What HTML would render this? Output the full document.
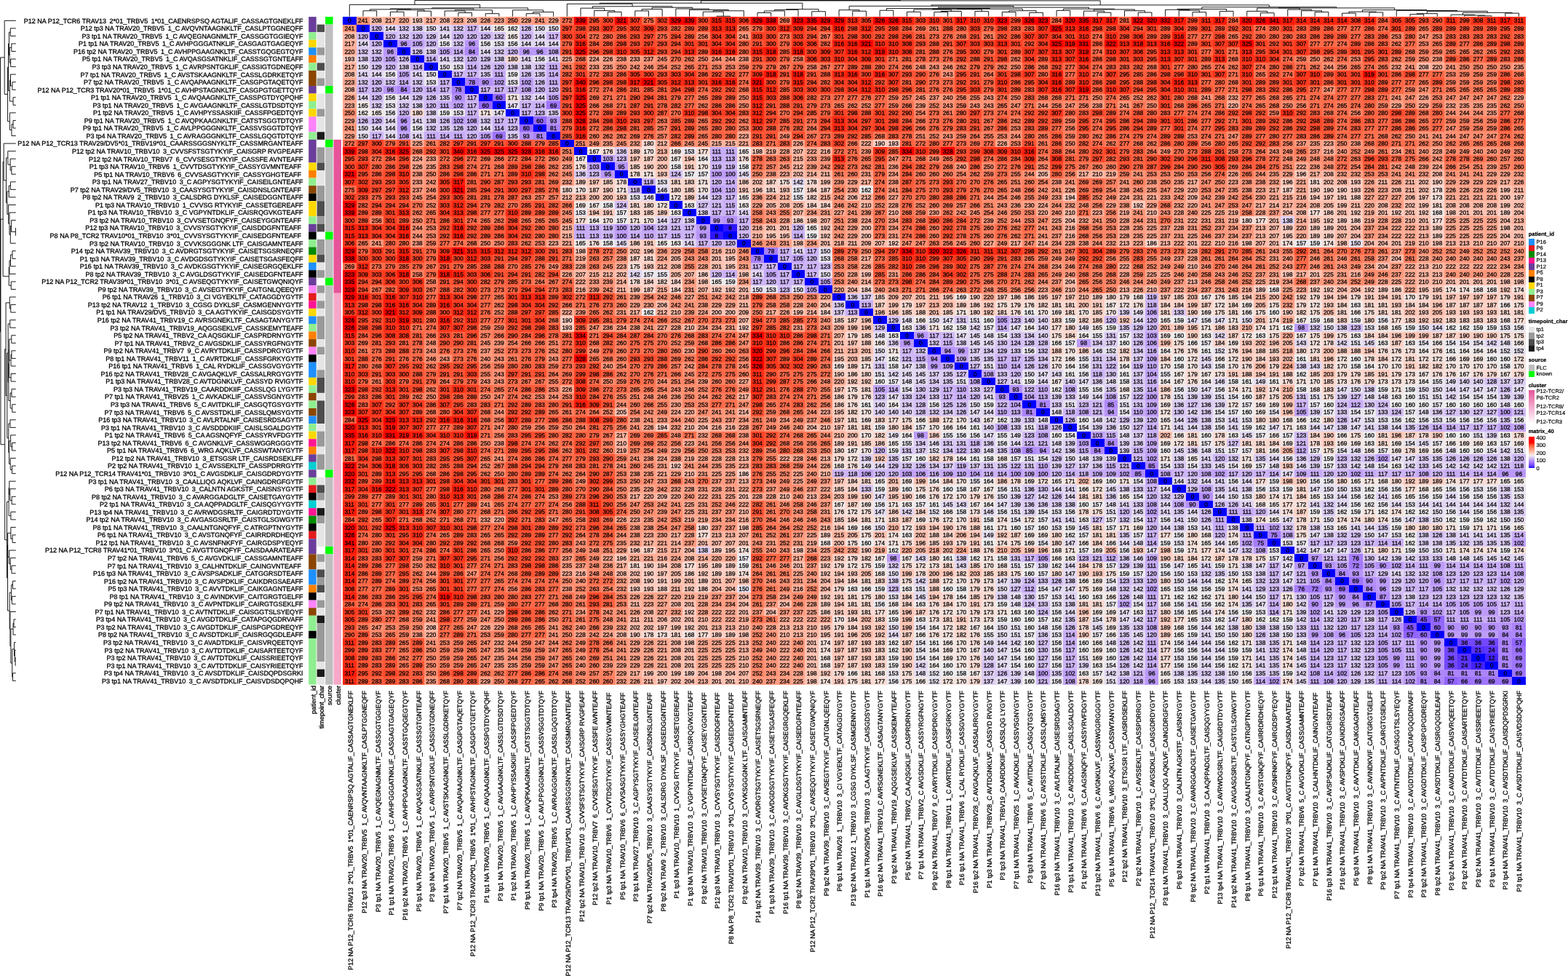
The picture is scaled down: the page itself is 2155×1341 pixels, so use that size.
<!DOCTYPE html><html lang="en"><head><meta charset="utf-8"><title>TCR distance heatmap</title><style>

html,body{margin:0;padding:0;background:#fff}
body{width:2155px;height:1341px;overflow:hidden;position:relative;font-family:"Liberation Sans",sans-serif;color:#000;text-rendering:geometricPrecision}
#rl{position:absolute;left:0;top:23.700000000000003px;-webkit-text-stroke:0.3px #000;width:416.5px;text-align:right;white-space:pre;font-size:9.03px;line-height:10.5469px}
#rl div{height:10.5469px}
#hm{position:absolute;left:471.0px;top:23.1px;width:1626.8125px;-webkit-text-stroke:0.3px #000;font-size:8.3px;line-height:10.5469px}
#hm div{display:flex;height:10.5469px}
#hm i{display:block;width:18.6875px;flex:none;text-align:center;font-style:normal;overflow:hidden;padding-top:0.4px;box-sizing:border-box;height:10.5469px}
#cl{position:absolute;left:2.3px;top:0;font-size:9.03px;white-space:pre;-webkit-text-stroke:0.3px #000}
#cl div{position:absolute;top:948.6px;height:18.6875px;line-height:18.6875px;width:600px;text-align:right;transform-origin:0 0;transform:rotate(-90deg) translate(-600px,0)}
#an div{position:absolute;top:942.2px;margin-left:1.4px;height:10.5px;line-height:10.5px;width:200px;text-align:right;transform-origin:0 0;transform:rotate(-90deg) translate(-200px,0);font-size:9.03px;-webkit-text-stroke:0.3px #000}
svg{position:absolute;overflow:visible}
#lg{position:absolute;left:0;top:0;font-size:7.5px;-webkit-text-stroke:0.2px #000}
#lg b,#lg span,#lg u{position:absolute;white-space:pre;line-height:10px}
#lg u{width:8.2px;height:8.5px;text-decoration:none}
.v0{background:#0000ff}.v6{background:#2e15ff}.v12{background:#4322fe}.v21{background:#5831fe}.v24{background:#5e36fe}.v36{background:#7348fd}.v45{background:#8154fd}.v57{background:#9065fc}.v60{background:#9469fb}.v66{background:#9b71fb}.v69{background:#9e75fb}.v72{background:#a279fa}.v75{background:#a57dfa}.v76{background:#a67efa}.v78{background:#a880fa}.v81{background:#ab84fa}.v84{background:#ae88f9}.v85{background:#af8af9}.v87{background:#b18cf9}.v90{background:#b490f9}.v93{background:#b794f8}.v94{background:#b896f8}.v95{background:#b997f8}.v96{background:#ba98f8}.v97{background:#bb99f8}.v98{background:#bc9bf8}.v99{background:#bd9cf8}.v100{background:#be9df7}.v102{background:#bfa0f7}.v103{background:#c0a1f7}.v104{background:#c1a3f7}.v105{background:#c2a4f7}.v106{background:#c3a5f7}.v108{background:#c5a8f6}.v109{background:#c6a9f6}.v110{background:#c7abf6}.v111{background:#c7acf6}.v112{background:#c8adf6}.v113{background:#c9aff6}.v114{background:#cab0f6}.v115{background:#cbb1f6}.v116{background:#ccb3f5}.v117{background:#cdb4f5}.v118{background:#cdb5f5}.v119{background:#ceb6f5}.v120{background:#cfb8f5}.v121{background:#d0b9f5}.v122{background:#d1baf5}.v123{background:#d2bcf4}.v124{background:#d2bdf4}.v125{background:#d3bef4}.v126{background:#d4c0f4}.v127{background:#d5c1f4}.v128{background:#d6c2f4}.v129{background:#d6c4f4}.v130{background:#d7c5f3}.v131{background:#d8c6f3}.v132{background:#d9c8f3}.v133{background:#dac9f3}.v134{background:#dacaf3}.v135{background:#dbccf3}.v136{background:#dccdf2}.v137{background:#ddcef2}.v138{background:#ded0f2}.v139{background:#ded1f2}.v140{background:#dfd2f2}.v141{background:#e0d4f2}.v142{background:#e1d5f1}.v143{background:#e1d6f1}.v144{background:#e2d8f1}.v145{background:#e3d9f1}.v146{background:#e4daf1}.v147{background:#e4dcf1}.v148{background:#e5ddf0}.v149{background:#e6def0}.v150{background:#e7e0f0}.v151{background:#e7e1f0}.v152{background:#e8e3f0}.v153{background:#e9e4ef}.v154{background:#e9e5ef}.v155{background:#eae7ef}.v156{background:#ebe8ef}.v157{background:#ece9ef}.v158{background:#ecebee}.v159{background:#edecee}.v160{background:#eeedee}.v161{background:#eeeded}.v162{background:#efecec}.v163{background:#f0ebea}.v164{background:#f0eae9}.v165{background:#f1e9e7}.v166{background:#f2e8e6}.v167{background:#f2e7e4}.v168{background:#f3e6e3}.v169{background:#f3e5e1}.v170{background:#f4e4e0}.v171{background:#f4e3de}.v172{background:#f5e2dd}.v173{background:#f6e1db}.v174{background:#f6e0da}.v175{background:#f7dfd8}.v176{background:#f7ddd7}.v177{background:#f8dcd5}.v178{background:#f8dbd4}.v179{background:#f9dad2}.v180{background:#f9d9d1}.v181{background:#f9d8cf}.v182{background:#fad7ce}.v183{background:#fad6cc}.v184{background:#fbd5cb}.v185{background:#fbd4c9}.v186{background:#fcd3c8}.v187{background:#fcd2c6}.v188{background:#fdd1c5}.v189{background:#fdcfc4}.v190{background:#fdcec2}.v191{background:#fecdc1}.v192{background:#feccbf}.v193{background:#fecbbe}.v194{background:#ffcabc}.v195{background:#ffc9bb}.v196{background:#ffc8b9}.v197{background:#ffc7b8}.v198{background:#ffc6b6}.v199{background:#ffc5b5}.v200{background:#ffc4b4}.v201{background:#ffc2b2}.v202{background:#ffc1b1}.v203{background:#ffc0af}.v204{background:#ffbfae}.v205{background:#ffbeac}.v206{background:#ffbdab}.v207{background:#ffbca9}.v208{background:#ffbba8}.v209{background:#ffbaa7}.v210{background:#ffb9a5}.v211{background:#ffb7a4}.v212{background:#ffb6a2}.v213{background:#ffb5a1}.v214{background:#ffb49f}.v215{background:#ffb39e}.v216{background:#ffb29d}.v217{background:#ffb19b}.v218{background:#ffb09a}.v219{background:#ffaf98}.v220{background:#ffae97}.v221{background:#ffac95}.v222{background:#ffab94}.v223{background:#ffaa93}.v224{background:#ffa991}.v225{background:#ffa890}.v226{background:#ffa78e}.v227{background:#ffa68d}.v228{background:#ffa58c}.v229{background:#ffa38a}.v230{background:#ffa289}.v231{background:#ffa187}.v232{background:#ffa086}.v233{background:#ff9f84}.v234{background:#ff9e83}.v235{background:#ff9d82}.v236{background:#ff9b80}.v237{background:#ff9a7f}.v238{background:#ff997e}.v239{background:#ff987c}.v240{background:#ff977b}.v241{background:#ff9679}.v242{background:#ff9478}.v243{background:#ff9377}.v244{background:#ff9275}.v245{background:#ff9174}.v246{background:#ff9072}.v247{background:#ff8f71}.v248{background:#ff8d70}.v249{background:#ff8c6e}.v250{background:#ff8b6d}.v251{background:#ff8a6b}.v252{background:#ff896a}.v253{background:#ff8769}.v254{background:#ff8667}.v255{background:#ff8566}.v256{background:#ff8465}.v257{background:#ff8363}.v258{background:#ff8162}.v259{background:#ff8061}.v260{background:#ff7f5f}.v261{background:#ff7e5e}.v262{background:#ff7c5c}.v263{background:#ff7b5b}.v264{background:#ff7a5a}.v265{background:#ff7958}.v266{background:#ff7757}.v267{background:#ff7656}.v268{background:#ff7554}.v269{background:#ff7353}.v270{background:#ff7251}.v271{background:#ff7150}.v272{background:#ff6f4f}.v273{background:#ff6e4d}.v274{background:#ff6d4c}.v275{background:#ff6b4b}.v276{background:#ff6a49}.v277{background:#ff6948}.v278{background:#ff6747}.v279{background:#ff6645}.v280{background:#ff6544}.v281{background:#ff6342}.v282{background:#ff6241}.v283{background:#ff6040}.v284{background:#ff5f3e}.v285{background:#ff5d3d}.v286{background:#ff5c3c}.v287{background:#ff5a3a}.v288{background:#ff5939}.v289{background:#ff5737}.v290{background:#ff5636}.v291{background:#ff5435}.v292{background:#ff5333}.v293{background:#ff5132}.v294{background:#ff5030}.v295{background:#ff4e2f}.v296{background:#ff4c2d}.v297{background:#ff4a2c}.v298{background:#ff492b}.v299{background:#ff4729}.v300{background:#ff4528}.v301{background:#ff4326}.v302{background:#ff4125}.v303{background:#ff3f23}.v304{background:#ff3d22}.v305{background:#ff3b20}.v306{background:#ff391e}.v307{background:#ff371d}.v308{background:#ff351b}.v309{background:#ff3319}.v310{background:#ff3018}.v311{background:#ff2e16}.v312{background:#ff2b14}.v313{background:#ff2812}.v314{background:#ff2510}.v315{background:#ff220e}.v316{background:#ff1e0c}.v317{background:#ff1a09}.v318{background:#ff1607}.v319{background:#ff1004}.v320{background:#ff0802}.v321{background:#ff0000}.v322{background:#ff0000}.v323{background:#ff0000}.v325{background:#ff0000}.v326{background:#ff0000}.v328{background:#ff0000}.v329{background:#ff0000}.v331{background:#ff0000}.v332{background:#ff0000}.v334{background:#ff0000}.v335{background:#ff0000}.v338{background:#ff0000}.v339{background:#ff0000}.v340{background:#ff0000}.v341{background:#ff0000}
</style></head><body>
<div id="rl"><div>P12 NA P12_TCR6 TRAV13 2*01_TRBV5 1*01_CAENRSPSQ AGTALIF_CASSAGTGNEKLFF</div><div>P12 tp3 NA TRAV20_TRBV5 1_C AVQVNTAAGNKLTF_CASLPTGGNEQFF</div><div>P3 tp1 NA TRAV20_TRBV5 1_C AVQEGNAGNMLTF_CASSGGTGGIEQYF</div><div>P1 tp1 NA TRAV20_TRBV5 1_C AVHPGGGATNKLIF_CASGAGTGAGEQYF</div><div>P16 tp2 NA TRAV20_TRBV5 1_C AVHPPGAAGNKLTF_CASSTGQGEGTQYF</div><div>P5 tp1 NA TRAV20_TRBV5 1_C AVQASGSATNKLIF_CASSSGTGNTEAFF</div><div>P3 tp3 NA TRAV20_TRBV5 1_C AVRPSNTGKLIF_CASSIGTGDNEQFF</div><div>P7 tp1 NA TRAV20_TRBV5 1_C AVSTSKAAGNKLTF_CASSLGDRKETQYF</div><div>P7 tp2 NA TRAV20_TRBV5 1_C AVQAPAAGNKLTF_CASGPGTAQETQYF</div><div>P12 NA P12_TCR3 TRAV20*01_TRBV5 1*01_C AVHPSTAGNKLTF_CASGPGTGETTQYF</div><div>P1 tp1 NA TRAV20_TRBV5 1_C AVQAAGNKLTF_CASSPGTDYQPQHF</div><div>P3 tp1 NA TRAV20_TRBV5 1_C AVGAAGNKLTF_CASSLGTDSDTQYF</div><div>P1 tp2 NA TRAV20_TRBV5 1_C AVHPYSSASKIIF_CASSFPGEDTQYF</div><div>P9 tp1 NA TRAV20_TRBV5 1_C AVQPKAAGNKLTF_CATSTSGGTDTQYF</div><div>P9 tp1 NA TRAV20_TRBV5 1_C AVLPPGGGNKLTF_CASSVSGGTDTQYF</div><div>P3 tp4 NA TRAV20_TRBV5 1_C AVRAGGGNKLTF_CASSLGQGTDTQYF</div><div>P12 NA P12_TCR13 TRAV29/DV5*01_TRBV19*01_CAARSSGGSNYKLTF_CASSMRGANTEAFF</div><div>P12 tp2 NA TRAV10_TRBV10 3_CVVSFSTSGTYKYIF_CAISGRP RVGPEAFF</div><div>P12 tp2 NA TRAV10_TRBV7 6_CVVSESGTYKYIF_CASSFE AVNTEAFF</div><div>P1 tp3 NA TRAV10_TRBV6 1_CVVTDSGTYKYIF_CASSYGVMNTEAFF </div><div>P5 tp1 NA TRAV10_TRBV6 6_CVVSASGTYKYIF_CASSYGHGTEAFF </div><div>P3 tp1 NA TRAV27_TRBV10 3_C AGPYSGTYKYIF_CAISEILGNTEAFF</div><div>P7 tp2 NA TRAV29/DV5_TRBV10 3_CAASYSGTYKYIF_CAISDNSLGNTEAFF </div><div>P8 tp2 NA TRAV9 2_TRBV10 3_CALSDRG DYKLSF_CAISEDGGNTEAFF</div><div>P1 tp3 NA TRAV10_TRBV10 1_CVVSG RTYKYIF_CASSETGEREAFF</div><div>P1 tp3 NA TRAV10_TRBV10 3_C VGPYNTDKLIF_CAISRQGVKGTEAFF</div><div>P3 tp2 NA TRAV10_TRBV10 3_CVVSETGNQFYF_CAISEYGGNTEAFF </div><div>P12 tp3 NA TRAV10_TRBV10 3_CVVSYSGTYKYIF_CAISDDGFNTEAFF </div><div>P8 NA P8_TCR2 TRAV10*01_TRBV10 3*01_CVVSYSGTYKYIF_CAISEDGFNTEAFF </div><div>P3 tp2 NA TRAV10_TRBV10 3_CVVKSGGGNK LTF_CAISGAMNTEAFF</div><div>P14 tp2 NA TRAV39_TRBV10 3_C AVDRGTSGTYKYIF_CAISETSGSRNEQFF</div><div>P1 tp3 NA TRAV39_TRBV10 3_C AVDGDSGTYKYIF_CAISETSGASFEQFF</div><div>P16 tp1 NA TRAV39_TRBV10 3_C AVDKGSGTYKYIF_CAISEGRGQEKLFF</div><div>P8 tp2 NA TRAV39_TRBV10 3_C AVGLDSGTYKYIF_CAISEDGFNTEAFF</div><div>P12 NA P12_TCR2 TRAV39*01_TRBV10 3*01_C AVSEQGTYKYIF_CAISETGWQNIQYF</div><div>P9 tp2 NA TRAV39_TRBV10 3_C AVSEGTYKYIF_CAITGNLQEEQYF</div><div>P6 tp1 NA TRAV26 1_TRBV10 3_CI VGYEKLTF_CATAGGDYGYTF</div><div>P13 tp2 NA TRAV12 1_TRBV10 3_CGSG DYKLSF_CASMGENNYGYTF</div><div>P1 tp1 NA TRAV29/DV5_TRBV10 3_CA AGTYKYIF_CAISGDSYGYTF</div><div>P16 tp2 NA TRAV41_TRBV19_C AVRSGNEKLTF_CASAGTANYGYTF</div><div>P3 tp2 NA TRAV41_TRBV19_AQGGSEKLVF_CASSKEMYTEAFF</div><div>P5 tp2 NA TRAV41_TRBV2_CA AQSGKLIF_CASPRDRNYGYTF</div><div>P7 tp1 NA TRAV41_TRBV2_C AVGSDKLIF_CASSYRGFNGYTF</div><div>P9 tp2 NA TRAV41_TRBV7 9_C AVRYTDKLIF_CASSPDRGYGYTF</div><div>P8 tp1 NA TRAV41_TRBV11 1_C AVRTDKLIF_CASSFGRKYGYTF</div><div>P16 tp1 NA TRAV41_TRBV6 1_CAL RYDKLIF_CASSGVGYGYTF</div><div>P16 tp2 NA TRAV41_TRBV28_C AVGAQKLVF_CASSALRRGYGYTF</div><div>P1 tp3 NA TRAV41_TRBV28_C AVTDGNKLVF_CASSYD RVIGYTF</div><div>P3 tp3 NA TRAV41_TRBV19_CAARDDKIIF_CASSLQG LYGYTF</div><div>P7 tp1 NA TRAV41_TRBV25 1_C AVKADKLIF_CASSVSGNYGYTF</div><div>P3 tp3 NA TRAV41_TRBV6 5_C AVITDKLIF_CASGQTGSYGYTF</div><div>P7 tp3 NA TRAV41_TRBV6 5_C AVSSTDKLIF_CASSLQMSYGYTF</div><div>P16 tp3 NA TRAV41_TRBV10 3_C AVLRTALNF_CAISESRDSAGYTF</div><div>P3 tp1 NA TRAV41_TRBV10 3_C AVSDDDKIIF_CAISLSGALDGYTF</div><div>P1 tp2 NA TRAV41_TRBV6 5_CA AGSNQFYF_CASSYRVFDGYTF</div><div>P13 tp2 NA TRAV41_TRBV6 6_C AVGNKLVF_CASSWGGRGGGYTF</div><div>P5 tp1 NA TRAV41_TRBV6 6_WRG AQKLVF_CASSWTANYGYTF</div><div>P12 tp2 NA TRAV41_TRBV10 3_ETSGSR LTF_CAISRDSEKLFF</div><div>P2 tp2 NA TRAV41_TRBV10 1_C AVSSEKLTF_CASSPDRRGYTF</div><div>P12 NA P12_TCR14 TRAV41*01_TRBV10 3*01_C AVGSDKLIF_CAISGDRDYGYTF</div><div>P3 tp1 NA TRAV41_TRBV10 3_CAALLIQG AQKLVF_CAINGDRGFGYTF</div><div>P6 tp3 NA TRAV41_TRBV10 3_CALNTN AGKSTF_CAISNSYGYTF</div><div>P8 tp2 NA TRAV41_TRBV10 3_C AVARGGADGLTF_CAISETGAYGYTF</div><div>P2 tp1 NA TRAV41_TRBV10 3_CA AQPPADGLTF_CAISQGYYGYTF</div><div>P13 tp4 NA TRAV41_TRBV10 3_C AVRWDGSRLTF_CAIGRDTDYGYTF</div><div>P14 tp2 NA TRAV41_TRBV10 3_C AVGASGSRLTF_CAISTGLSGWGYTF</div><div>P8 tp1 NA TRAV41_TRBV10 3_CAALNTGNQFYF_C ATRGPTNYGYTF</div><div>P6 tp1 NA TRAV41_TRBV10 3_C AVSTGNQFYF_CAIRRDRDHEQYF</div><div>P12 tp1 NA TRAV41_TRBV10 3_C AVSNFNKFYF_CAIRGDSPYEQYF</div><div>P12 NA P12_TCR8 TRAV41*01_TRBV10 3*01_C AVGTTGNQFYF_CAISDAARATEAFF</div><div>P7 tp2 NA TRAV41_TRBV6 5_C AVGVDKLIF_CASSGAMNTEAFF</div><div>P7 tp1 NA TRAV41_TRBV10 3_CALHNTDKLIF_CAINGVNTEAFF </div><div>P16 tp3 NA TRAV41_TRBV10 3_C AVSPSADKLIF_CATGGRSDTEAFF</div><div>P16 tp2 NA TRAV41_TRBV10 3_C AVSPDKLIF_CAIKDRGSAEAFF</div><div>P5 tp3 NA TRAV41_TRBV10 3_C AVVTDKLIF_CAIKGAGNTEAFF</div><div>P8 tp1 NA TRAV41_TRBV10 3_C AVINDKVIF_CAITGRGTGELFF</div><div>P9 tp2 NA TRAV41_TRBV10 3_C AVPNTDKLIF_CAIRGTGSEKLFF</div><div>P7 tp1 NA TRAV41_TRBV10 3_C AVTNTDKLIF_CAISGGTSLSYEQYF</div><div>P3 tp4 NA TRAV41_TRBV10 3_C AVGDTDKLIF_CATAPGQGDRVAFF</div><div>P3 tp2 NA TRAV41_TRBV10 3_C AVGDTDKLIF_CAISPGPGDREQYF</div><div>P8 tp2 NA TRAV41_TRBV10 3_C AVSDTDKLIF_CAISRGQGDLEAFF</div><div>P3 tp2 NA TRAV41_TRBV10 3_C AVADTDKLIF_CAISVRQEETQYF</div><div>P3 tp2 NA TRAV41_TRBV10 3_C AVTDTDKLIF_CAISARTEETQYF</div><div>P3 tp2 NA TRAV41_TRBV10 3_C AVTDTDKLIF_CAISSRIEETQYF</div><div>P3 tp1 NA TRAV41_TRBV10 3_C AVTDTDKLIF_CAISYRIEETQYF</div><div>P3 tp4 NA TRAV41_TRBV10 3_C AVSDTDKLIF_CAISDQPDSGRKI</div><div>P3 tp1 NA TRAV41_TRBV10 3_C AVSDTDKLIF_CAISVDSDQPQHF</div></div>
<svg width="2155" height="1341" style="left:0;top:0"><rect x="424.2" y="23.10" width="10.5" height="21.09" fill="#6a3d9a"/><rect x="424.2" y="44.19" width="10.5" height="10.55" fill="#90ee90"/><rect x="424.2" y="54.74" width="10.5" height="10.55" fill="#ffd700"/><rect x="424.2" y="65.29" width="10.5" height="10.55" fill="#1e90ff"/><rect x="424.2" y="75.83" width="10.5" height="10.55" fill="#ff7f00"/><rect x="424.2" y="86.38" width="10.5" height="10.55" fill="#90ee90"/><rect x="424.2" y="96.93" width="10.5" height="21.09" fill="#8b4500"/><rect x="424.2" y="118.02" width="10.5" height="10.55" fill="#6a3d9a"/><rect x="424.2" y="128.57" width="10.5" height="10.55" fill="#ffd700"/><rect x="424.2" y="139.12" width="10.5" height="10.55" fill="#90ee90"/><rect x="424.2" y="149.66" width="10.5" height="10.55" fill="#ffd700"/><rect x="424.2" y="160.21" width="10.5" height="21.09" fill="#ff83fa"/><rect x="424.2" y="181.30" width="10.5" height="10.55" fill="#90ee90"/><rect x="424.2" y="191.85" width="10.5" height="31.64" fill="#6a3d9a"/><rect x="424.2" y="223.49" width="10.5" height="10.55" fill="#ffd700"/><rect x="424.2" y="234.04" width="10.5" height="10.55" fill="#ff7f00"/><rect x="424.2" y="244.58" width="10.5" height="10.55" fill="#90ee90"/><rect x="424.2" y="255.13" width="10.5" height="10.55" fill="#8b4500"/><rect x="424.2" y="265.68" width="10.5" height="10.55" fill="#000000"/><rect x="424.2" y="276.23" width="10.5" height="21.09" fill="#ffd700"/><rect x="424.2" y="297.32" width="10.5" height="10.55" fill="#90ee90"/><rect x="424.2" y="307.87" width="10.5" height="10.55" fill="#6a3d9a"/><rect x="424.2" y="318.41" width="10.5" height="10.55" fill="#000000"/><rect x="424.2" y="328.96" width="10.5" height="10.55" fill="#90ee90"/><rect x="424.2" y="339.51" width="10.5" height="10.55" fill="#008b00"/><rect x="424.2" y="350.05" width="10.5" height="10.55" fill="#ffd700"/><rect x="424.2" y="360.60" width="10.5" height="10.55" fill="#1e90ff"/><rect x="424.2" y="371.15" width="10.5" height="10.55" fill="#000000"/><rect x="424.2" y="381.69" width="10.5" height="10.55" fill="#6a3d9a"/><rect x="424.2" y="392.24" width="10.5" height="10.55" fill="#ff83fa"/><rect x="424.2" y="402.79" width="10.5" height="10.55" fill="#e41a1c"/><rect x="424.2" y="413.33" width="10.5" height="10.55" fill="#ff1493"/><rect x="424.2" y="423.88" width="10.5" height="10.55" fill="#ffd700"/><rect x="424.2" y="434.43" width="10.5" height="10.55" fill="#1e90ff"/><rect x="424.2" y="444.98" width="10.5" height="10.55" fill="#90ee90"/><rect x="424.2" y="455.52" width="10.5" height="10.55" fill="#ff7f00"/><rect x="424.2" y="466.07" width="10.5" height="10.55" fill="#8b4500"/><rect x="424.2" y="476.62" width="10.5" height="10.55" fill="#ff83fa"/><rect x="424.2" y="487.16" width="10.5" height="10.55" fill="#000000"/><rect x="424.2" y="497.71" width="10.5" height="21.09" fill="#1e90ff"/><rect x="424.2" y="518.80" width="10.5" height="10.55" fill="#ffd700"/><rect x="424.2" y="529.35" width="10.5" height="10.55" fill="#90ee90"/><rect x="424.2" y="539.90" width="10.5" height="10.55" fill="#8b4500"/><rect x="424.2" y="550.44" width="10.5" height="10.55" fill="#90ee90"/><rect x="424.2" y="560.99" width="10.5" height="10.55" fill="#8b4500"/><rect x="424.2" y="571.54" width="10.5" height="10.55" fill="#1e90ff"/><rect x="424.2" y="582.08" width="10.5" height="10.55" fill="#90ee90"/><rect x="424.2" y="592.63" width="10.5" height="10.55" fill="#ffd700"/><rect x="424.2" y="603.18" width="10.5" height="10.55" fill="#ff1493"/><rect x="424.2" y="613.73" width="10.5" height="10.55" fill="#ff7f00"/><rect x="424.2" y="624.27" width="10.5" height="10.55" fill="#6a3d9a"/><rect x="424.2" y="634.82" width="10.5" height="10.55" fill="#00ced1"/><rect x="424.2" y="645.37" width="10.5" height="10.55" fill="#6a3d9a"/><rect x="424.2" y="655.91" width="10.5" height="10.55" fill="#90ee90"/><rect x="424.2" y="666.46" width="10.5" height="10.55" fill="#e41a1c"/><rect x="424.2" y="677.01" width="10.5" height="10.55" fill="#000000"/><rect x="424.2" y="687.55" width="10.5" height="10.55" fill="#00ced1"/><rect x="424.2" y="698.10" width="10.5" height="10.55" fill="#ff1493"/><rect x="424.2" y="708.65" width="10.5" height="10.55" fill="#008b00"/><rect x="424.2" y="719.19" width="10.5" height="10.55" fill="#000000"/><rect x="424.2" y="729.74" width="10.5" height="10.55" fill="#e41a1c"/><rect x="424.2" y="740.29" width="10.5" height="21.09" fill="#6a3d9a"/><rect x="424.2" y="761.38" width="10.5" height="21.09" fill="#8b4500"/><rect x="424.2" y="782.48" width="10.5" height="21.09" fill="#1e90ff"/><rect x="424.2" y="803.57" width="10.5" height="10.55" fill="#ff7f00"/><rect x="424.2" y="814.12" width="10.5" height="10.55" fill="#000000"/><rect x="424.2" y="824.66" width="10.5" height="10.55" fill="#ff83fa"/><rect x="424.2" y="835.21" width="10.5" height="10.55" fill="#8b4500"/><rect x="424.2" y="845.76" width="10.5" height="21.09" fill="#90ee90"/><rect x="424.2" y="866.85" width="10.5" height="10.55" fill="#000000"/><rect x="424.2" y="877.40" width="10.5" height="63.28" fill="#90ee90"/><rect x="435.6" y="33.65" width="10.5" height="10.55" fill="#4d4d4d"/><rect x="435.6" y="44.19" width="10.5" height="21.09" fill="#e5e5e5"/><rect x="435.6" y="65.29" width="10.5" height="10.55" fill="#999999"/><rect x="435.6" y="75.83" width="10.5" height="10.55" fill="#e5e5e5"/><rect x="435.6" y="86.38" width="10.5" height="10.55" fill="#4d4d4d"/><rect x="435.6" y="96.93" width="10.5" height="10.55" fill="#e5e5e5"/><rect x="435.6" y="107.47" width="10.5" height="10.55" fill="#999999"/><rect x="435.6" y="128.57" width="10.5" height="21.09" fill="#e5e5e5"/><rect x="435.6" y="149.66" width="10.5" height="10.55" fill="#999999"/><rect x="435.6" y="160.21" width="10.5" height="21.09" fill="#e5e5e5"/><rect x="435.6" y="181.30" width="10.5" height="10.55" fill="#1a1a1a"/><rect x="435.6" y="202.40" width="10.5" height="21.09" fill="#999999"/><rect x="435.6" y="223.49" width="10.5" height="10.55" fill="#4d4d4d"/><rect x="435.6" y="234.04" width="10.5" height="21.09" fill="#e5e5e5"/><rect x="435.6" y="255.13" width="10.5" height="21.09" fill="#999999"/><rect x="435.6" y="276.23" width="10.5" height="21.09" fill="#4d4d4d"/><rect x="435.6" y="297.32" width="10.5" height="10.55" fill="#999999"/><rect x="435.6" y="307.87" width="10.5" height="10.55" fill="#4d4d4d"/><rect x="435.6" y="328.96" width="10.5" height="21.09" fill="#999999"/><rect x="435.6" y="350.05" width="10.5" height="10.55" fill="#4d4d4d"/><rect x="435.6" y="360.60" width="10.5" height="10.55" fill="#e5e5e5"/><rect x="435.6" y="371.15" width="10.5" height="10.55" fill="#999999"/><rect x="435.6" y="392.24" width="10.5" height="10.55" fill="#999999"/><rect x="435.6" y="402.79" width="10.5" height="10.55" fill="#e5e5e5"/><rect x="435.6" y="413.33" width="10.5" height="10.55" fill="#999999"/><rect x="435.6" y="423.88" width="10.5" height="10.55" fill="#e5e5e5"/><rect x="435.6" y="434.43" width="10.5" height="31.64" fill="#999999"/><rect x="435.6" y="466.07" width="10.5" height="10.55" fill="#e5e5e5"/><rect x="435.6" y="476.62" width="10.5" height="10.55" fill="#999999"/><rect x="435.6" y="487.16" width="10.5" height="21.09" fill="#e5e5e5"/><rect x="435.6" y="508.26" width="10.5" height="10.55" fill="#999999"/><rect x="435.6" y="518.80" width="10.5" height="21.09" fill="#4d4d4d"/><rect x="435.6" y="539.90" width="10.5" height="10.55" fill="#e5e5e5"/><rect x="435.6" y="550.44" width="10.5" height="31.64" fill="#4d4d4d"/><rect x="435.6" y="582.08" width="10.5" height="10.55" fill="#e5e5e5"/><rect x="435.6" y="592.63" width="10.5" height="21.09" fill="#999999"/><rect x="435.6" y="613.73" width="10.5" height="10.55" fill="#e5e5e5"/><rect x="435.6" y="624.27" width="10.5" height="21.09" fill="#999999"/><rect x="435.6" y="655.91" width="10.5" height="10.55" fill="#e5e5e5"/><rect x="435.6" y="666.46" width="10.5" height="10.55" fill="#4d4d4d"/><rect x="435.6" y="677.01" width="10.5" height="10.55" fill="#999999"/><rect x="435.6" y="687.55" width="10.5" height="10.55" fill="#e5e5e5"/><rect x="435.6" y="698.10" width="10.5" height="10.55" fill="#1a1a1a"/><rect x="435.6" y="708.65" width="10.5" height="10.55" fill="#999999"/><rect x="435.6" y="719.19" width="10.5" height="31.64" fill="#e5e5e5"/><rect x="435.6" y="761.38" width="10.5" height="10.55" fill="#999999"/><rect x="435.6" y="771.93" width="10.5" height="10.55" fill="#e5e5e5"/><rect x="435.6" y="782.48" width="10.5" height="10.55" fill="#4d4d4d"/><rect x="435.6" y="793.02" width="10.5" height="10.55" fill="#999999"/><rect x="435.6" y="803.57" width="10.5" height="10.55" fill="#4d4d4d"/><rect x="435.6" y="814.12" width="10.5" height="10.55" fill="#e5e5e5"/><rect x="435.6" y="824.66" width="10.5" height="10.55" fill="#999999"/><rect x="435.6" y="835.21" width="10.5" height="10.55" fill="#e5e5e5"/><rect x="435.6" y="845.76" width="10.5" height="10.55" fill="#1a1a1a"/><rect x="435.6" y="856.30" width="10.5" height="52.73" fill="#999999"/><rect x="435.6" y="909.04" width="10.5" height="10.55" fill="#e5e5e5"/><rect x="435.6" y="919.58" width="10.5" height="10.55" fill="#1a1a1a"/><rect x="435.6" y="930.13" width="10.5" height="10.55" fill="#e5e5e5"/><rect x="447.1" y="23.10" width="10.5" height="10.55" fill="#00ff00"/><rect x="447.1" y="33.65" width="10.5" height="84.38" fill="#bebebe"/><rect x="447.1" y="118.02" width="10.5" height="10.55" fill="#00ff00"/><rect x="447.1" y="128.57" width="10.5" height="63.28" fill="#bebebe"/><rect x="447.1" y="191.85" width="10.5" height="10.55" fill="#00ff00"/><rect x="447.1" y="202.40" width="10.5" height="116.02" fill="#bebebe"/><rect x="447.1" y="318.41" width="10.5" height="10.55" fill="#00ff00"/><rect x="447.1" y="328.96" width="10.5" height="52.73" fill="#bebebe"/><rect x="447.1" y="381.69" width="10.5" height="10.55" fill="#00ff00"/><rect x="447.1" y="392.24" width="10.5" height="253.12" fill="#bebebe"/><rect x="447.1" y="645.37" width="10.5" height="10.55" fill="#00ff00"/><rect x="447.1" y="655.91" width="10.5" height="94.92" fill="#bebebe"/><rect x="447.1" y="750.83" width="10.5" height="10.55" fill="#00ff00"/><rect x="447.1" y="761.38" width="10.5" height="179.30" fill="#bebebe"/><rect x="458.5" y="191.85" width="10.5" height="210.94" fill="#e7549a"/><rect x="458.5" y="402.79" width="10.5" height="537.89" fill="#f7a8c9"/></svg>
<svg width="2155" height="1341" style="left:0;top:0" fill="none" stroke="#000" stroke-width="0.9"><path d="M0.50 78.97V455.91M6.18 78.97H0.50M6.18 28.37V129.56M21.80 28.37H6.18M10.56 129.56H6.18M10.56 92.31V166.80M11.49 92.31H10.56M11.49 60.01V124.61M12.43 60.01H11.49M12.43 44.19V75.83M14.30 44.19H12.43M14.30 38.92V49.47M21.80 38.92H14.30M21.80 49.47H14.30M13.18 75.83H12.43M13.18 65.29V86.38M15.80 65.29H13.18M15.80 60.01V70.56M21.80 60.01H15.80M21.80 70.56H15.80M14.68 86.38H13.18M14.68 81.11V91.65M21.80 81.11H14.68M21.80 91.65H14.68M13.37 124.61H11.49M13.37 110.11V139.12M14.49 110.11H13.37M14.49 102.20V118.02M21.80 102.20H14.49M16.93 118.02H14.49M16.93 112.75V123.30M21.80 112.75H16.93M21.80 123.30H16.93M18.05 139.12H13.37M18.05 133.84V144.39M21.80 133.84H18.05M21.80 144.39H18.05M13.37 166.80H10.56M13.37 154.94V178.67M21.80 154.94H13.37M15.99 178.67H13.37M15.99 170.76V186.58M18.05 170.76H15.99M18.05 165.48V176.03M21.80 165.48H18.05M21.80 176.03H18.05M21.80 186.58H15.99M0.94 455.91H0.50M0.94 301.09V610.73M4.12 301.09H0.94M4.12 222.46V379.72M5.18 222.46H4.12M5.18 197.12V247.80M21.80 197.12H5.18M8.50 247.80H5.18M8.50 216.90V278.70M10.81 216.90H8.50M10.81 207.67V226.13M21.80 207.67H10.81M14.12 226.13H10.81M14.12 218.22V234.04M21.80 218.22H14.12M15.87 234.04H14.12M15.87 228.76V239.31M21.80 228.76H15.87M21.80 239.31H15.87M9.87 278.70H8.50M9.87 263.04V294.35M12.24 263.04H9.87M12.24 255.13V270.95M14.43 255.13H12.24M14.43 249.86V260.40M21.80 249.86H14.43M21.80 260.40H14.43M21.80 270.95H12.24M11.62 294.35H9.87M11.62 281.50V307.21M21.80 281.50H11.62M12.99 307.21H11.62M12.99 292.05V322.37M21.80 292.05H12.99M14.30 322.37H12.99M14.30 310.50V334.23M15.62 310.50H14.30M15.62 302.59V318.41M21.80 302.59H15.62M21.43 318.41H15.62M21.43 313.14V323.69M21.80 313.14H21.43M21.80 323.69H21.43M21.80 334.23H14.30M12.24 379.72H4.12M12.24 367.19V392.24M12.99 367.19H12.24M12.99 357.96V376.42M14.49 357.96H12.99M14.49 350.05V365.87M16.93 350.05H14.49M16.93 344.78V355.33M21.80 344.78H16.93M21.80 355.33H16.93M21.80 365.87H14.49M21.80 376.42H12.99M15.24 392.24H12.24M15.24 386.97V397.51M21.80 386.97H15.24M21.80 397.51H15.24M6.68 610.73H0.94M6.68 479.71V741.75M8.06 479.71H6.68M8.06 415.97V543.44M13.24 415.97H8.06M13.24 408.06V423.88M21.80 408.06H13.24M14.74 423.88H13.24M14.74 418.61V429.15M21.80 418.61H14.74M21.80 429.15H14.74M9.81 543.44H8.06M9.81 485.02V601.86M11.12 485.02H9.81M11.12 444.98V525.07M13.74 444.98H11.12M13.74 439.70V450.25M21.80 439.70H13.74M21.80 450.25H13.74M11.87 525.07H11.12M11.87 499.69V550.44M12.37 499.69H11.87M12.37 480.57V518.80M12.62 480.57H12.37M12.62 466.07V495.07M15.80 466.07H12.62M15.80 460.80V471.34M21.80 460.80H15.80M21.80 471.34H15.80M14.99 495.07H12.62M14.99 487.16V502.98M15.93 487.16H14.99M15.93 481.89V492.44M21.80 481.89H15.93M21.80 492.44H15.93M21.80 502.98H14.99M15.05 518.80H12.37M15.05 513.53V524.08M21.80 513.53H15.05M21.80 524.08H15.05M14.18 550.44H11.87M14.18 539.90V560.99M15.99 539.90H14.18M15.99 534.62V545.17M21.80 534.62H15.99M21.80 545.17H15.99M16.74 560.99H14.18M16.74 555.72V566.26M21.80 555.72H16.74M21.80 566.26H16.74M11.81 601.86H9.81M11.81 582.08V621.64M13.93 582.08H11.81M13.93 576.81V587.36M21.80 576.81H13.93M21.80 587.36H13.93M12.56 621.64H11.81M12.56 605.81V637.46M14.62 605.81H12.56M14.62 597.90V613.73M21.80 597.90H14.62M16.55 613.73H14.62M16.55 608.45V619.00M21.80 608.45H16.55M21.80 619.00H16.55M14.24 637.46H12.56M14.24 629.55V645.37M21.80 629.55H14.24M16.49 645.37H14.24M16.49 640.09V650.64M21.80 640.09H16.49M21.80 650.64H16.49M9.43 741.75H6.68M9.43 689.53V793.97M12.06 689.53H9.43M12.06 670.41V708.65M12.81 670.41H12.06M12.81 661.19V679.64M21.80 661.19H12.81M13.74 679.64H12.81M13.74 671.73V687.55M21.80 671.73H13.74M16.18 687.55H13.74M16.18 682.28V692.83M21.80 682.28H16.18M21.80 692.83H16.18M14.87 708.65H12.06M14.87 703.37V713.92M21.80 703.37H14.87M21.80 713.92H14.87M10.56 793.97H9.43M10.56 748.86V839.08M10.68 748.86H10.56M10.68 732.38V765.34M14.87 732.38H10.68M14.87 724.47V740.29M21.80 724.47H14.87M17.12 740.29H14.87M17.12 735.01V745.56M21.80 735.01H17.12M21.80 745.56H17.12M12.62 765.34H10.68M12.62 756.11V774.56M21.80 756.11H12.62M14.24 774.56H12.62M14.24 766.65V782.48M21.80 766.65H14.24M15.99 782.48H14.24M15.99 777.20V787.75M21.80 777.20H15.99M21.80 787.75H15.99M13.18 839.08H10.56M13.18 814.12V864.05M15.62 814.12H13.18M15.62 803.57V824.66M17.49 803.57H15.62M17.49 798.30V808.84M21.80 798.30H17.49M21.80 808.84H17.49M16.37 824.66H15.62M16.37 819.39V829.94M21.80 819.39H16.37M21.80 829.94H16.37M13.93 864.05H13.18M13.93 840.48V887.61M21.80 840.48H13.93M14.87 887.61H13.93M14.87 864.21V911.02M18.05 864.21H14.87M18.05 856.30V872.12M18.99 856.30H18.05M18.99 851.03V861.58M21.80 851.03H18.99M21.80 861.58H18.99M21.80 872.12H18.05M16.74 911.02H14.87M16.74 891.90V930.13M19.55 891.90H16.74M19.55 882.67V901.13M21.80 882.67H19.55M20.30 901.13H19.55M20.30 893.22V909.04M21.80 893.22H20.30M21.05 909.04H20.30M21.05 903.76V914.31M21.80 903.76H21.05M21.80 914.31H21.05M17.49 930.13H16.74M17.49 924.86V935.40M21.80 924.86H17.49M21.80 935.40H17.49"/><path d="M569.99 0.50H1237.87M569.99 6.40V0.50M480.34 6.40H659.63M480.34 22.60V6.40M659.63 10.93V6.40M593.64 10.93H725.62M593.64 11.91V10.93M536.41 11.91H650.87M536.41 12.88V11.91M508.38 12.88H564.44M508.38 14.82V12.88M499.03 14.82H517.72M499.03 22.60V14.82M517.72 22.60V14.82M564.44 13.66V12.88M545.75 13.66H583.12M545.75 16.38V13.66M536.41 16.38H555.09M536.41 22.60V16.38M555.09 22.60V16.38M583.12 15.21V13.66M573.78 15.21H592.47M573.78 22.60V15.21M592.47 22.60V15.21M650.87 13.85V11.91M625.17 13.85H676.56M625.17 15.02V13.85M611.16 15.02H639.19M611.16 22.60V15.02M639.19 17.54V15.02M629.84 17.54H648.53M629.84 22.60V17.54M648.53 22.60V17.54M676.56 18.71V13.85M667.22 18.71H685.91M667.22 22.60V18.71M685.91 22.60V18.71M725.62 13.85V10.93M704.59 13.85H746.64M704.59 22.60V13.85M746.64 16.57V13.85M732.62 16.57H760.66M732.62 18.71V16.57M723.28 18.71H741.97M723.28 22.60V18.71M741.97 22.60V18.71M760.66 22.60V16.57M1237.87 0.95V0.50M963.55 0.95H1512.19M963.55 4.26V0.95M824.24 4.26H1102.87M824.24 5.36V4.26M779.34 5.36H869.13M779.34 22.60V5.36M869.13 8.80V5.36M814.38 8.80H923.88M814.38 11.19V8.80M798.03 11.19H830.73M798.03 22.60V11.19M830.73 14.63V11.19M816.72 14.63H844.75M816.72 22.60V14.63M844.75 16.44V14.63M835.41 16.44H854.09M835.41 22.60V16.44M854.09 22.60V16.44M923.88 10.22V8.80M896.14 10.22H951.62M896.14 12.68V10.22M882.12 12.68H910.16M882.12 14.95V12.68M872.78 14.95H891.47M872.78 22.60V14.95M891.47 22.60V14.95M910.16 22.60V12.68M951.62 12.04V10.22M928.84 12.04H974.39M928.84 22.60V12.04M974.39 13.46V12.04M947.53 13.46H1001.26M947.53 22.60V13.46M1001.26 14.82V13.46M980.23 14.82H1022.28M980.23 16.18V14.82M966.22 16.18H994.25M966.22 22.60V16.18M994.25 22.21V16.18M984.91 22.21H1003.59M984.91 22.60V22.21M1003.59 22.60V22.21M1022.28 22.60V14.82M1102.87 12.68V4.26M1080.68 12.68H1125.06M1080.68 13.46V12.68M1064.33 13.46H1097.03M1064.33 15.02V13.46M1050.31 15.02H1078.34M1050.31 17.54V15.02M1040.97 17.54H1059.66M1040.97 22.60V17.54M1059.66 22.60V17.54M1078.34 22.60V15.02M1097.03 22.60V13.46M1125.06 15.80V12.68M1115.72 15.80H1134.41M1115.72 22.60V15.80M1134.41 22.60V15.80M1512.19 6.92V0.95M1280.04 6.92H1744.34M1280.04 8.34V6.92M1167.11 8.34H1392.97M1167.11 13.72V8.34M1153.09 13.72H1181.12M1153.09 22.60V13.72M1181.12 15.28V13.72M1171.78 15.28H1190.47M1171.78 22.60V15.28M1190.47 22.60V15.28M1392.97 10.16V8.34M1289.45 10.16H1496.48M1289.45 11.52V10.16M1218.50 11.52H1360.41M1218.50 14.24V11.52M1209.16 14.24H1227.84M1209.16 22.60V14.24M1227.84 22.60V14.24M1360.41 12.30V11.52M1315.44 12.30H1405.38M1315.44 12.81V12.30M1281.57 12.81H1349.31M1281.57 13.07V12.81M1255.88 13.07H1307.27M1255.88 16.38V13.07M1246.53 16.38H1265.22M1246.53 22.60V16.38M1265.22 22.60V16.38M1307.27 15.54V13.07M1293.25 15.54H1321.28M1293.25 16.51V15.54M1283.91 16.51H1302.59M1283.91 22.60V16.51M1302.59 22.60V16.51M1321.28 22.60V15.54M1349.31 15.60V12.81M1339.97 15.60H1358.66M1339.97 22.60V15.60M1358.66 22.60V15.60M1405.38 14.69V12.30M1386.69 14.69H1424.06M1386.69 16.57V14.69M1377.34 16.57H1396.03M1377.34 22.60V16.57M1396.03 22.60V16.57M1424.06 17.35V14.69M1414.72 17.35H1433.41M1414.72 22.60V17.35M1433.41 22.60V17.35M1496.48 12.23V10.16M1461.44 12.23H1531.52M1461.44 14.43V12.23M1452.09 14.43H1470.78M1452.09 22.60V14.43M1470.78 22.60V14.43M1531.52 13.01V12.23M1503.48 13.01H1559.55M1503.48 15.15V13.01M1489.47 15.15H1517.50M1489.47 22.60V15.15M1517.50 17.16V15.15M1508.16 17.16H1526.84M1508.16 22.60V17.16M1526.84 22.60V17.16M1559.55 14.76V13.01M1545.53 14.76H1573.56M1545.53 22.60V14.76M1573.56 17.09V14.76M1564.22 17.09H1582.91M1564.22 22.60V17.09M1582.91 22.60V17.09M1744.34 9.77V6.92M1651.82 9.77H1836.87M1651.82 12.49V9.77M1617.95 12.49H1685.69M1617.95 13.27V12.49M1601.59 13.27H1634.30M1601.59 22.60V13.27M1634.30 14.24V13.27M1620.28 14.24H1648.31M1620.28 22.60V14.24M1648.31 16.77V14.24M1638.97 16.77H1657.66M1638.97 22.60V16.77M1657.66 22.60V16.77M1685.69 15.41V12.49M1676.34 15.41H1695.03M1676.34 22.60V15.41M1695.03 22.60V15.41M1836.87 10.93V9.77M1756.93 10.93H1916.80M1756.93 11.06V10.93M1727.73 11.06H1786.13M1727.73 15.41V11.06M1713.72 15.41H1741.75M1713.72 22.60V15.41M1741.75 17.74V15.41M1732.41 17.74H1751.09M1732.41 22.60V17.74M1751.09 22.60V17.74M1786.13 13.07V11.06M1769.78 13.07H1802.48M1769.78 22.60V13.07M1802.48 14.76V13.07M1788.47 14.76H1816.50M1788.47 22.60V14.76M1816.50 16.57V14.76M1807.16 16.57H1825.84M1807.16 22.60V16.57M1825.84 22.60V16.57M1916.80 13.66V10.93M1872.56 13.66H1961.04M1872.56 16.18V13.66M1853.88 16.18H1891.25M1853.88 18.13V16.18M1844.53 18.13H1863.22M1844.53 22.60V18.13M1863.22 22.60V18.13M1891.25 16.96V16.18M1881.91 16.96H1900.59M1881.91 22.60V16.96M1900.59 22.60V16.96M1961.04 14.43V13.66M1919.28 14.43H2002.79M1919.28 22.60V14.43M2002.79 15.41V14.43M1961.33 15.41H2044.25M1961.33 18.71V15.41M1947.31 18.71H1975.34M1947.31 19.68V18.71M1937.97 19.68H1956.66M1937.97 22.60V19.68M1956.66 22.60V19.68M1975.34 22.60V18.71M2044.25 17.35V15.41M2010.38 17.35H2078.12M2010.38 20.27V17.35M1994.03 20.27H2026.73M1994.03 22.60V20.27M2026.73 21.04V20.27M2012.72 21.04H2040.75M2012.72 22.60V21.04M2040.75 21.82V21.04M2031.41 21.82H2050.09M2031.41 22.60V21.82M2050.09 22.60V21.82M2078.12 18.13V17.35M2068.78 18.13H2087.47M2068.78 22.60V18.13M2087.47 22.60V18.13"/></svg>
<div id="hm"><div><i class=v0>0</i><i class=v241>241</i><i class=v208>208</i><i class=v217>217</i><i class=v220>220</i><i class=v193>193</i><i class=v217>217</i><i class=v208>208</i><i class=v223>223</i><i class=v208>208</i><i class=v226>226</i><i class=v223>223</i><i class=v250>250</i><i class=v229>229</i><i class=v241>241</i><i class=v229>229</i><i class=v272>272</i><i class=v339>339</i><i class=v295>295</i><i class=v300>300</i><i class=v321>321</i><i class=v307>307</i><i class=v275>275</i><i class=v302>302</i><i class=v329>329</i><i class=v339>339</i><i class=v300>300</i><i class=v315>315</i><i class=v315>315</i><i class=v306>306</i><i class=v329>329</i><i class=v338>338</i><i class=v269>269</i><i class=v323>323</i><i class=v335>335</i><i class=v329>329</i><i class=v329>329</i><i class=v313>313</i><i class=v305>305</i><i class=v326>326</i><i class=v326>326</i><i class=v315>315</i><i class=v303>303</i><i class=v310>310</i><i class=v301>301</i><i class=v317>317</i><i class=v310>310</i><i class=v310>310</i><i class=v323>323</i><i class=v299>299</i><i class=v326>326</i><i class=v323>323</i><i class=v284>284</i><i class=v320>320</i><i class=v335>335</i><i class=v317>317</i><i class=v317>317</i><i class=v281>281</i><i class=v322>322</i><i class=v320>320</i><i class=v332>332</i><i class=v317>317</i><i class=v299>299</i><i class=v311>311</i><i class=v317>317</i><i class=v284>284</i><i class=v320>320</i><i class=v326>326</i><i class=v341>341</i><i class=v317>317</i><i class=v314>314</i><i class=v314>314</i><i class=v314>314</i><i class=v314>314</i><i class=v308>308</i><i class=v314>314</i><i class=v284>284</i><i class=v305>305</i><i class=v305>305</i><i class=v293>293</i><i class=v290>290</i><i class=v311>311</i><i class=v299>299</i><i class=v308>308</i><i class=v311>311</i><i class=v317>317</i><i class=v311>311</i></div><div><i class=v241>241</i><i class=v0>0</i><i class=v120>120</i><i class=v144>144</i><i class=v132>132</i><i class=v138>138</i><i class=v150>150</i><i class=v141>141</i><i class=v132>132</i><i class=v117>117</i><i class=v144>144</i><i class=v165>165</i><i class=v162>162</i><i class=v126>126</i><i class=v150>150</i><i class=v150>150</i><i class=v297>297</i><i class=v298>298</i><i class=v293>293</i><i class=v307>307</i><i class=v295>295</i><i class=v302>302</i><i class=v309>309</i><i class=v293>293</i><i class=v282>282</i><i class=v289>289</i><i class=v289>289</i><i class=v313>313</i><i class=v313>313</i><i class=v265>265</i><i class=v279>279</i><i class=v300>300</i><i class=v312>312</i><i class=v309>309</i><i class=v294>294</i><i class=v294>294</i><i class=v316>316</i><i class=v298>298</i><i class=v312>312</i><i class=v295>295</i><i class=v298>298</i><i class=v284>284</i><i class=v269>269</i><i class=v261>261</i><i class=v288>288</i><i class=v280>280</i><i class=v303>303</i><i class=v279>279</i><i class=v298>298</i><i class=v283>283</i><i class=v283>283</i><i class=v307>307</i><i class=v325>325</i><i class=v313>313</i><i class=v316>316</i><i class=v298>298</i><i class=v298>298</i><i class=v304>304</i><i class=v294>294</i><i class=v301>301</i><i class=v289>289</i><i class=v304>304</i><i class=v289>289</i><i class=v301>301</i><i class=v289>289</i><i class=v292>292</i><i class=v301>301</i><i class=v274>274</i><i class=v280>280</i><i class=v301>301</i><i class=v283>283</i><i class=v289>289</i><i class=v286>286</i><i class=v277>277</i><i class=v277>277</i><i class=v286>286</i><i class=v274>274</i><i class=v301>301</i><i class=v289>289</i><i class=v265>265</i><i class=v289>289</i><i class=v289>289</i><i class=v289>289</i><i class=v289>289</i><i class=v289>289</i><i class=v295>295</i><i class=v289>289</i></div><div><i class=v208>208</i><i class=v120>120</i><i class=v0>0</i><i class=v120>120</i><i class=v132>132</i><i class=v120>120</i><i class=v129>129</i><i class=v144>144</i><i class=v120>120</i><i class=v120>120</i><i class=v120>120</i><i class=v132>132</i><i class=v165>165</i><i class=v120>120</i><i class=v144>144</i><i class=v117>117</i><i class=v300>300</i><i class=v304>304</i><i class=v272>272</i><i class=v280>280</i><i class=v286>286</i><i class=v293>293</i><i class=v297>297</i><i class=v275>275</i><i class=v294>294</i><i class=v289>289</i><i class=v256>256</i><i class=v304>304</i><i class=v304>304</i><i class=v241>241</i><i class=v303>303</i><i class=v300>300</i><i class=v273>273</i><i class=v303>303</i><i class=v294>294</i><i class=v267>267</i><i class=v301>301</i><i class=v298>298</i><i class=v300>300</i><i class=v292>292</i><i class=v298>298</i><i class=v296>296</i><i class=v281>281</i><i class=v273>273</i><i class=v276>276</i><i class=v268>268</i><i class=v291>291</i><i class=v261>261</i><i class=v292>292</i><i class=v286>286</i><i class=v307>307</i><i class=v307>307</i><i class=v304>304</i><i class=v301>301</i><i class=v310>310</i><i class=v274>274</i><i class=v310>310</i><i class=v298>298</i><i class=v306>306</i><i class=v289>289</i><i class=v289>289</i><i class=v316>316</i><i class=v277>277</i><i class=v277>277</i><i class=v298>298</i><i class=v265>265</i><i class=v292>292</i><i class=v280>280</i><i class=v280>280</i><i class=v280>280</i><i class=v283>283</i><i class=v286>286</i><i class=v289>289</i><i class=v289>289</i><i class=v277>277</i><i class=v283>283</i><i class=v286>286</i><i class=v253>253</i><i class=v280>280</i><i class=v247>247</i><i class=v253>253</i><i class=v283>283</i><i class=v283>283</i><i class=v283>283</i><i class=v283>283</i><i class=v292>292</i><i class=v283>283</i></div><div><i class=v217>217</i><i class=v144>144</i><i class=v120>120</i><i class=v0>0</i><i class=v96>96</i><i class=v105>105</i><i class=v120>120</i><i class=v156>156</i><i class=v132>132</i><i class=v96>96</i><i class=v156>156</i><i class=v153>153</i><i class=v156>156</i><i class=v144>144</i><i class=v144>144</i><i class=v144>144</i><i class=v279>279</i><i class=v316>316</i><i class=v284>284</i><i class=v286>286</i><i class=v298>298</i><i class=v293>293</i><i class=v297>297</i><i class=v293>293</i><i class=v294>294</i><i class=v301>301</i><i class=v301>301</i><i class=v304>304</i><i class=v304>304</i><i class=v280>280</i><i class=v291>291</i><i class=v300>300</i><i class=v279>279</i><i class=v306>306</i><i class=v306>306</i><i class=v282>282</i><i class=v316>316</i><i class=v316>316</i><i class=v321>321</i><i class=v310>310</i><i class=v310>310</i><i class=v308>308</i><i class=v293>293</i><i class=v288>288</i><i class=v291>291</i><i class=v307>307</i><i class=v303>303</i><i class=v303>303</i><i class=v313>313</i><i class=v301>301</i><i class=v292>292</i><i class=v304>304</i><i class=v325>325</i><i class=v319>319</i><i class=v331>331</i><i class=v286>286</i><i class=v322>322</i><i class=v313>313</i><i class=v318>318</i><i class=v313>313</i><i class=v316>316</i><i class=v322>322</i><i class=v289>289</i><i class=v301>301</i><i class=v307>307</i><i class=v307>307</i><i class=v325>325</i><i class=v301>301</i><i class=v292>292</i><i class=v301>301</i><i class=v307>307</i><i class=v277>277</i><i class=v277>277</i><i class=v274>274</i><i class=v289>289</i><i class=v286>286</i><i class=v283>283</i><i class=v262>262</i><i class=v277>277</i><i class=v253>253</i><i class=v265>265</i><i class=v289>289</i><i class=v277>277</i><i class=v286>286</i><i class=v289>289</i><i class=v298>298</i><i class=v289>289</i></div><div><i class=v220>220</i><i class=v132>132</i><i class=v132>132</i><i class=v96>96</i><i class=v0>0</i><i class=v126>126</i><i class=v138>138</i><i class=v105>105</i><i class=v114>114</i><i class=v84>84</i><i class=v144>144</i><i class=v132>132</i><i class=v120>120</i><i class=v96>96</i><i class=v96>96</i><i class=v108>108</i><i class=v291>291</i><i class=v325>325</i><i class=v296>296</i><i class=v298>298</i><i class=v310>310</i><i class=v305>305</i><i class=v312>312</i><i class=v293>293</i><i class=v294>294</i><i class=v313>313</i><i class=v289>289</i><i class=v316>316</i><i class=v316>316</i><i class=v280>280</i><i class=v315>315</i><i class=v318>318</i><i class=v285>285</i><i class=v318>318</i><i class=v300>300</i><i class=v309>309</i><i class=v307>307</i><i class=v316>316</i><i class=v312>312</i><i class=v319>319</i><i class=v310>310</i><i class=v308>308</i><i class=v281>281</i><i class=v288>288</i><i class=v276>276</i><i class=v295>295</i><i class=v300>300</i><i class=v279>279</i><i class=v301>301</i><i class=v289>289</i><i class=v307>307</i><i class=v307>307</i><i class=v313>313</i><i class=v307>307</i><i class=v319>319</i><i class=v274>274</i><i class=v310>310</i><i class=v307>307</i><i class=v306>306</i><i class=v295>295</i><i class=v313>313</i><i class=v313>313</i><i class=v301>301</i><i class=v277>277</i><i class=v301>301</i><i class=v271>271</i><i class=v313>313</i><i class=v295>295</i><i class=v304>304</i><i class=v301>301</i><i class=v307>307</i><i class=v298>298</i><i class=v295>295</i><i class=v289>289</i><i class=v301>301</i><i class=v295>295</i><i class=v301>301</i><i class=v289>289</i><i class=v268>268</i><i class=v259>259</i><i class=v259>259</i><i class=v265>265</i><i class=v265>265</i><i class=v262>262</i><i class=v265>265</i><i class=v292>292</i><i class=v283>283</i></div><div><i class=v193>193</i><i class=v138>138</i><i class=v120>120</i><i class=v105>105</i><i class=v126>126</i><i class=v0>0</i><i class=v114>114</i><i class=v141>141</i><i class=v132>132</i><i class=v120>120</i><i class=v129>129</i><i class=v138>138</i><i class=v180>180</i><i class=v141>141</i><i class=v156>156</i><i class=v141>141</i><i class=v225>225</i><i class=v268>268</i><i class=v224>224</i><i class=v226>226</i><i class=v238>238</i><i class=v233>233</i><i class=v237>237</i><i class=v245>245</i><i class=v270>270</i><i class=v262>262</i><i class=v250>250</i><i class=v244>244</i><i class=v244>244</i><i class=v238>238</i><i class=v291>291</i><i class=v300>300</i><i class=v279>279</i><i class=v258>258</i><i class=v306>306</i><i class=v303>303</i><i class=v310>310</i><i class=v304>304</i><i class=v309>309</i><i class=v301>301</i><i class=v271>271</i><i class=v281>281</i><i class=v278>278</i><i class=v273>273</i><i class=v276>276</i><i class=v292>292</i><i class=v288>288</i><i class=v291>291</i><i class=v298>298</i><i class=v262>262</i><i class=v304>304</i><i class=v289>289</i><i class=v313>313</i><i class=v307>307</i><i class=v316>316</i><i class=v286>286</i><i class=v298>298</i><i class=v301>301</i><i class=v303>303</i><i class=v295>295</i><i class=v313>313</i><i class=v307>307</i><i class=v301>301</i><i class=v289>289</i><i class=v313>313</i><i class=v268>268</i><i class=v310>310</i><i class=v310>310</i><i class=v304>304</i><i class=v274>274</i><i class=v259>259</i><i class=v250>250</i><i class=v262>262</i><i class=v274>274</i><i class=v253>253</i><i class=v295>295</i><i class=v283>283</i><i class=v262>262</i><i class=v259>259</i><i class=v250>250</i><i class=v238>238</i><i class=v289>289</i><i class=v286>286</i><i class=v277>277</i><i class=v289>289</i><i class=v283>283</i><i class=v286>286</i></div><div><i class=v217>217</i><i class=v150>150</i><i class=v129>129</i><i class=v120>120</i><i class=v138>138</i><i class=v114>114</i><i class=v0>0</i><i class=v150>150</i><i class=v153>153</i><i class=v114>114</i><i class=v126>126</i><i class=v120>120</i><i class=v138>138</i><i class=v138>138</i><i class=v132>132</i><i class=v111>111</i><i class=v261>261</i><i class=v292>292</i><i class=v233>233</i><i class=v235>235</i><i class=v250>250</i><i class=v242>242</i><i class=v246>246</i><i class=v254>254</i><i class=v252>252</i><i class=v265>265</i><i class=v271>271</i><i class=v253>253</i><i class=v253>253</i><i class=v259>259</i><i class=v279>279</i><i class=v279>279</i><i class=v267>267</i><i class=v279>279</i><i class=v258>258</i><i class=v267>267</i><i class=v277>277</i><i class=v289>289</i><i class=v288>288</i><i class=v280>280</i><i class=v274>274</i><i class=v266>266</i><i class=v248>248</i><i class=v243>243</i><i class=v246>246</i><i class=v262>262</i><i class=v279>279</i><i class=v279>279</i><i class=v262>262</i><i class=v250>250</i><i class=v286>286</i><i class=v268>268</i><i class=v292>292</i><i class=v277>277</i><i class=v304>304</i><i class=v274>274</i><i class=v283>283</i><i class=v283>283</i><i class=v282>282</i><i class=v268>268</i><i class=v301>301</i><i class=v277>277</i><i class=v280>280</i><i class=v265>265</i><i class=v274>274</i><i class=v262>262</i><i class=v307>307</i><i class=v274>274</i><i class=v280>280</i><i class=v286>286</i><i class=v271>271</i><i class=v262>262</i><i class=v244>244</i><i class=v256>256</i><i class=v265>265</i><i class=v274>274</i><i class=v265>265</i><i class=v232>232</i><i class=v241>241</i><i class=v208>208</i><i class=v220>220</i><i class=v241>241</i><i class=v250>250</i><i class=v250>250</i><i class=v250>250</i><i class=v250>250</i><i class=v235>235</i></div><div><i class=v208>208</i><i class=v141>141</i><i class=v144>144</i><i class=v156>156</i><i class=v105>105</i><i class=v141>141</i><i class=v150>150</i><i class=v0>0</i><i class=v117>117</i><i class=v117>117</i><i class=v135>135</i><i class=v111>111</i><i class=v159>159</i><i class=v126>126</i><i class=v135>135</i><i class=v114>114</i><i class=v282>282</i><i class=v301>301</i><i class=v272>272</i><i class=v283>283</i><i class=v286>286</i><i class=v305>305</i><i class=v300>300</i><i class=v293>293</i><i class=v303>303</i><i class=v304>304</i><i class=v286>286</i><i class=v292>292</i><i class=v292>292</i><i class=v277>277</i><i class=v309>309</i><i class=v318>318</i><i class=v291>291</i><i class=v318>318</i><i class=v291>291</i><i class=v288>288</i><i class=v313>313</i><i class=v316>316</i><i class=v300>300</i><i class=v316>316</i><i class=v307>307</i><i class=v293>293</i><i class=v290>290</i><i class=v276>276</i><i class=v243>243</i><i class=v295>295</i><i class=v291>291</i><i class=v264>264</i><i class=v301>301</i><i class=v298>298</i><i class=v307>307</i><i class=v280>280</i><i class=v316>316</i><i class=v277>277</i><i class=v310>310</i><i class=v274>274</i><i class=v307>307</i><i class=v295>295</i><i class=v285>285</i><i class=v286>286</i><i class=v298>298</i><i class=v298>298</i><i class=v310>310</i><i class=v301>301</i><i class=v307>307</i><i class=v271>271</i><i class=v310>310</i><i class=v265>265</i><i class=v292>292</i><i class=v274>274</i><i class=v307>307</i><i class=v310>310</i><i class=v289>289</i><i class=v301>301</i><i class=v301>301</i><i class=v319>319</i><i class=v301>301</i><i class=v286>286</i><i class=v298>298</i><i class=v277>277</i><i class=v277>277</i><i class=v253>253</i><i class=v259>259</i><i class=v259>259</i><i class=v259>259</i><i class=v286>286</i><i class=v268>268</i></div><div><i class=v223>223</i><i class=v132>132</i><i class=v120>120</i><i class=v132>132</i><i class=v114>114</i><i class=v132>132</i><i class=v153>153</i><i class=v117>117</i><i class=v0>0</i><i class=v78>78</i><i class=v90>90</i><i class=v102>102</i><i class=v153>153</i><i class=v102>102</i><i class=v126>126</i><i class=v111>111</i><i class=v297>297</i><i class=v340>340</i><i class=v296>296</i><i class=v298>298</i><i class=v298>298</i><i class=v317>317</i><i class=v321>321</i><i class=v305>305</i><i class=v312>312</i><i class=v313>313</i><i class=v301>301</i><i class=v316>316</i><i class=v316>316</i><i class=v274>274</i><i class=v321>321</i><i class=v300>300</i><i class=v279>279</i><i class=v315>315</i><i class=v294>294</i><i class=v282>282</i><i class=v304>304</i><i class=v304>304</i><i class=v312>312</i><i class=v292>292</i><i class=v307>307</i><i class=v281>281</i><i class=v290>290</i><i class=v273>273</i><i class=v273>273</i><i class=v292>292</i><i class=v291>291</i><i class=v279>279</i><i class=v310>310</i><i class=v286>286</i><i class=v295>295</i><i class=v304>304</i><i class=v316>316</i><i class=v289>289</i><i class=v310>310</i><i class=v286>286</i><i class=v298>298</i><i class=v295>295</i><i class=v288>288</i><i class=v298>298</i><i class=v304>304</i><i class=v316>316</i><i class=v313>313</i><i class=v277>277</i><i class=v280>280</i><i class=v268>268</i><i class=v301>301</i><i class=v289>289</i><i class=v289>289</i><i class=v301>301</i><i class=v307>307</i><i class=v301>301</i><i class=v286>286</i><i class=v301>301</i><i class=v301>301</i><i class=v310>310</i><i class=v289>289</i><i class=v277>277</i><i class=v277>277</i><i class=v265>265</i><i class=v289>289</i><i class=v259>259</i><i class=v259>259</i><i class=v259>259</i><i class=v259>259</i><i class=v298>298</i><i class=v280>280</i></div><div><i class=v208>208</i><i class=v117>117</i><i class=v120>120</i><i class=v96>96</i><i class=v84>84</i><i class=v120>120</i><i class=v114>114</i><i class=v117>117</i><i class=v78>78</i><i class=v0>0</i><i class=v117>117</i><i class=v117>117</i><i class=v117>117</i><i class=v108>108</i><i class=v120>120</i><i class=v120>120</i><i class=v291>291</i><i class=v316>316</i><i class=v272>272</i><i class=v274>274</i><i class=v286>286</i><i class=v281>281</i><i class=v285>285</i><i class=v281>281</i><i class=v294>294</i><i class=v298>298</i><i class=v274>274</i><i class=v292>292</i><i class=v292>292</i><i class=v268>268</i><i class=v315>315</i><i class=v312>312</i><i class=v285>285</i><i class=v303>303</i><i class=v300>300</i><i class=v300>300</i><i class=v298>298</i><i class=v304>304</i><i class=v312>312</i><i class=v310>310</i><i class=v298>298</i><i class=v296>296</i><i class=v281>281</i><i class=v276>276</i><i class=v276>276</i><i class=v295>295</i><i class=v303>303</i><i class=v279>279</i><i class=v301>301</i><i class=v289>289</i><i class=v283>283</i><i class=v307>307</i><i class=v316>316</i><i class=v307>307</i><i class=v319>319</i><i class=v286>286</i><i class=v310>310</i><i class=v307>307</i><i class=v294>294</i><i class=v295>295</i><i class=v304>304</i><i class=v310>310</i><i class=v301>301</i><i class=v289>289</i><i class=v277>277</i><i class=v271>271</i><i class=v298>298</i><i class=v283>283</i><i class=v292>292</i><i class=v286>286</i><i class=v295>295</i><i class=v277>277</i><i class=v247>247</i><i class=v277>277</i><i class=v277>277</i><i class=v298>298</i><i class=v289>289</i><i class=v277>277</i><i class=v259>259</i><i class=v247>247</i><i class=v271>271</i><i class=v265>265</i><i class=v265>265</i><i class=v265>265</i><i class=v265>265</i><i class=v289>289</i><i class=v283>283</i></div><div><i class=v226>226</i><i class=v144>144</i><i class=v120>120</i><i class=v156>156</i><i class=v144>144</i><i class=v129>129</i><i class=v126>126</i><i class=v135>135</i><i class=v90>90</i><i class=v117>117</i><i class=v0>0</i><i class=v60>60</i><i class=v171>171</i><i class=v132>132</i><i class=v144>144</i><i class=v105>105</i><i class=v297>297</i><i class=v325>325</i><i class=v269>269</i><i class=v271>271</i><i class=v271>271</i><i class=v290>290</i><i class=v294>294</i><i class=v281>281</i><i class=v279>279</i><i class=v277>277</i><i class=v265>265</i><i class=v289>289</i><i class=v289>289</i><i class=v250>250</i><i class=v315>315</i><i class=v303>303</i><i class=v288>288</i><i class=v306>306</i><i class=v282>282</i><i class=v273>273</i><i class=v277>277</i><i class=v277>277</i><i class=v276>276</i><i class=v277>277</i><i class=v259>259</i><i class=v257>257</i><i class=v245>245</i><i class=v237>237</i><i class=v240>240</i><i class=v256>256</i><i class=v255>255</i><i class=v243>243</i><i class=v274>274</i><i class=v250>250</i><i class=v283>283</i><i class=v268>268</i><i class=v268>268</i><i class=v271>271</i><i class=v271>271</i><i class=v250>250</i><i class=v274>274</i><i class=v265>265</i><i class=v252>252</i><i class=v262>262</i><i class=v301>301</i><i class=v280>280</i><i class=v268>268</i><i class=v241>241</i><i class=v268>268</i><i class=v232>232</i><i class=v277>277</i><i class=v265>265</i><i class=v268>268</i><i class=v265>265</i><i class=v271>271</i><i class=v274>274</i><i class=v274>274</i><i class=v277>277</i><i class=v277>277</i><i class=v283>283</i><i class=v271>271</i><i class=v241>241</i><i class=v247>247</i><i class=v226>226</i><i class=v253>253</i><i class=v247>247</i><i class=v247>247</i><i class=v247>247</i><i class=v247>247</i><i class=v262>262</i><i class=v229>229</i></div><div><i class=v223>223</i><i class=v165>165</i><i class=v132>132</i><i class=v153>153</i><i class=v132>132</i><i class=v138>138</i><i class=v120>120</i><i class=v111>111</i><i class=v102>102</i><i class=v117>117</i><i class=v60>60</i><i class=v0>0</i><i class=v147>147</i><i class=v117>117</i><i class=v114>114</i><i class=v69>69</i><i class=v291>291</i><i class=v325>325</i><i class=v266>266</i><i class=v268>268</i><i class=v271>271</i><i class=v287>287</i><i class=v291>291</i><i class=v278>278</i><i class=v282>282</i><i class=v277>277</i><i class=v262>262</i><i class=v286>286</i><i class=v286>286</i><i class=v250>250</i><i class=v312>312</i><i class=v291>291</i><i class=v288>288</i><i class=v291>291</i><i class=v279>279</i><i class=v273>273</i><i class=v265>265</i><i class=v262>262</i><i class=v252>252</i><i class=v277>277</i><i class=v259>259</i><i class=v266>266</i><i class=v239>239</i><i class=v252>252</i><i class=v243>243</i><i class=v259>259</i><i class=v243>243</i><i class=v243>243</i><i class=v265>265</i><i class=v247>247</i><i class=v271>271</i><i class=v244>244</i><i class=v256>256</i><i class=v247>247</i><i class=v256>256</i><i class=v238>238</i><i class=v271>271</i><i class=v241>241</i><i class=v267>267</i><i class=v250>250</i><i class=v301>301</i><i class=v268>268</i><i class=v286>286</i><i class=v265>265</i><i class=v271>271</i><i class=v220>220</i><i class=v274>274</i><i class=v265>265</i><i class=v268>268</i><i class=v250>250</i><i class=v256>256</i><i class=v271>271</i><i class=v274>274</i><i class=v265>265</i><i class=v274>274</i><i class=v280>280</i><i class=v259>259</i><i class=v229>229</i><i class=v250>250</i><i class=v229>229</i><i class=v259>259</i><i class=v232>232</i><i class=v235>235</i><i class=v235>235</i><i class=v235>235</i><i class=v262>262</i><i class=v250>250</i></div><div><i class=v250>250</i><i class=v162>162</i><i class=v165>165</i><i class=v156>156</i><i class=v120>120</i><i class=v180>180</i><i class=v138>138</i><i class=v159>159</i><i class=v153>153</i><i class=v117>117</i><i class=v171>171</i><i class=v147>147</i><i class=v0>0</i><i class=v117>117</i><i class=v123>123</i><i class=v135>135</i><i class=v300>300</i><i class=v325>325</i><i class=v272>272</i><i class=v289>289</i><i class=v289>289</i><i class=v293>293</i><i class=v300>300</i><i class=v287>287</i><i class=v270>270</i><i class=v310>310</i><i class=v298>298</i><i class=v304>304</i><i class=v304>304</i><i class=v283>283</i><i class=v312>312</i><i class=v294>294</i><i class=v270>270</i><i class=v294>294</i><i class=v285>285</i><i class=v279>279</i><i class=v301>301</i><i class=v298>298</i><i class=v288>288</i><i class=v301>301</i><i class=v292>292</i><i class=v290>290</i><i class=v254>254</i><i class=v273>273</i><i class=v261>261</i><i class=v280>280</i><i class=v297>297</i><i class=v273>273</i><i class=v274>274</i><i class=v274>274</i><i class=v292>292</i><i class=v292>292</i><i class=v307>307</i><i class=v280>280</i><i class=v283>283</i><i class=v298>298</i><i class=v289>289</i><i class=v274>274</i><i class=v288>288</i><i class=v280>280</i><i class=v283>283</i><i class=v277>277</i><i class=v274>274</i><i class=v274>274</i><i class=v286>286</i><i class=v292>292</i><i class=v298>298</i><i class=v292>292</i><i class=v259>259</i><i class=v310>310</i><i class=v292>292</i><i class=v283>283</i><i class=v268>268</i><i class=v274>274</i><i class=v256>256</i><i class=v280>280</i><i class=v280>280</i><i class=v298>298</i><i class=v289>289</i><i class=v268>268</i><i class=v280>280</i><i class=v244>244</i><i class=v244>244</i><i class=v244>244</i><i class=v235>235</i><i class=v277>277</i><i class=v268>268</i></div><div><i class=v229>229</i><i class=v126>126</i><i class=v120>120</i><i class=v144>144</i><i class=v96>96</i><i class=v141>141</i><i class=v138>138</i><i class=v126>126</i><i class=v102>102</i><i class=v108>108</i><i class=v132>132</i><i class=v117>117</i><i class=v117>117</i><i class=v0>0</i><i class=v60>60</i><i class=v93>93</i><i class=v288>288</i><i class=v328>328</i><i class=v284>284</i><i class=v298>298</i><i class=v310>310</i><i class=v293>293</i><i class=v297>297</i><i class=v263>263</i><i class=v285>285</i><i class=v289>289</i><i class=v265>265</i><i class=v292>292</i><i class=v292>292</i><i class=v262>262</i><i class=v312>312</i><i class=v297>297</i><i class=v285>285</i><i class=v291>291</i><i class=v273>273</i><i class=v294>294</i><i class=v313>313</i><i class=v304>304</i><i class=v297>297</i><i class=v301>301</i><i class=v298>298</i><i class=v284>284</i><i class=v266>266</i><i class=v273>273</i><i class=v276>276</i><i class=v280>280</i><i class=v291>291</i><i class=v267>267</i><i class=v286>286</i><i class=v262>262</i><i class=v289>289</i><i class=v292>292</i><i class=v289>289</i><i class=v259>259</i><i class=v295>295</i><i class=v274>274</i><i class=v295>295</i><i class=v286>286</i><i class=v294>294</i><i class=v289>289</i><i class=v301>301</i><i class=v301>301</i><i class=v286>286</i><i class=v277>277</i><i class=v292>292</i><i class=v271>271</i><i class=v301>301</i><i class=v289>289</i><i class=v292>292</i><i class=v286>286</i><i class=v292>292</i><i class=v298>298</i><i class=v289>289</i><i class=v274>274</i><i class=v286>286</i><i class=v283>283</i><i class=v277>277</i><i class=v286>286</i><i class=v286>286</i><i class=v265>265</i><i class=v277>277</i><i class=v259>259</i><i class=v259>259</i><i class=v256>256</i><i class=v259>259</i><i class=v286>286</i><i class=v277>277</i></div><div><i class=v241>241</i><i class=v150>150</i><i class=v144>144</i><i class=v144>144</i><i class=v96>96</i><i class=v156>156</i><i class=v132>132</i><i class=v135>135</i><i class=v126>126</i><i class=v120>120</i><i class=v144>144</i><i class=v114>114</i><i class=v123>123</i><i class=v60>60</i><i class=v0>0</i><i class=v81>81</i><i class=v279>279</i><i class=v316>316</i><i class=v272>272</i><i class=v286>286</i><i class=v298>298</i><i class=v281>281</i><i class=v285>285</i><i class=v257>257</i><i class=v291>291</i><i class=v289>289</i><i class=v265>265</i><i class=v280>280</i><i class=v280>280</i><i class=v253>253</i><i class=v300>300</i><i class=v288>288</i><i class=v276>276</i><i class=v282>282</i><i class=v264>264</i><i class=v294>294</i><i class=v313>313</i><i class=v304>304</i><i class=v297>297</i><i class=v304>304</i><i class=v298>298</i><i class=v296>296</i><i class=v266>266</i><i class=v276>276</i><i class=v279>279</i><i class=v283>283</i><i class=v291>291</i><i class=v267>267</i><i class=v286>286</i><i class=v253>253</i><i class=v283>283</i><i class=v289>289</i><i class=v277>277</i><i class=v256>256</i><i class=v295>295</i><i class=v274>274</i><i class=v295>295</i><i class=v286>286</i><i class=v294>294</i><i class=v289>289</i><i class=v277>277</i><i class=v301>301</i><i class=v274>274</i><i class=v277>277</i><i class=v295>295</i><i class=v283>283</i><i class=v289>289</i><i class=v289>289</i><i class=v292>292</i><i class=v286>286</i><i class=v292>292</i><i class=v298>298</i><i class=v289>289</i><i class=v274>274</i><i class=v283>283</i><i class=v277>277</i><i class=v277>277</i><i class=v286>286</i><i class=v286>286</i><i class=v265>265</i><i class=v277>277</i><i class=v247>247</i><i class=v259>259</i><i class=v259>259</i><i class=v259>259</i><i class=v286>286</i><i class=v265>265</i></div><div><i class=v229>229</i><i class=v150>150</i><i class=v117>117</i><i class=v144>144</i><i class=v108>108</i><i class=v141>141</i><i class=v111>111</i><i class=v114>114</i><i class=v111>111</i><i class=v120>120</i><i class=v105>105</i><i class=v69>69</i><i class=v135>135</i><i class=v93>93</i><i class=v81>81</i><i class=v0>0</i><i class=v285>285</i><i class=v316>316</i><i class=v260>260</i><i class=v262>262</i><i class=v262>262</i><i class=v269>269</i><i class=v276>276</i><i class=v257>257</i><i class=v282>282</i><i class=v289>289</i><i class=v265>265</i><i class=v280>280</i><i class=v280>280</i><i class=v223>223</i><i class=v291>291</i><i class=v291>291</i><i class=v249>249</i><i class=v294>294</i><i class=v267>267</i><i class=v273>273</i><i class=v289>289</i><i class=v292>292</i><i class=v285>285</i><i class=v268>268</i><i class=v283>283</i><i class=v278>278</i><i class=v251>251</i><i class=v252>252</i><i class=v243>243</i><i class=v259>259</i><i class=v264>264</i><i class=v255>255</i><i class=v253>253</i><i class=v244>244</i><i class=v280>280</i><i class=v265>265</i><i class=v286>286</i><i class=v259>259</i><i class=v280>280</i><i class=v262>262</i><i class=v286>286</i><i class=v274>274</i><i class=v279>279</i><i class=v274>274</i><i class=v289>289</i><i class=v289>289</i><i class=v253>253</i><i class=v274>274</i><i class=v271>271</i><i class=v247>247</i><i class=v289>289</i><i class=v277>277</i><i class=v280>280</i><i class=v277>277</i><i class=v283>283</i><i class=v286>286</i><i class=v289>289</i><i class=v274>274</i><i class=v277>277</i><i class=v271>271</i><i class=v268>268</i><i class=v262>262</i><i class=v250>250</i><i class=v241>241</i><i class=v241>241</i><i class=v244>244</i><i class=v247>247</i><i class=v247>247</i><i class=v247>247</i><i class=v274>274</i><i class=v262>262</i></div><div><i class=v272>272</i><i class=v297>297</i><i class=v300>300</i><i class=v279>279</i><i class=v291>291</i><i class=v225>225</i><i class=v261>261</i><i class=v282>282</i><i class=v297>297</i><i class=v291>291</i><i class=v297>297</i><i class=v291>291</i><i class=v300>300</i><i class=v288>288</i><i class=v279>279</i><i class=v285>285</i><i class=v0>0</i><i class=v251>251</i><i class=v249>249</i><i class=v235>235</i><i class=v245>245</i><i class=v232>232</i><i class=v180>180</i><i class=v212>212</i><i class=v266>266</i><i class=v245>245</i><i class=v245>245</i><i class=v215>215</i><i class=v215>215</i><i class=v221>221</i><i class=v283>283</i><i class=v271>271</i><i class=v283>283</i><i class=v226>226</i><i class=v274>274</i><i class=v283>283</i><i class=v302>302</i><i class=v266>266</i><i class=v222>222</i><i class=v190>190</i><i class=v193>193</i><i class=v281>281</i><i class=v272>272</i><i class=v280>280</i><i class=v277>277</i><i class=v273>273</i><i class=v269>269</i><i class=v272>272</i><i class=v226>226</i><i class=v253>253</i><i class=v291>291</i><i class=v261>261</i><i class=v286>286</i><i class=v250>250</i><i class=v282>282</i><i class=v274>274</i><i class=v262>262</i><i class=v277>277</i><i class=v268>268</i><i class=v262>262</i><i class=v286>286</i><i class=v280>280</i><i class=v289>289</i><i class=v256>256</i><i class=v280>280</i><i class=v265>265</i><i class=v292>292</i><i class=v292>292</i><i class=v283>283</i><i class=v256>256</i><i class=v237>237</i><i class=v235>235</i><i class=v223>223</i><i class=v250>250</i><i class=v238>238</i><i class=v268>268</i><i class=v280>280</i><i class=v271>271</i><i class=v271>271</i><i class=v262>262</i><i class=v250>250</i><i class=v262>262</i><i class=v265>265</i><i class=v265>265</i><i class=v265>265</i><i class=v268>268</i><i class=v268>268</i></div><div><i class=v339>339</i><i class=v298>298</i><i class=v304>304</i><i class=v316>316</i><i class=v325>325</i><i class=v268>268</i><i class=v292>292</i><i class=v301>301</i><i class=v340>340</i><i class=v316>316</i><i class=v325>325</i><i class=v325>325</i><i class=v325>325</i><i class=v328>328</i><i class=v316>316</i><i class=v316>316</i><i class=v251>251</i><i class=v0>0</i><i class=v167>167</i><i class=v176>176</i><i class=v136>136</i><i class=v189>189</i><i class=v170>170</i><i class=v213>213</i><i class=v169>169</i><i class=v153>153</i><i class=v177>177</i><i class=v111>111</i><i class=v111>111</i><i class=v165>165</i><i class=v198>198</i><i class=v219>219</i><i class=v228>228</i><i class=v207>207</i><i class=v222>222</i><i class=v216>216</i><i class=v272>272</i><i class=v271>271</i><i class=v239>239</i><i class=v309>309</i><i class=v285>285</i><i class=v334>334</i><i class=v310>310</i><i class=v299>299</i><i class=v328>328</i><i class=v293>293</i><i class=v299>299</i><i class=v308>308</i><i class=v309>309</i><i class=v310>310</i><i class=v316>316</i><i class=v274>274</i><i class=v288>288</i><i class=v264>264</i><i class=v280>280</i><i class=v292>292</i><i class=v301>301</i><i class=v279>279</i><i class=v283>283</i><i class=v264>264</i><i class=v249>249</i><i class=v270>270</i><i class=v273>273</i><i class=v288>288</i><i class=v291>291</i><i class=v258>258</i><i class=v273>273</i><i class=v264>264</i><i class=v243>243</i><i class=v249>249</i><i class=v265>265</i><i class=v237>237</i><i class=v216>216</i><i class=v240>240</i><i class=v252>252</i><i class=v249>249</i><i class=v261>261</i><i class=v234>234</i><i class=v261>261</i><i class=v240>240</i><i class=v228>228</i><i class=v249>249</i><i class=v249>249</i><i class=v240>240</i><i class=v240>240</i><i class=v249>249</i><i class=v252>252</i></div><div><i class=v295>295</i><i class=v293>293</i><i class=v272>272</i><i class=v284>284</i><i class=v296>296</i><i class=v224>224</i><i class=v233>233</i><i class=v272>272</i><i class=v296>296</i><i class=v272>272</i><i class=v269>269</i><i class=v266>266</i><i class=v272>272</i><i class=v284>284</i><i class=v272>272</i><i class=v260>260</i><i class=v249>249</i><i class=v167>167</i><i class=v0>0</i><i class=v103>103</i><i class=v123>123</i><i class=v197>197</i><i class=v187>187</i><i class=v200>200</i><i class=v167>167</i><i class=v194>194</i><i class=v164>164</i><i class=v113>113</i><i class=v113>113</i><i class=v176>176</i><i class=v278>278</i><i class=v263>263</i><i class=v263>263</i><i class=v215>215</i><i class=v233>233</i><i class=v239>239</i><i class=v313>313</i><i class=v276>276</i><i class=v265>265</i><i class=v295>295</i><i class=v247>247</i><i class=v271>271</i><i class=v268>268</i><i class=v249>249</i><i class=v265>265</i><i class=v292>292</i><i class=v298>298</i><i class=v274>274</i><i class=v286>286</i><i class=v284>284</i><i class=v309>309</i><i class=v264>264</i><i class=v308>308</i><i class=v281>281</i><i class=v279>279</i><i class=v297>297</i><i class=v282>282</i><i class=v293>293</i><i class=v281>281</i><i class=v290>290</i><i class=v302>302</i><i class=v290>290</i><i class=v296>296</i><i class=v311>311</i><i class=v308>308</i><i class=v293>293</i><i class=v296>296</i><i class=v278>278</i><i class=v272>272</i><i class=v248>248</i><i class=v249>249</i><i class=v248>248</i><i class=v248>248</i><i class=v272>272</i><i class=v263>263</i><i class=v296>296</i><i class=v293>293</i><i class=v278>278</i><i class=v275>275</i><i class=v266>266</i><i class=v242>242</i><i class=v278>278</i><i class=v278>278</i><i class=v269>269</i><i class=v260>260</i><i class=v257>257</i><i class=v260>260</i></div><div><i class=v300>300</i><i class=v307>307</i><i class=v280>280</i><i class=v286>286</i><i class=v298>298</i><i class=v226>226</i><i class=v235>235</i><i class=v283>283</i><i class=v298>298</i><i class=v274>274</i><i class=v271>271</i><i class=v268>268</i><i class=v289>289</i><i class=v298>298</i><i class=v286>286</i><i class=v262>262</i><i class=v235>235</i><i class=v176>176</i><i class=v103>103</i><i class=v0>0</i><i class=v95>95</i><i class=v185>185</i><i class=v190>190</i><i class=v200>200</i><i class=v158>158</i><i class=v191>191</i><i class=v170>170</i><i class=v119>119</i><i class=v119>119</i><i class=v158>158</i><i class=v272>272</i><i class=v257>257</i><i class=v245>245</i><i class=v212>212</i><i class=v239>239</i><i class=v242>242</i><i class=v292>292</i><i class=v273>273</i><i class=v262>262</i><i class=v281>281</i><i class=v236>236</i><i class=v294>294</i><i class=v282>282</i><i class=v279>279</i><i class=v268>268</i><i class=v240>240</i><i class=v286>286</i><i class=v250>250</i><i class=v272>272</i><i class=v276>276</i><i class=v291>291</i><i class=v252>252</i><i class=v299>299</i><i class=v275>275</i><i class=v267>267</i><i class=v260>260</i><i class=v260>260</i><i class=v290>290</i><i class=v278>278</i><i class=v287>287</i><i class=v299>299</i><i class=v284>284</i><i class=v290>290</i><i class=v290>290</i><i class=v305>305</i><i class=v269>269</i><i class=v284>284</i><i class=v284>284</i><i class=v275>275</i><i class=v251>251</i><i class=v222>222</i><i class=v236>236</i><i class=v248>248</i><i class=v272>272</i><i class=v254>254</i><i class=v284>284</i><i class=v281>281</i><i class=v242>242</i><i class=v248>248</i><i class=v239>239</i><i class=v224>224</i><i class=v266>266</i><i class=v254>254</i><i class=v251>251</i><i class=v239>239</i><i class=v257>257</i><i class=v260>260</i></div><div><i class=v321>321</i><i class=v295>295</i><i class=v286>286</i><i class=v298>298</i><i class=v310>310</i><i class=v238>238</i><i class=v250>250</i><i class=v286>286</i><i class=v298>298</i><i class=v286>286</i><i class=v271>271</i><i class=v271>271</i><i class=v289>289</i><i class=v310>310</i><i class=v298>298</i><i class=v262>262</i><i class=v245>245</i><i class=v136>136</i><i class=v123>123</i><i class=v95>95</i><i class=v0>0</i><i class=v178>178</i><i class=v171>171</i><i class=v193>193</i><i class=v124>124</i><i class=v157>157</i><i class=v157>157</i><i class=v100>100</i><i class=v100>100</i><i class=v145>145</i><i class=v250>250</i><i class=v238>238</i><i class=v223>223</i><i class=v202>202</i><i class=v214>214</i><i class=v211>211</i><i class=v261>261</i><i class=v260>260</i><i class=v231>231</i><i class=v279>279</i><i class=v234>234</i><i class=v284>284</i><i class=v260>260</i><i class=v260>260</i><i class=v260>260</i><i class=v254>254</i><i class=v262>262</i><i class=v259>259</i><i class=v273>273</i><i class=v255>255</i><i class=v244>244</i><i class=v205>205</i><i class=v280>280</i><i class=v256>256</i><i class=v217>217</i><i class=v210>210</i><i class=v219>219</i><i class=v259>259</i><i class=v241>241</i><i class=v253>253</i><i class=v253>253</i><i class=v250>250</i><i class=v253>253</i><i class=v256>256</i><i class=v274>274</i><i class=v226>226</i><i class=v265>265</i><i class=v244>244</i><i class=v235>235</i><i class=v229>229</i><i class=v196>196</i><i class=v217>217</i><i class=v208>208</i><i class=v232>232</i><i class=v232>232</i><i class=v253>253</i><i class=v253>253</i><i class=v241>241</i><i class=v241>241</i><i class=v232>232</i><i class=v208>208</i><i class=v241>241</i><i class=v241>241</i><i class=v241>241</i><i class=v229>229</i><i class=v229>229</i><i class=v232>232</i></div><div><i class=v307>307</i><i class=v302>302</i><i class=v293>293</i><i class=v293>293</i><i class=v305>305</i><i class=v233>233</i><i class=v242>242</i><i class=v305>305</i><i class=v317>317</i><i class=v281>281</i><i class=v290>290</i><i class=v287>287</i><i class=v293>293</i><i class=v293>293</i><i class=v281>281</i><i class=v269>269</i><i class=v232>232</i><i class=v189>189</i><i class=v197>197</i><i class=v185>185</i><i class=v178>178</i><i class=v0>0</i><i class=v118>118</i><i class=v153>153</i><i class=v181>181</i><i class=v183>183</i><i class=v171>171</i><i class=v120>120</i><i class=v114>114</i><i class=v186>186</i><i class=v202>202</i><i class=v187>187</i><i class=v175>175</i><i class=v142>142</i><i class=v178>178</i><i class=v199>199</i><i class=v239>239</i><i class=v229>229</i><i class=v217>217</i><i class=v274>274</i><i class=v238>238</i><i class=v287>287</i><i class=v275>275</i><i class=v273>273</i><i class=v293>293</i><i class=v270>270</i><i class=v270>270</i><i class=v276>276</i><i class=v265>265</i><i class=v251>251</i><i class=v260>260</i><i class=v254>254</i><i class=v238>238</i><i class=v241>241</i><i class=v269>269</i><i class=v269>269</i><i class=v257>257</i><i class=v241>241</i><i class=v260>260</i><i class=v238>238</i><i class=v250>250</i><i class=v235>235</i><i class=v217>217</i><i class=v247>247</i><i class=v250>250</i><i class=v223>223</i><i class=v238>238</i><i class=v238>238</i><i class=v232>232</i><i class=v196>196</i><i class=v221>221</i><i class=v181>181</i><i class=v202>202</i><i class=v208>208</i><i class=v193>193</i><i class=v226>226</i><i class=v211>211</i><i class=v226>226</i><i class=v211>211</i><i class=v202>202</i><i class=v190>190</i><i class=v229>229</i><i class=v229>229</i><i class=v229>229</i><i class=v229>229</i><i class=v217>217</i><i class=v226>226</i></div><div><i class=v275>275</i><i class=v309>309</i><i class=v297>297</i><i class=v297>297</i><i class=v312>312</i><i class=v237>237</i><i class=v246>246</i><i class=v300>300</i><i class=v321>321</i><i class=v285>285</i><i class=v294>294</i><i class=v291>291</i><i class=v300>300</i><i class=v297>297</i><i class=v285>285</i><i class=v276>276</i><i class=v180>180</i><i class=v170>170</i><i class=v187>187</i><i class=v190>190</i><i class=v171>171</i><i class=v118>118</i><i class=v0>0</i><i class=v146>146</i><i class=v180>180</i><i class=v185>185</i><i class=v170>170</i><i class=v104>104</i><i class=v110>110</i><i class=v191>191</i><i class=v196>196</i><i class=v181>181</i><i class=v193>193</i><i class=v157>157</i><i class=v184>184</i><i class=v187>187</i><i class=v254>254</i><i class=v230>230</i><i class=v162>162</i><i class=v274>274</i><i class=v241>241</i><i class=v284>284</i><i class=v275>275</i><i class=v270>270</i><i class=v293>293</i><i class=v279>279</i><i class=v276>276</i><i class=v270>270</i><i class=v265>265</i><i class=v248>248</i><i class=v266>266</i><i class=v242>242</i><i class=v241>241</i><i class=v226>226</i><i class=v269>269</i><i class=v269>269</i><i class=v254>254</i><i class=v238>238</i><i class=v245>245</i><i class=v235>235</i><i class=v247>247</i><i class=v229>229</i><i class=v220>220</i><i class=v253>253</i><i class=v247>247</i><i class=v235>235</i><i class=v238>238</i><i class=v223>223</i><i class=v217>217</i><i class=v187>187</i><i class=v221>221</i><i class=v190>190</i><i class=v190>190</i><i class=v190>190</i><i class=v193>193</i><i class=v226>226</i><i class=v223>223</i><i class=v208>208</i><i class=v211>211</i><i class=v202>202</i><i class=v178>178</i><i class=v226>226</i><i class=v226>226</i><i class=v226>226</i><i class=v226>226</i><i class=v199>199</i><i class=v211>211</i></div><div><i class=v302>302</i><i class=v293>293</i><i class=v275>275</i><i class=v293>293</i><i class=v293>293</i><i class=v245>245</i><i class=v254>254</i><i class=v293>293</i><i class=v305>305</i><i class=v281>281</i><i class=v281>281</i><i class=v278>278</i><i class=v287>287</i><i class=v263>263</i><i class=v257>257</i><i class=v257>257</i><i class=v212>212</i><i class=v213>213</i><i class=v200>200</i><i class=v200>200</i><i class=v193>193</i><i class=v153>153</i><i class=v146>146</i><i class=v0>0</i><i class=v172>172</i><i class=v189>189</i><i class=v144>144</i><i class=v123>123</i><i class=v117>117</i><i class=v165>165</i><i class=v236>236</i><i class=v224>224</i><i class=v212>212</i><i class=v155>155</i><i class=v182>182</i><i class=v215>215</i><i class=v242>242</i><i class=v206>206</i><i class=v212>212</i><i class=v266>266</i><i class=v227>227</i><i class=v270>270</i><i class=v270>270</i><i class=v280>280</i><i class=v288>288</i><i class=v286>286</i><i class=v271>271</i><i class=v244>244</i><i class=v254>254</i><i class=v246>246</i><i class=v255>255</i><i class=v249>249</i><i class=v233>233</i><i class=v194>194</i><i class=v285>285</i><i class=v252>252</i><i class=v249>249</i><i class=v224>224</i><i class=v231>231</i><i class=v221>221</i><i class=v233>233</i><i class=v242>242</i><i class=v209>209</i><i class=v242>242</i><i class=v239>239</i><i class=v242>242</i><i class=v254>254</i><i class=v230>230</i><i class=v221>221</i><i class=v215>215</i><i class=v216>216</i><i class=v194>194</i><i class=v197>197</i><i class=v191>191</i><i class=v188>188</i><i class=v227>227</i><i class=v227>227</i><i class=v227>227</i><i class=v206>206</i><i class=v197>197</i><i class=v173>173</i><i class=v221>221</i><i class=v221>221</i><i class=v221>221</i><i class=v221>221</i><i class=v200>200</i><i class=v197>197</i></div><div><i class=v329>329</i><i class=v282>282</i><i class=v294>294</i><i class=v294>294</i><i class=v294>294</i><i class=v270>270</i><i class=v252>252</i><i class=v303>303</i><i class=v312>312</i><i class=v294>294</i><i class=v279>279</i><i class=v282>282</i><i class=v270>270</i><i class=v285>285</i><i class=v291>291</i><i class=v282>282</i><i class=v266>266</i><i class=v169>169</i><i class=v167>167</i><i class=v158>158</i><i class=v124>124</i><i class=v181>181</i><i class=v180>180</i><i class=v172>172</i><i class=v0>0</i><i class=v163>163</i><i class=v127>127</i><i class=v121>121</i><i class=v115>115</i><i class=v163>163</i><i class=v229>229</i><i class=v205>205</i><i class=v208>208</i><i class=v205>205</i><i class=v184>184</i><i class=v184>184</i><i class=v246>246</i><i class=v242>242</i><i class=v210>210</i><i class=v252>252</i><i class=v228>228</i><i class=v276>276</i><i class=v252>252</i><i class=v260>260</i><i class=v269>269</i><i class=v257>257</i><i class=v266>266</i><i class=v251>251</i><i class=v243>243</i><i class=v236>236</i><i class=v230>230</i><i class=v224>224</i><i class=v244>244</i><i class=v232>232</i><i class=v248>248</i><i class=v256>256</i><i class=v229>229</i><i class=v238>238</i><i class=v192>192</i><i class=v229>229</i><i class=v268>268</i><i class=v232>232</i><i class=v220>220</i><i class=v241>241</i><i class=v247>247</i><i class=v253>253</i><i class=v247>247</i><i class=v217>217</i><i class=v214>214</i><i class=v217>217</i><i class=v224>224</i><i class=v208>208</i><i class=v205>205</i><i class=v199>199</i><i class=v211>211</i><i class=v220>220</i><i class=v208>208</i><i class=v232>232</i><i class=v202>202</i><i class=v199>199</i><i class=v181>181</i><i class=v208>208</i><i class=v208>208</i><i class=v208>208</i><i class=v208>208</i><i class=v199>199</i><i class=v202>202</i></div><div><i class=v339>339</i><i class=v289>289</i><i class=v289>289</i><i class=v301>301</i><i class=v313>313</i><i class=v262>262</i><i class=v265>265</i><i class=v304>304</i><i class=v313>313</i><i class=v298>298</i><i class=v277>277</i><i class=v277>277</i><i class=v310>310</i><i class=v289>289</i><i class=v289>289</i><i class=v289>289</i><i class=v245>245</i><i class=v153>153</i><i class=v194>194</i><i class=v191>191</i><i class=v157>157</i><i class=v183>183</i><i class=v185>185</i><i class=v189>189</i><i class=v163>163</i><i class=v0>0</i><i class=v138>138</i><i class=v117>117</i><i class=v117>117</i><i class=v141>141</i><i class=v258>258</i><i class=v243>243</i><i class=v255>255</i><i class=v207>207</i><i class=v234>234</i><i class=v231>231</i><i class=v227>227</i><i class=v241>241</i><i class=v239>239</i><i class=v267>267</i><i class=v210>210</i><i class=v268>268</i><i class=v259>259</i><i class=v230>230</i><i class=v262>262</i><i class=v242>242</i><i class=v245>245</i><i class=v254>254</i><i class=v246>246</i><i class=v250>250</i><i class=v253>253</i><i class=v220>220</i><i class=v240>240</i><i class=v210>210</i><i class=v271>271</i><i class=v223>223</i><i class=v256>256</i><i class=v219>219</i><i class=v241>241</i><i class=v210>210</i><i class=v243>243</i><i class=v228>228</i><i class=v240>240</i><i class=v225>225</i><i class=v225>225</i><i class=v219>219</i><i class=v258>258</i><i class=v228>228</i><i class=v237>237</i><i class=v204>204</i><i class=v208>208</i><i class=v177>177</i><i class=v186>186</i><i class=v201>201</i><i class=v192>192</i><i class=v219>219</i><i class=v201>201</i><i class=v192>192</i><i class=v201>201</i><i class=v192>192</i><i class=v168>168</i><i class=v198>198</i><i class=v201>201</i><i class=v201>201</i><i class=v201>201</i><i class=v189>189</i><i class=v204>204</i></div><div><i class=v300>300</i><i class=v289>289</i><i class=v256>256</i><i class=v301>301</i><i class=v289>289</i><i class=v250>250</i><i class=v271>271</i><i class=v286>286</i><i class=v301>301</i><i class=v274>274</i><i class=v265>265</i><i class=v262>262</i><i class=v298>298</i><i class=v265>265</i><i class=v265>265</i><i class=v265>265</i><i class=v245>245</i><i class=v177>177</i><i class=v164>164</i><i class=v170>170</i><i class=v157>157</i><i class=v171>171</i><i class=v170>170</i><i class=v144>144</i><i class=v127>127</i><i class=v138>138</i><i class=v0>0</i><i class=v99>99</i><i class=v93>93</i><i class=v117>117</i><i class=v258>258</i><i class=v243>243</i><i class=v228>228</i><i class=v186>186</i><i class=v198>198</i><i class=v207>207</i><i class=v251>251</i><i class=v238>238</i><i class=v224>224</i><i class=v270>270</i><i class=v234>234</i><i class=v283>283</i><i class=v268>268</i><i class=v290>290</i><i class=v286>286</i><i class=v284>284</i><i class=v272>272</i><i class=v239>239</i><i class=v252>252</i><i class=v244>244</i><i class=v253>253</i><i class=v247>247</i><i class=v225>225</i><i class=v204>204</i><i class=v232>232</i><i class=v241>241</i><i class=v250>250</i><i class=v228>228</i><i class=v244>244</i><i class=v231>231</i><i class=v270>270</i><i class=v231>231</i><i class=v222>222</i><i class=v231>231</i><i class=v231>231</i><i class=v219>219</i><i class=v180>180</i><i class=v177>177</i><i class=v201>201</i><i class=v138>138</i><i class=v214>214</i><i class=v195>195</i><i class=v192>192</i><i class=v189>189</i><i class=v186>186</i><i class=v219>219</i><i class=v228>228</i><i class=v228>228</i><i class=v210>210</i><i class=v201>201</i><i class=v177>177</i><i class=v225>225</i><i class=v225>225</i><i class=v225>225</i><i class=v225>225</i><i class=v204>204</i><i class=v213>213</i></div><div><i class=v315>315</i><i class=v313>313</i><i class=v304>304</i><i class=v304>304</i><i class=v316>316</i><i class=v244>244</i><i class=v253>253</i><i class=v292>292</i><i class=v316>316</i><i class=v292>292</i><i class=v289>289</i><i class=v286>286</i><i class=v304>304</i><i class=v292>292</i><i class=v280>280</i><i class=v280>280</i><i class=v215>215</i><i class=v111>111</i><i class=v113>113</i><i class=v119>119</i><i class=v100>100</i><i class=v120>120</i><i class=v104>104</i><i class=v123>123</i><i class=v121>121</i><i class=v117>117</i><i class=v99>99</i><i class=v0>0</i><i class=v6>6</i><i class=v120>120</i><i class=v216>216</i><i class=v201>201</i><i class=v201>201</i><i class=v120>120</i><i class=v165>165</i><i class=v192>192</i><i class=v242>242</i><i class=v229>229</i><i class=v200>200</i><i class=v273>273</i><i class=v234>234</i><i class=v274>274</i><i class=v286>286</i><i class=v260>260</i><i class=v292>292</i><i class=v278>278</i><i class=v275>275</i><i class=v260>260</i><i class=v276>276</i><i class=v262>262</i><i class=v277>277</i><i class=v241>241</i><i class=v243>243</i><i class=v216>216</i><i class=v268>268</i><i class=v256>256</i><i class=v253>253</i><i class=v228>228</i><i class=v235>235</i><i class=v225>225</i><i class=v237>237</i><i class=v228>228</i><i class=v231>231</i><i class=v252>252</i><i class=v237>237</i><i class=v234>234</i><i class=v237>237</i><i class=v213>213</i><i class=v207>207</i><i class=v189>189</i><i class=v220>220</i><i class=v189>189</i><i class=v189>189</i><i class=v201>201</i><i class=v204>204</i><i class=v237>237</i><i class=v234>234</i><i class=v222>222</i><i class=v222>222</i><i class=v213>213</i><i class=v189>189</i><i class=v225>225</i><i class=v225>225</i><i class=v225>225</i><i class=v225>225</i><i class=v198>198</i><i class=v201>201</i></div><div><i class=v315>315</i><i class=v313>313</i><i class=v304>304</i><i class=v304>304</i><i class=v316>316</i><i class=v244>244</i><i class=v253>253</i><i class=v292>292</i><i class=v316>316</i><i class=v292>292</i><i class=v289>289</i><i class=v286>286</i><i class=v304>304</i><i class=v292>292</i><i class=v280>280</i><i class=v280>280</i><i class=v215>215</i><i class=v111>111</i><i class=v113>113</i><i class=v119>119</i><i class=v100>100</i><i class=v114>114</i><i class=v110>110</i><i class=v117>117</i><i class=v115>115</i><i class=v117>117</i><i class=v93>93</i><i class=v6>6</i><i class=v0>0</i><i class=v120>120</i><i class=v210>210</i><i class=v195>195</i><i class=v195>195</i><i class=v114>114</i><i class=v159>159</i><i class=v192>192</i><i class=v242>242</i><i class=v229>229</i><i class=v200>200</i><i class=v273>273</i><i class=v231>231</i><i class=v274>274</i><i class=v286>286</i><i class=v260>260</i><i class=v292>292</i><i class=v278>278</i><i class=v275>275</i><i class=v260>260</i><i class=v276>276</i><i class=v262>262</i><i class=v271>271</i><i class=v241>241</i><i class=v237>237</i><i class=v216>216</i><i class=v268>268</i><i class=v256>256</i><i class=v253>253</i><i class=v228>228</i><i class=v235>235</i><i class=v225>225</i><i class=v237>237</i><i class=v231>231</i><i class=v225>225</i><i class=v246>246</i><i class=v237>237</i><i class=v234>234</i><i class=v237>237</i><i class=v213>213</i><i class=v207>207</i><i class=v195>195</i><i class=v220>220</i><i class=v189>189</i><i class=v189>189</i><i class=v207>207</i><i class=v204>204</i><i class=v237>237</i><i class=v234>234</i><i class=v222>222</i><i class=v222>222</i><i class=v213>213</i><i class=v189>189</i><i class=v225>225</i><i class=v225>225</i><i class=v225>225</i><i class=v225>225</i><i class=v204>204</i><i class=v201>201</i></div><div><i class=v306>306</i><i class=v265>265</i><i class=v241>241</i><i class=v280>280</i><i class=v280>280</i><i class=v238>238</i><i class=v259>259</i><i class=v277>277</i><i class=v274>274</i><i class=v268>268</i><i class=v250>250</i><i class=v250>250</i><i class=v283>283</i><i class=v262>262</i><i class=v253>253</i><i class=v223>223</i><i class=v221>221</i><i class=v165>165</i><i class=v176>176</i><i class=v158>158</i><i class=v145>145</i><i class=v186>186</i><i class=v191>191</i><i class=v165>165</i><i class=v163>163</i><i class=v141>141</i><i class=v117>117</i><i class=v120>120</i><i class=v120>120</i><i class=v0>0</i><i class=v246>246</i><i class=v243>243</i><i class=v231>231</i><i class=v198>198</i><i class=v234>234</i><i class=v201>201</i><i class=v218>218</i><i class=v211>211</i><i class=v209>209</i><i class=v207>207</i><i class=v192>192</i><i class=v247>247</i><i class=v247>247</i><i class=v263>263</i><i class=v256>256</i><i class=v245>245</i><i class=v260>260</i><i class=v227>227</i><i class=v249>249</i><i class=v217>217</i><i class=v247>247</i><i class=v214>214</i><i class=v234>234</i><i class=v228>228</i><i class=v238>238</i><i class=v244>244</i><i class=v232>232</i><i class=v213>213</i><i class=v223>223</i><i class=v186>186</i><i class=v213>213</i><i class=v222>222</i><i class=v201>201</i><i class=v222>222</i><i class=v210>210</i><i class=v216>216</i><i class=v198>198</i><i class=v207>207</i><i class=v201>201</i><i class=v174>174</i><i class=v157>157</i><i class=v159>159</i><i class=v174>174</i><i class=v198>198</i><i class=v150>150</i><i class=v204>204</i><i class=v204>204</i><i class=v201>201</i><i class=v219>219</i><i class=v210>210</i><i class=v198>198</i><i class=v213>213</i><i class=v213>213</i><i class=v210>210</i><i class=v210>210</i><i class=v207>207</i><i class=v210>210</i></div><div><i class=v329>329</i><i class=v279>279</i><i class=v303>303</i><i class=v291>291</i><i class=v315>315</i><i class=v291>291</i><i class=v279>279</i><i class=v309>309</i><i class=v321>321</i><i class=v315>315</i><i class=v315>315</i><i class=v312>312</i><i class=v312>312</i><i class=v312>312</i><i class=v300>300</i><i class=v291>291</i><i class=v283>283</i><i class=v198>198</i><i class=v278>278</i><i class=v272>272</i><i class=v250>250</i><i class=v202>202</i><i class=v196>196</i><i class=v236>236</i><i class=v229>229</i><i class=v258>258</i><i class=v258>258</i><i class=v216>216</i><i class=v210>210</i><i class=v246>246</i><i class=v0>0</i><i class=v78>78</i><i class=v117>117</i><i class=v141>141</i><i class=v117>117</i><i class=v150>150</i><i class=v289>289</i><i class=v279>279</i><i class=v250>250</i><i class=v294>294</i><i class=v297>297</i><i class=v334>334</i><i class=v310>310</i><i class=v320>320</i><i class=v322>322</i><i class=v326>326</i><i class=v311>311</i><i class=v311>311</i><i class=v312>312</i><i class=v307>307</i><i class=v298>298</i><i class=v292>292</i><i class=v261>261</i><i class=v267>267</i><i class=v301>301</i><i class=v304>304</i><i class=v289>289</i><i class=v279>279</i><i class=v283>283</i><i class=v276>276</i><i class=v273>273</i><i class=v273>273</i><i class=v228>228</i><i class=v282>282</i><i class=v291>291</i><i class=v270>270</i><i class=v285>285</i><i class=v261>261</i><i class=v243>243</i><i class=v255>255</i><i class=v292>292</i><i class=v261>261</i><i class=v264>264</i><i class=v270>270</i><i class=v276>276</i><i class=v273>273</i><i class=v261>261</i><i class=v237>237</i><i class=v273>273</i><i class=v240>240</i><i class=v252>252</i><i class=v252>252</i><i class=v249>249</i><i class=v252>252</i><i class=v252>252</i><i class=v252>252</i><i class=v240>240</i></div><div><i class=v338>338</i><i class=v300>300</i><i class=v300>300</i><i class=v300>300</i><i class=v318>318</i><i class=v300>300</i><i class=v279>279</i><i class=v318>318</i><i class=v300>300</i><i class=v312>312</i><i class=v303>303</i><i class=v291>291</i><i class=v294>294</i><i class=v297>297</i><i class=v288>288</i><i class=v291>291</i><i class=v271>271</i><i class=v219>219</i><i class=v263>263</i><i class=v257>257</i><i class=v238>238</i><i class=v187>187</i><i class=v181>181</i><i class=v224>224</i><i class=v205>205</i><i class=v243>243</i><i class=v243>243</i><i class=v201>201</i><i class=v195>195</i><i class=v243>243</i><i class=v78>78</i><i class=v0>0</i><i class=v117>117</i><i class=v105>105</i><i class=v120>120</i><i class=v153>153</i><i class=v268>268</i><i class=v258>258</i><i class=v217>217</i><i class=v273>273</i><i class=v285>285</i><i class=v310>310</i><i class=v310>310</i><i class=v299>299</i><i class=v307>307</i><i class=v305>305</i><i class=v290>290</i><i class=v299>299</i><i class=v291>291</i><i class=v283>283</i><i class=v265>265</i><i class=v259>259</i><i class=v249>249</i><i class=v249>249</i><i class=v292>292</i><i class=v292>292</i><i class=v256>256</i><i class=v255>255</i><i class=v283>283</i><i class=v255>255</i><i class=v249>249</i><i class=v237>237</i><i class=v228>228</i><i class=v261>261</i><i class=v261>261</i><i class=v264>264</i><i class=v264>264</i><i class=v252>252</i><i class=v231>231</i><i class=v240>240</i><i class=v277>277</i><i class=v246>246</i><i class=v261>261</i><i class=v246>246</i><i class=v261>261</i><i class=v258>258</i><i class=v237>237</i><i class=v204>204</i><i class=v261>261</i><i class=v228>228</i><i class=v240>240</i><i class=v240>240</i><i class=v240>240</i><i class=v240>240</i><i class=v240>240</i><i class=v243>243</i><i class=v237>237</i></div><div><i class=v269>269</i><i class=v312>312</i><i class=v273>273</i><i class=v279>279</i><i class=v285>285</i><i class=v279>279</i><i class=v267>267</i><i class=v291>291</i><i class=v279>279</i><i class=v285>285</i><i class=v288>288</i><i class=v288>288</i><i class=v270>270</i><i class=v285>285</i><i class=v276>276</i><i class=v249>249</i><i class=v283>283</i><i class=v228>228</i><i class=v263>263</i><i class=v245>245</i><i class=v223>223</i><i class=v175>175</i><i class=v193>193</i><i class=v212>212</i><i class=v208>208</i><i class=v255>255</i><i class=v228>228</i><i class=v201>201</i><i class=v195>195</i><i class=v231>231</i><i class=v117>117</i><i class=v117>117</i><i class=v0>0</i><i class=v117>117</i><i class=v117>117</i><i class=v123>123</i><i class=v253>253</i><i class=v258>258</i><i class=v226>226</i><i class=v285>285</i><i class=v282>282</i><i class=v310>310</i><i class=v286>286</i><i class=v296>296</i><i class=v289>289</i><i class=v302>302</i><i class=v275>275</i><i class=v287>287</i><i class=v276>276</i><i class=v274>274</i><i class=v274>274</i><i class=v268>268</i><i class=v234>234</i><i class=v246>246</i><i class=v274>274</i><i class=v268>268</i><i class=v280>280</i><i class=v222>222</i><i class=v268>268</i><i class=v252>252</i><i class=v249>249</i><i class=v249>249</i><i class=v210>210</i><i class=v246>246</i><i class=v270>270</i><i class=v246>246</i><i class=v264>264</i><i class=v261>261</i><i class=v252>252</i><i class=v243>243</i><i class=v277>277</i><i class=v246>246</i><i class=v261>261</i><i class=v243>243</i><i class=v249>249</i><i class=v234>234</i><i class=v204>204</i><i class=v237>237</i><i class=v222>222</i><i class=v213>213</i><i class=v210>210</i><i class=v222>222</i><i class=v222>222</i><i class=v222>222</i><i class=v222>222</i><i class=v234>234</i><i class=v234>234</i></div><div><i class=v323>323</i><i class=v309>309</i><i class=v303>303</i><i class=v306>306</i><i class=v318>318</i><i class=v258>258</i><i class=v279>279</i><i class=v318>318</i><i class=v315>315</i><i class=v303>303</i><i class=v306>306</i><i class=v291>291</i><i class=v294>294</i><i class=v291>291</i><i class=v282>282</i><i class=v294>294</i><i class=v226>226</i><i class=v207>207</i><i class=v215>215</i><i class=v212>212</i><i class=v202>202</i><i class=v142>142</i><i class=v157>157</i><i class=v155>155</i><i class=v205>205</i><i class=v207>207</i><i class=v186>186</i><i class=v120>120</i><i class=v114>114</i><i class=v198>198</i><i class=v141>141</i><i class=v105>105</i><i class=v117>117</i><i class=v0>0</i><i class=v117>117</i><i class=v150>150</i><i class=v250>250</i><i class=v228>228</i><i class=v199>199</i><i class=v285>285</i><i class=v231>231</i><i class=v286>286</i><i class=v286>286</i><i class=v284>284</i><i class=v304>304</i><i class=v302>302</i><i class=v275>275</i><i class=v275>275</i><i class=v288>288</i><i class=v274>274</i><i class=v283>283</i><i class=v265>265</i><i class=v249>249</i><i class=v240>240</i><i class=v268>268</i><i class=v256>256</i><i class=v268>268</i><i class=v228>228</i><i class=v259>259</i><i class=v225>225</i><i class=v225>225</i><i class=v246>246</i><i class=v240>240</i><i class=v258>258</i><i class=v243>243</i><i class=v246>246</i><i class=v252>252</i><i class=v237>237</i><i class=v231>231</i><i class=v198>198</i><i class=v217>217</i><i class=v201>201</i><i class=v225>225</i><i class=v231>231</i><i class=v216>216</i><i class=v249>249</i><i class=v246>246</i><i class=v237>237</i><i class=v222>222</i><i class=v213>213</i><i class=v213>213</i><i class=v240>240</i><i class=v240>240</i><i class=v240>240</i><i class=v240>240</i><i class=v228>228</i><i class=v225>225</i></div><div><i class=v335>335</i><i class=v294>294</i><i class=v294>294</i><i class=v306>306</i><i class=v300>300</i><i class=v306>306</i><i class=v258>258</i><i class=v291>291</i><i class=v294>294</i><i class=v300>300</i><i class=v282>282</i><i class=v279>279</i><i class=v285>285</i><i class=v273>273</i><i class=v264>264</i><i class=v267>267</i><i class=v274>274</i><i class=v222>222</i><i class=v233>233</i><i class=v239>239</i><i class=v214>214</i><i class=v178>178</i><i class=v184>184</i><i class=v182>182</i><i class=v184>184</i><i class=v234>234</i><i class=v198>198</i><i class=v165>165</i><i class=v159>159</i><i class=v234>234</i><i class=v117>117</i><i class=v120>120</i><i class=v117>117</i><i class=v117>117</i><i class=v0>0</i><i class=v105>105</i><i class=v253>253</i><i class=v240>240</i><i class=v214>214</i><i class=v273>273</i><i class=v273>273</i><i class=v298>298</i><i class=v274>274</i><i class=v284>284</i><i class=v289>289</i><i class=v290>290</i><i class=v275>275</i><i class=v266>266</i><i class=v270>270</i><i class=v271>271</i><i class=v262>262</i><i class=v244>244</i><i class=v237>237</i><i class=v204>204</i><i class=v265>265</i><i class=v256>256</i><i class=v253>253</i><i class=v246>246</i><i class=v244>244</i><i class=v240>240</i><i class=v249>249</i><i class=v237>237</i><i class=v213>213</i><i class=v246>246</i><i class=v258>258</i><i class=v246>246</i><i class=v252>252</i><i class=v225>225</i><i class=v219>219</i><i class=v234>234</i><i class=v268>268</i><i class=v237>237</i><i class=v240>240</i><i class=v234>234</i><i class=v252>252</i><i class=v249>249</i><i class=v228>228</i><i class=v225>225</i><i class=v222>222</i><i class=v210>210</i><i class=v210>210</i><i class=v201>201</i><i class=v201>201</i><i class=v201>201</i><i class=v201>201</i><i class=v198>198</i><i class=v198>198</i></div><div><i class=v329>329</i><i class=v294>294</i><i class=v267>267</i><i class=v282>282</i><i class=v309>309</i><i class=v303>303</i><i class=v267>267</i><i class=v288>288</i><i class=v282>282</i><i class=v300>300</i><i class=v273>273</i><i class=v273>273</i><i class=v279>279</i><i class=v294>294</i><i class=v294>294</i><i class=v273>273</i><i class=v283>283</i><i class=v216>216</i><i class=v239>239</i><i class=v242>242</i><i class=v211>211</i><i class=v199>199</i><i class=v187>187</i><i class=v215>215</i><i class=v184>184</i><i class=v231>231</i><i class=v207>207</i><i class=v192>192</i><i class=v192>192</i><i class=v201>201</i><i class=v150>150</i><i class=v153>153</i><i class=v123>123</i><i class=v150>150</i><i class=v105>105</i><i class=v0>0</i><i class=v220>220</i><i class=v204>204</i><i class=v184>184</i><i class=v240>240</i><i class=v243>243</i><i class=v271>271</i><i class=v271>271</i><i class=v266>266</i><i class=v274>274</i><i class=v263>263</i><i class=v272>272</i><i class=v248>248</i><i class=v255>255</i><i class=v256>256</i><i class=v256>256</i><i class=v223>223</i><i class=v246>246</i><i class=v210>210</i><i class=v244>244</i><i class=v265>265</i><i class=v250>250</i><i class=v213>213</i><i class=v226>226</i><i class=v210>210</i><i class=v237>237</i><i class=v222>222</i><i class=v234>234</i><i class=v237>237</i><i class=v231>231</i><i class=v243>243</i><i class=v216>216</i><i class=v189>189</i><i class=v168>168</i><i class=v225>225</i><i class=v223>223</i><i class=v192>192</i><i class=v192>192</i><i class=v204>204</i><i class=v204>204</i><i class=v192>192</i><i class=v189>189</i><i class=v186>186</i><i class=v222>222</i><i class=v195>195</i><i class=v195>195</i><i class=v174>174</i><i class=v174>174</i><i class=v168>168</i><i class=v168>168</i><i class=v192>192</i><i class=v174>174</i></div><div><i class=v329>329</i><i class=v316>316</i><i class=v301>301</i><i class=v316>316</i><i class=v307>307</i><i class=v310>310</i><i class=v277>277</i><i class=v313>313</i><i class=v304>304</i><i class=v298>298</i><i class=v277>277</i><i class=v265>265</i><i class=v301>301</i><i class=v313>313</i><i class=v313>313</i><i class=v289>289</i><i class=v302>302</i><i class=v272>272</i><i class=v313>313</i><i class=v292>292</i><i class=v261>261</i><i class=v239>239</i><i class=v254>254</i><i class=v242>242</i><i class=v246>246</i><i class=v227>227</i><i class=v251>251</i><i class=v242>242</i><i class=v242>242</i><i class=v218>218</i><i class=v289>289</i><i class=v268>268</i><i class=v253>253</i><i class=v250>250</i><i class=v253>253</i><i class=v220>220</i><i class=v0>0</i><i class=v136>136</i><i class=v137>137</i><i class=v185>185</i><i class=v209>209</i><i class=v207>207</i><i class=v201>201</i><i class=v211>211</i><i class=v195>195</i><i class=v169>169</i><i class=v190>190</i><i class=v220>220</i><i class=v197>197</i><i class=v186>186</i><i class=v186>186</i><i class=v195>195</i><i class=v197>197</i><i class=v197>197</i><i class=v210>210</i><i class=v189>189</i><i class=v180>180</i><i class=v179>179</i><i class=v168>168</i><i class=v119>119</i><i class=v197>197</i><i class=v185>185</i><i class=v203>203</i><i class=v167>167</i><i class=v176>176</i><i class=v185>185</i><i class=v194>194</i><i class=v215>215</i><i class=v200>200</i><i class=v242>242</i><i class=v192>192</i><i class=v179>179</i><i class=v194>194</i><i class=v194>194</i><i class=v179>179</i><i class=v191>191</i><i class=v194>194</i><i class=v191>191</i><i class=v170>170</i><i class=v179>179</i><i class=v191>191</i><i class=v197>197</i><i class=v197>197</i><i class=v197>197</i><i class=v197>197</i><i class=v179>179</i><i class=v191>191</i></div><div><i class=v313>313</i><i class=v298>298</i><i class=v298>298</i><i class=v316>316</i><i class=v316>316</i><i class=v304>304</i><i class=v289>289</i><i class=v316>316</i><i class=v304>304</i><i class=v304>304</i><i class=v277>277</i><i class=v262>262</i><i class=v298>298</i><i class=v304>304</i><i class=v304>304</i><i class=v292>292</i><i class=v266>266</i><i class=v271>271</i><i class=v276>276</i><i class=v273>273</i><i class=v260>260</i><i class=v229>229</i><i class=v230>230</i><i class=v206>206</i><i class=v242>242</i><i class=v241>241</i><i class=v238>238</i><i class=v229>229</i><i class=v229>229</i><i class=v211>211</i><i class=v279>279</i><i class=v258>258</i><i class=v258>258</i><i class=v228>228</i><i class=v240>240</i><i class=v204>204</i><i class=v136>136</i><i class=v0>0</i><i class=v113>113</i><i class=v187>187</i><i class=v199>199</i><i class=v179>179</i><i class=v197>197</i><i class=v213>213</i><i class=v203>203</i><i class=v189>189</i><i class=v186>186</i><i class=v192>192</i><i class=v175>175</i><i class=v179>179</i><i class=v176>176</i><i class=v182>182</i><i class=v181>181</i><i class=v181>181</i><i class=v200>200</i><i class=v191>191</i><i class=v167>167</i><i class=v172>172</i><i class=v176>176</i><i class=v118>118</i><i class=v184>184</i><i class=v184>184</i><i class=v199>199</i><i class=v187>187</i><i class=v172>172</i><i class=v184>184</i><i class=v169>169</i><i class=v205>205</i><i class=v175>175</i><i class=v232>232</i><i class=v179>179</i><i class=v172>172</i><i class=v193>193</i><i class=v184>184</i><i class=v163>163</i><i class=v181>181</i><i class=v181>181</i><i class=v193>193</i><i class=v184>184</i><i class=v184>184</i><i class=v196>196</i><i class=v187>187</i><i class=v187>187</i><i class=v187>187</i><i class=v187>187</i><i class=v166>166</i><i class=v175>175</i></div><div><i class=v305>305</i><i class=v312>312</i><i class=v300>300</i><i class=v321>321</i><i class=v312>312</i><i class=v309>309</i><i class=v288>288</i><i class=v300>300</i><i class=v312>312</i><i class=v312>312</i><i class=v276>276</i><i class=v252>252</i><i class=v288>288</i><i class=v297>297</i><i class=v297>297</i><i class=v285>285</i><i class=v222>222</i><i class=v239>239</i><i class=v265>265</i><i class=v262>262</i><i class=v231>231</i><i class=v217>217</i><i class=v162>162</i><i class=v212>212</i><i class=v210>210</i><i class=v239>239</i><i class=v224>224</i><i class=v200>200</i><i class=v200>200</i><i class=v209>209</i><i class=v250>250</i><i class=v217>217</i><i class=v226>226</i><i class=v199>199</i><i class=v214>214</i><i class=v184>184</i><i class=v137>137</i><i class=v113>113</i><i class=v0>0</i><i class=v196>196</i><i class=v196>196</i><i class=v185>185</i><i class=v188>188</i><i class=v201>201</i><i class=v185>185</i><i class=v171>171</i><i class=v180>180</i><i class=v192>192</i><i class=v181>181</i><i class=v176>176</i><i class=v161>161</i><i class=v170>170</i><i class=v169>169</i><i class=v181>181</i><i class=v170>170</i><i class=v185>185</i><i class=v170>170</i><i class=v139>139</i><i class=v149>149</i><i class=v106>106</i><i class=v181>181</i><i class=v133>133</i><i class=v190>190</i><i class=v169>169</i><i class=v175>175</i><i class=v181>181</i><i class=v166>166</i><i class=v175>175</i><i class=v160>160</i><i class=v190>190</i><i class=v182>182</i><i class=v175>175</i><i class=v205>205</i><i class=v181>181</i><i class=v166>166</i><i class=v175>175</i><i class=v181>181</i><i class=v181>181</i><i class=v202>202</i><i class=v193>193</i><i class=v205>205</i><i class=v193>193</i><i class=v193>193</i><i class=v193>193</i><i class=v193>193</i><i class=v181>181</i><i class=v181>181</i></div><div><i class=v326>326</i><i class=v295>295</i><i class=v292>292</i><i class=v310>310</i><i class=v319>319</i><i class=v301>301</i><i class=v280>280</i><i class=v316>316</i><i class=v292>292</i><i class=v310>310</i><i class=v277>277</i><i class=v277>277</i><i class=v301>301</i><i class=v301>301</i><i class=v304>304</i><i class=v268>268</i><i class=v190>190</i><i class=v309>309</i><i class=v295>295</i><i class=v281>281</i><i class=v279>279</i><i class=v274>274</i><i class=v274>274</i><i class=v266>266</i><i class=v252>252</i><i class=v267>267</i><i class=v270>270</i><i class=v273>273</i><i class=v273>273</i><i class=v207>207</i><i class=v294>294</i><i class=v273>273</i><i class=v285>285</i><i class=v285>285</i><i class=v273>273</i><i class=v240>240</i><i class=v185>185</i><i class=v187>187</i><i class=v196>196</i><i class=v0>0</i><i class=v129>129</i><i class=v148>148</i><i class=v166>166</i><i class=v150>150</i><i class=v147>147</i><i class=v131>131</i><i class=v151>151</i><i class=v160>160</i><i class=v105>105</i><i class=v123>123</i><i class=v140>140</i><i class=v140>140</i><i class=v183>183</i><i class=v159>159</i><i class=v182>182</i><i class=v186>186</i><i class=v120>120</i><i class=v192>192</i><i class=v144>144</i><i class=v120>120</i><i class=v165>165</i><i class=v159>159</i><i class=v147>147</i><i class=v156>156</i><i class=v147>147</i><i class=v171>171</i><i class=v150>150</i><i class=v201>201</i><i class=v174>174</i><i class=v219>219</i><i class=v167>167</i><i class=v159>159</i><i class=v168>168</i><i class=v183>183</i><i class=v159>159</i><i class=v180>180</i><i class=v156>156</i><i class=v177>177</i><i class=v183>183</i><i class=v192>192</i><i class=v192>192</i><i class=v183>183</i><i class=v183>183</i><i class=v183>183</i><i class=v183>183</i><i class=v168>168</i><i class=v177>177</i></div><div><i class=v326>326</i><i class=v298>298</i><i class=v298>298</i><i class=v310>310</i><i class=v310>310</i><i class=v271>271</i><i class=v274>274</i><i class=v307>307</i><i class=v307>307</i><i class=v298>298</i><i class=v259>259</i><i class=v259>259</i><i class=v292>292</i><i class=v298>298</i><i class=v298>298</i><i class=v283>283</i><i class=v193>193</i><i class=v285>285</i><i class=v247>247</i><i class=v236>236</i><i class=v234>234</i><i class=v238>238</i><i class=v241>241</i><i class=v227>227</i><i class=v228>228</i><i class=v210>210</i><i class=v234>234</i><i class=v234>234</i><i class=v231>231</i><i class=v192>192</i><i class=v297>297</i><i class=v285>285</i><i class=v282>282</i><i class=v231>231</i><i class=v273>273</i><i class=v243>243</i><i class=v209>209</i><i class=v199>199</i><i class=v196>196</i><i class=v129>129</i><i class=v0>0</i><i class=v163>163</i><i class=v136>136</i><i class=v171>171</i><i class=v162>162</i><i class=v158>158</i><i class=v142>142</i><i class=v157>157</i><i class=v114>114</i><i class=v147>147</i><i class=v164>164</i><i class=v140>140</i><i class=v177>177</i><i class=v180>180</i><i class=v149>149</i><i class=v165>165</i><i class=v159>159</i><i class=v135>135</i><i class=v129>129</i><i class=v120>120</i><i class=v201>201</i><i class=v189>189</i><i class=v195>195</i><i class=v171>171</i><i class=v186>186</i><i class=v183>183</i><i class=v210>210</i><i class=v174>174</i><i class=v171>171</i><i class=v162>162</i><i class=v98>98</i><i class=v132>132</i><i class=v150>150</i><i class=v138>138</i><i class=v123>123</i><i class=v153>153</i><i class=v168>168</i><i class=v165>165</i><i class=v159>159</i><i class=v150>150</i><i class=v144>144</i><i class=v162>162</i><i class=v162>162</i><i class=v159>159</i><i class=v159>159</i><i class=v153>153</i><i class=v156>156</i></div><div><i class=v315>315</i><i class=v284>284</i><i class=v296>296</i><i class=v308>308</i><i class=v308>308</i><i class=v281>281</i><i class=v266>266</i><i class=v293>293</i><i class=v281>281</i><i class=v296>296</i><i class=v257>257</i><i class=v266>266</i><i class=v290>290</i><i class=v284>284</i><i class=v296>296</i><i class=v278>278</i><i class=v281>281</i><i class=v334>334</i><i class=v271>271</i><i class=v294>294</i><i class=v284>284</i><i class=v287>287</i><i class=v284>284</i><i class=v270>270</i><i class=v276>276</i><i class=v268>268</i><i class=v283>283</i><i class=v274>274</i><i class=v274>274</i><i class=v247>247</i><i class=v334>334</i><i class=v310>310</i><i class=v310>310</i><i class=v286>286</i><i class=v298>298</i><i class=v271>271</i><i class=v207>207</i><i class=v179>179</i><i class=v185>185</i><i class=v148>148</i><i class=v163>163</i><i class=v0>0</i><i class=v96>96</i><i class=v117>117</i><i class=v121>121</i><i class=v147>147</i><i class=v145>145</i><i class=v148>148</i><i class=v154>154</i><i class=v133>133</i><i class=v134>134</i><i class=v140>140</i><i class=v175>175</i><i class=v184>184</i><i class=v164>164</i><i class=v155>155</i><i class=v131>131</i><i class=v157>157</i><i class=v132>132</i><i class=v103>103</i><i class=v169>169</i><i class=v160>160</i><i class=v190>190</i><i class=v163>163</i><i class=v142>142</i><i class=v187>187</i><i class=v172>172</i><i class=v163>163</i><i class=v175>175</i><i class=v220>220</i><i class=v167>167</i><i class=v175>175</i><i class=v199>199</i><i class=v175>175</i><i class=v163>163</i><i class=v184>184</i><i class=v184>184</i><i class=v196>196</i><i class=v199>199</i><i class=v199>199</i><i class=v187>187</i><i class=v187>187</i><i class=v190>190</i><i class=v190>190</i><i class=v190>190</i><i class=v175>175</i><i class=v175>175</i></div><div><i class=v303>303</i><i class=v269>269</i><i class=v281>281</i><i class=v293>293</i><i class=v281>281</i><i class=v278>278</i><i class=v248>248</i><i class=v290>290</i><i class=v290>290</i><i class=v281>281</i><i class=v245>245</i><i class=v239>239</i><i class=v254>254</i><i class=v266>266</i><i class=v266>266</i><i class=v251>251</i><i class=v272>272</i><i class=v310>310</i><i class=v268>268</i><i class=v282>282</i><i class=v260>260</i><i class=v275>275</i><i class=v275>275</i><i class=v270>270</i><i class=v252>252</i><i class=v259>259</i><i class=v268>268</i><i class=v286>286</i><i class=v286>286</i><i class=v247>247</i><i class=v310>310</i><i class=v310>310</i><i class=v286>286</i><i class=v286>286</i><i class=v274>274</i><i class=v271>271</i><i class=v201>201</i><i class=v197>197</i><i class=v188>188</i><i class=v166>166</i><i class=v136>136</i><i class=v96>96</i><i class=v0>0</i><i class=v132>132</i><i class=v115>115</i><i class=v138>138</i><i class=v145>145</i><i class=v145>145</i><i class=v130>130</i><i class=v124>124</i><i class=v128>128</i><i class=v128>128</i><i class=v166>166</i><i class=v157>157</i><i class=v98>98</i><i class=v134>134</i><i class=v137>137</i><i class=v160>160</i><i class=v126>126</i><i class=v106>106</i><i class=v199>199</i><i class=v175>175</i><i class=v166>166</i><i class=v157>157</i><i class=v184>184</i><i class=v169>169</i><i class=v193>193</i><i class=v202>202</i><i class=v196>196</i><i class=v205>205</i><i class=v143>143</i><i class=v172>172</i><i class=v178>178</i><i class=v142>142</i><i class=v151>151</i><i class=v145>145</i><i class=v163>163</i><i class=v187>187</i><i class=v163>163</i><i class=v154>154</i><i class=v166>166</i><i class=v154>154</i><i class=v154>154</i><i class=v154>154</i><i class=v142>142</i><i class=v148>148</i><i class=v166>166</i></div><div><i class=v310>310</i><i class=v261>261</i><i class=v273>273</i><i class=v288>288</i><i class=v288>288</i><i class=v273>273</i><i class=v243>243</i><i class=v276>276</i><i class=v273>273</i><i class=v276>276</i><i class=v237>237</i><i class=v252>252</i><i class=v273>273</i><i class=v273>273</i><i class=v276>276</i><i class=v252>252</i><i class=v280>280</i><i class=v299>299</i><i class=v249>249</i><i class=v279>279</i><i class=v260>260</i><i class=v273>273</i><i class=v270>270</i><i class=v280>280</i><i class=v260>260</i><i class=v230>230</i><i class=v290>290</i><i class=v260>260</i><i class=v260>260</i><i class=v263>263</i><i class=v320>320</i><i class=v299>299</i><i class=v296>296</i><i class=v284>284</i><i class=v284>284</i><i class=v266>266</i><i class=v211>211</i><i class=v213>213</i><i class=v201>201</i><i class=v150>150</i><i class=v171>171</i><i class=v117>117</i><i class=v132>132</i><i class=v0>0</i><i class=v94>94</i><i class=v99>99</i><i class=v137>137</i><i class=v134>134</i><i class=v129>129</i><i class=v133>133</i><i class=v156>156</i><i class=v132>132</i><i class=v188>188</i><i class=v170>170</i><i class=v186>186</i><i class=v146>146</i><i class=v152>152</i><i class=v182>182</i><i class=v134>134</i><i class=v116>116</i><i class=v164>164</i><i class=v176>176</i><i class=v176>176</i><i class=v161>161</i><i class=v152>152</i><i class=v176>176</i><i class=v194>194</i><i class=v188>188</i><i class=v185>185</i><i class=v218>218</i><i class=v180>180</i><i class=v173>173</i><i class=v200>200</i><i class=v188>188</i><i class=v188>188</i><i class=v194>194</i><i class=v176>176</i><i class=v176>176</i><i class=v173>173</i><i class=v164>164</i><i class=v176>176</i><i class=v161>161</i><i class=v164>164</i><i class=v164>164</i><i class=v164>164</i><i class=v152>152</i><i class=v152>152</i></div><div><i class=v301>301</i><i class=v288>288</i><i class=v276>276</i><i class=v291>291</i><i class=v276>276</i><i class=v276>276</i><i class=v246>246</i><i class=v243>243</i><i class=v273>273</i><i class=v276>276</i><i class=v240>240</i><i class=v243>243</i><i class=v261>261</i><i class=v276>276</i><i class=v279>279</i><i class=v243>243</i><i class=v277>277</i><i class=v328>328</i><i class=v265>265</i><i class=v268>268</i><i class=v260>260</i><i class=v293>293</i><i class=v293>293</i><i class=v288>288</i><i class=v269>269</i><i class=v262>262</i><i class=v286>286</i><i class=v292>292</i><i class=v292>292</i><i class=v256>256</i><i class=v322>322</i><i class=v307>307</i><i class=v289>289</i><i class=v304>304</i><i class=v289>289</i><i class=v274>274</i><i class=v195>195</i><i class=v203>203</i><i class=v185>185</i><i class=v147>147</i><i class=v162>162</i><i class=v121>121</i><i class=v115>115</i><i class=v94>94</i><i class=v0>0</i><i class=v109>109</i><i class=v135>135</i><i class=v135>135</i><i class=v117>117</i><i class=v117>117</i><i class=v125>125</i><i class=v134>134</i><i class=v172>172</i><i class=v166>166</i><i class=v155>155</i><i class=v131>131</i><i class=v134>134</i><i class=v178>178</i><i class=v137>137</i><i class=v109>109</i><i class=v184>184</i><i class=v160>160</i><i class=v172>172</i><i class=v145>145</i><i class=v166>166</i><i class=v172>172</i><i class=v190>190</i><i class=v184>184</i><i class=v193>193</i><i class=v202>202</i><i class=v161>161</i><i class=v181>181</i><i class=v196>196</i><i class=v172>172</i><i class=v160>160</i><i class=v178>178</i><i class=v184>184</i><i class=v172>172</i><i class=v181>181</i><i class=v172>172</i><i class=v172>172</i><i class=v166>166</i><i class=v169>169</i><i class=v169>169</i><i class=v160>160</i><i class=v160>160</i><i class=v172>172</i></div><div><i class=v317>317</i><i class=v280>280</i><i class=v268>268</i><i class=v307>307</i><i class=v295>295</i><i class=v292>292</i><i class=v262>262</i><i class=v295>295</i><i class=v292>292</i><i class=v295>295</i><i class=v256>256</i><i class=v259>259</i><i class=v280>280</i><i class=v280>280</i><i class=v283>283</i><i class=v259>259</i><i class=v273>273</i><i class=v293>293</i><i class=v292>292</i><i class=v240>240</i><i class=v254>254</i><i class=v270>270</i><i class=v279>279</i><i class=v286>286</i><i class=v257>257</i><i class=v242>242</i><i class=v284>284</i><i class=v278>278</i><i class=v278>278</i><i class=v245>245</i><i class=v326>326</i><i class=v305>305</i><i class=v302>302</i><i class=v302>302</i><i class=v290>290</i><i class=v263>263</i><i class=v169>169</i><i class=v189>189</i><i class=v171>171</i><i class=v131>131</i><i class=v158>158</i><i class=v147>147</i><i class=v138>138</i><i class=v99>99</i><i class=v109>109</i><i class=v0>0</i><i class=v127>127</i><i class=v151>151</i><i class=v110>110</i><i class=v114>114</i><i class=v126>126</i><i class=v126>126</i><i class=v170>170</i><i class=v164>164</i><i class=v156>156</i><i class=v131>131</i><i class=v122>122</i><i class=v164>164</i><i class=v119>119</i><i class=v110>110</i><i class=v170>170</i><i class=v158>158</i><i class=v170>170</i><i class=v143>143</i><i class=v158>158</i><i class=v170>170</i><i class=v176>176</i><i class=v206>206</i><i class=v179>179</i><i class=v224>224</i><i class=v138>138</i><i class=v143>143</i><i class=v182>182</i><i class=v170>170</i><i class=v158>158</i><i class=v164>164</i><i class=v170>170</i><i class=v170>170</i><i class=v191>191</i><i class=v182>182</i><i class=v182>182</i><i class=v170>170</i><i class=v170>170</i><i class=v170>170</i><i class=v170>170</i><i class=v158>158</i><i class=v170>170</i></div><div><i class=v310>310</i><i class=v303>303</i><i class=v291>291</i><i class=v303>303</i><i class=v300>300</i><i class=v288>288</i><i class=v279>279</i><i class=v291>291</i><i class=v291>291</i><i class=v303>303</i><i class=v255>255</i><i class=v243>243</i><i class=v297>297</i><i class=v291>291</i><i class=v291>291</i><i class=v264>264</i><i class=v269>269</i><i class=v299>299</i><i class=v298>298</i><i class=v286>286</i><i class=v262>262</i><i class=v270>270</i><i class=v276>276</i><i class=v271>271</i><i class=v266>266</i><i class=v245>245</i><i class=v272>272</i><i class=v275>275</i><i class=v275>275</i><i class=v260>260</i><i class=v311>311</i><i class=v290>290</i><i class=v275>275</i><i class=v275>275</i><i class=v275>275</i><i class=v272>272</i><i class=v190>190</i><i class=v186>186</i><i class=v180>180</i><i class=v151>151</i><i class=v142>142</i><i class=v145>145</i><i class=v145>145</i><i class=v137>137</i><i class=v135>135</i><i class=v127>127</i><i class=v0>0</i><i class=v108>108</i><i class=v133>133</i><i class=v120>120</i><i class=v150>150</i><i class=v147>147</i><i class=v143>143</i><i class=v161>161</i><i class=v156>156</i><i class=v118>118</i><i class=v130>130</i><i class=v161>161</i><i class=v137>137</i><i class=v104>104</i><i class=v155>155</i><i class=v167>167</i><i class=v179>179</i><i class=v167>167</i><i class=v173>173</i><i class=v191>191</i><i class=v188>188</i><i class=v194>194</i><i class=v191>191</i><i class=v188>188</i><i class=v162>162</i><i class=v185>185</i><i class=v203>203</i><i class=v179>179</i><i class=v179>179</i><i class=v185>185</i><i class=v191>191</i><i class=v179>179</i><i class=v173>173</i><i class=v167>167</i><i class=v176>176</i><i class=v176>176</i><i class=v167>167</i><i class=v176>176</i><i class=v179>179</i><i class=v167>167</i><i class=v179>179</i></div><div><i class=v310>310</i><i class=v279>279</i><i class=v261>261</i><i class=v303>303</i><i class=v279>279</i><i class=v291>291</i><i class=v279>279</i><i class=v264>264</i><i class=v279>279</i><i class=v279>279</i><i class=v243>243</i><i class=v243>243</i><i class=v273>273</i><i class=v267>267</i><i class=v267>267</i><i class=v255>255</i><i class=v272>272</i><i class=v308>308</i><i class=v274>274</i><i class=v250>250</i><i class=v259>259</i><i class=v276>276</i><i class=v270>270</i><i class=v244>244</i><i class=v251>251</i><i class=v254>254</i><i class=v239>239</i><i class=v260>260</i><i class=v260>260</i><i class=v227>227</i><i class=v311>311</i><i class=v299>299</i><i class=v287>287</i><i class=v275>275</i><i class=v266>266</i><i class=v248>248</i><i class=v220>220</i><i class=v192>192</i><i class=v192>192</i><i class=v160>160</i><i class=v157>157</i><i class=v148>148</i><i class=v145>145</i><i class=v134>134</i><i class=v135>135</i><i class=v151>151</i><i class=v108>108</i><i class=v0>0</i><i class=v127>127</i><i class=v141>141</i><i class=v159>159</i><i class=v144>144</i><i class=v167>167</i><i class=v140>140</i><i class=v147>147</i><i class=v136>136</i><i class=v148>148</i><i class=v158>158</i><i class=v131>131</i><i class=v116>116</i><i class=v164>164</i><i class=v167>167</i><i class=v176>176</i><i class=v164>164</i><i class=v146>146</i><i class=v158>158</i><i class=v161>161</i><i class=v149>149</i><i class=v161>161</i><i class=v176>176</i><i class=v171>171</i><i class=v170>170</i><i class=v185>185</i><i class=v173>173</i><i class=v176>176</i><i class=v179>179</i><i class=v173>173</i><i class=v173>173</i><i class=v173>173</i><i class=v164>164</i><i class=v155>155</i><i class=v149>149</i><i class=v140>140</i><i class=v140>140</i><i class=v128>128</i><i class=v137>137</i><i class=v137>137</i></div><div><i class=v323>323</i><i class=v298>298</i><i class=v292>292</i><i class=v313>313</i><i class=v301>301</i><i class=v298>298</i><i class=v262>262</i><i class=v301>301</i><i class=v310>310</i><i class=v301>301</i><i class=v274>274</i><i class=v265>265</i><i class=v274>274</i><i class=v286>286</i><i class=v286>286</i><i class=v253>253</i><i class=v226>226</i><i class=v309>309</i><i class=v286>286</i><i class=v272>272</i><i class=v273>273</i><i class=v265>265</i><i class=v265>265</i><i class=v254>254</i><i class=v243>243</i><i class=v246>246</i><i class=v252>252</i><i class=v276>276</i><i class=v276>276</i><i class=v249>249</i><i class=v312>312</i><i class=v291>291</i><i class=v276>276</i><i class=v288>288</i><i class=v270>270</i><i class=v255>255</i><i class=v197>197</i><i class=v175>175</i><i class=v181>181</i><i class=v105>105</i><i class=v114>114</i><i class=v154>154</i><i class=v130>130</i><i class=v129>129</i><i class=v117>117</i><i class=v110>110</i><i class=v133>133</i><i class=v127>127</i><i class=v0>0</i><i class=v93>93</i><i class=v122>122</i><i class=v110>110</i><i class=v162>162</i><i class=v108>108</i><i class=v155>155</i><i class=v156>156</i><i class=v135>135</i><i class=v168>168</i><i class=v135>135</i><i class=v114>114</i><i class=v186>186</i><i class=v156>156</i><i class=v150>150</i><i class=v147>147</i><i class=v156>156</i><i class=v174>174</i><i class=v171>171</i><i class=v192>192</i><i class=v174>174</i><i class=v210>210</i><i class=v158>158</i><i class=v168>168</i><i class=v183>183</i><i class=v147>147</i><i class=v150>150</i><i class=v138>138</i><i class=v159>159</i><i class=v171>171</i><i class=v159>159</i><i class=v150>150</i><i class=v150>150</i><i class=v144>144</i><i class=v147>147</i><i class=v147>147</i><i class=v147>147</i><i class=v126>126</i><i class=v147>147</i></div><div><i class=v299>299</i><i class=v283>283</i><i class=v286>286</i><i class=v301>301</i><i class=v289>289</i><i class=v262>262</i><i class=v250>250</i><i class=v298>298</i><i class=v286>286</i><i class=v289>289</i><i class=v250>250</i><i class=v247>247</i><i class=v274>274</i><i class=v262>262</i><i class=v253>253</i><i class=v244>244</i><i class=v253>253</i><i class=v310>310</i><i class=v284>284</i><i class=v276>276</i><i class=v255>255</i><i class=v251>251</i><i class=v248>248</i><i class=v246>246</i><i class=v236>236</i><i class=v250>250</i><i class=v244>244</i><i class=v262>262</i><i class=v262>262</i><i class=v217>217</i><i class=v307>307</i><i class=v283>283</i><i class=v274>274</i><i class=v274>274</i><i class=v271>271</i><i class=v256>256</i><i class=v186>186</i><i class=v179>179</i><i class=v176>176</i><i class=v123>123</i><i class=v147>147</i><i class=v133>133</i><i class=v124>124</i><i class=v133>133</i><i class=v117>117</i><i class=v114>114</i><i class=v120>120</i><i class=v141>141</i><i class=v93>93</i><i class=v0>0</i><i class=v104>104</i><i class=v113>113</i><i class=v139>139</i><i class=v133>133</i><i class=v149>149</i><i class=v144>144</i><i class=v108>108</i><i class=v157>157</i><i class=v122>122</i><i class=v100>100</i><i class=v178>178</i><i class=v151>151</i><i class=v139>139</i><i class=v139>139</i><i class=v151>151</i><i class=v154>154</i><i class=v160>160</i><i class=v187>187</i><i class=v175>175</i><i class=v205>205</i><i class=v131>131</i><i class=v151>151</i><i class=v175>175</i><i class=v139>139</i><i class=v127>127</i><i class=v148>148</i><i class=v148>148</i><i class=v163>163</i><i class=v160>160</i><i class=v151>151</i><i class=v151>151</i><i class=v142>142</i><i class=v154>154</i><i class=v154>154</i><i class=v154>154</i><i class=v139>139</i><i class=v139>139</i></div><div><i class=v326>326</i><i class=v283>283</i><i class=v307>307</i><i class=v292>292</i><i class=v307>307</i><i class=v304>304</i><i class=v286>286</i><i class=v307>307</i><i class=v295>295</i><i class=v283>283</i><i class=v283>283</i><i class=v271>271</i><i class=v292>292</i><i class=v289>289</i><i class=v283>283</i><i class=v280>280</i><i class=v291>291</i><i class=v316>316</i><i class=v309>309</i><i class=v291>291</i><i class=v244>244</i><i class=v260>260</i><i class=v266>266</i><i class=v255>255</i><i class=v230>230</i><i class=v253>253</i><i class=v253>253</i><i class=v277>277</i><i class=v271>271</i><i class=v247>247</i><i class=v298>298</i><i class=v265>265</i><i class=v274>274</i><i class=v283>283</i><i class=v262>262</i><i class=v256>256</i><i class=v186>186</i><i class=v176>176</i><i class=v161>161</i><i class=v140>140</i><i class=v164>164</i><i class=v134>134</i><i class=v128>128</i><i class=v156>156</i><i class=v125>125</i><i class=v126>126</i><i class=v150>150</i><i class=v159>159</i><i class=v122>122</i><i class=v104>104</i><i class=v0>0</i><i class=v81>81</i><i class=v133>133</i><i class=v151>151</i><i class=v123>123</i><i class=v121>121</i><i class=v85>85</i><i class=v151>151</i><i class=v131>131</i><i class=v109>109</i><i class=v169>169</i><i class=v136>136</i><i class=v127>127</i><i class=v136>136</i><i class=v139>139</i><i class=v172>172</i><i class=v157>157</i><i class=v169>169</i><i class=v169>169</i><i class=v199>199</i><i class=v117>117</i><i class=v157>157</i><i class=v160>160</i><i class=v124>124</i><i class=v112>112</i><i class=v130>130</i><i class=v124>124</i><i class=v160>160</i><i class=v160>160</i><i class=v160>160</i><i class=v157>157</i><i class=v160>160</i><i class=v160>160</i><i class=v160>160</i><i class=v160>160</i><i class=v148>148</i><i class=v160>160</i></div><div><i class=v323>323</i><i class=v307>307</i><i class=v307>307</i><i class=v304>304</i><i class=v307>307</i><i class=v289>289</i><i class=v268>268</i><i class=v280>280</i><i class=v304>304</i><i class=v307>307</i><i class=v268>268</i><i class=v244>244</i><i class=v292>292</i><i class=v292>292</i><i class=v289>289</i><i class=v265>265</i><i class=v261>261</i><i class=v274>274</i><i class=v264>264</i><i class=v252>252</i><i class=v205>205</i><i class=v254>254</i><i class=v242>242</i><i class=v249>249</i><i class=v224>224</i><i class=v220>220</i><i class=v247>247</i><i class=v241>241</i><i class=v241>241</i><i class=v214>214</i><i class=v292>292</i><i class=v259>259</i><i class=v268>268</i><i class=v265>265</i><i class=v244>244</i><i class=v223>223</i><i class=v195>195</i><i class=v182>182</i><i class=v170>170</i><i class=v140>140</i><i class=v140>140</i><i class=v140>140</i><i class=v128>128</i><i class=v132>132</i><i class=v134>134</i><i class=v126>126</i><i class=v147>147</i><i class=v144>144</i><i class=v110>110</i><i class=v113>113</i><i class=v81>81</i><i class=v0>0</i><i class=v148>148</i><i class=v118>118</i><i class=v108>108</i><i class=v121>121</i><i class=v94>94</i><i class=v154>154</i><i class=v110>110</i><i class=v100>100</i><i class=v172>172</i><i class=v130>130</i><i class=v142>142</i><i class=v136>136</i><i class=v154>154</i><i class=v157>157</i><i class=v160>160</i><i class=v169>169</i><i class=v154>154</i><i class=v196>196</i><i class=v105>105</i><i class=v139>139</i><i class=v157>157</i><i class=v133>133</i><i class=v154>154</i><i class=v157>157</i><i class=v133>133</i><i class=v124>124</i><i class=v157>157</i><i class=v148>148</i><i class=v136>136</i><i class=v127>127</i><i class=v130>130</i><i class=v127>127</i><i class=v127>127</i><i class=v100>100</i><i class=v121>121</i></div><div><i class=v284>284</i><i class=v325>325</i><i class=v304>304</i><i class=v325>325</i><i class=v313>313</i><i class=v313>313</i><i class=v292>292</i><i class=v316>316</i><i class=v316>316</i><i class=v316>316</i><i class=v268>268</i><i class=v256>256</i><i class=v307>307</i><i class=v289>289</i><i class=v277>277</i><i class=v286>286</i><i class=v286>286</i><i class=v288>288</i><i class=v308>308</i><i class=v299>299</i><i class=v280>280</i><i class=v238>238</i><i class=v241>241</i><i class=v233>233</i><i class=v244>244</i><i class=v240>240</i><i class=v225>225</i><i class=v243>243</i><i class=v237>237</i><i class=v234>234</i><i class=v261>261</i><i class=v249>249</i><i class=v234>234</i><i class=v249>249</i><i class=v237>237</i><i class=v246>246</i><i class=v197>197</i><i class=v181>181</i><i class=v169>169</i><i class=v183>183</i><i class=v177>177</i><i class=v175>175</i><i class=v166>166</i><i class=v188>188</i><i class=v172>172</i><i class=v170>170</i><i class=v143>143</i><i class=v167>167</i><i class=v162>162</i><i class=v139>139</i><i class=v133>133</i><i class=v148>148</i><i class=v0>0</i><i class=v126>126</i><i class=v160>160</i><i class=v148>148</i><i class=v142>142</i><i class=v129>129</i><i class=v139>139</i><i class=v120>120</i><i class=v165>165</i><i class=v144>144</i><i class=v126>126</i><i class=v138>138</i><i class=v153>153</i><i class=v141>141</i><i class=v153>153</i><i class=v180>180</i><i class=v180>180</i><i class=v168>168</i><i class=v166>166</i><i class=v162>162</i><i class=v180>180</i><i class=v126>126</i><i class=v147>147</i><i class=v153>153</i><i class=v153>153</i><i class=v156>156</i><i class=v162>162</i><i class=v156>156</i><i class=v153>153</i><i class=v156>156</i><i class=v156>156</i><i class=v156>156</i><i class=v156>156</i><i class=v135>135</i><i class=v156>156</i></div><div><i class=v320>320</i><i class=v313>313</i><i class=v301>301</i><i class=v319>319</i><i class=v307>307</i><i class=v307>307</i><i class=v277>277</i><i class=v277>277</i><i class=v289>289</i><i class=v307>307</i><i class=v271>271</i><i class=v247>247</i><i class=v280>280</i><i class=v259>259</i><i class=v256>256</i><i class=v259>259</i><i class=v250>250</i><i class=v264>264</i><i class=v281>281</i><i class=v275>275</i><i class=v256>256</i><i class=v241>241</i><i class=v226>226</i><i class=v194>194</i><i class=v232>232</i><i class=v210>210</i><i class=v204>204</i><i class=v216>216</i><i class=v216>216</i><i class=v228>228</i><i class=v267>267</i><i class=v249>249</i><i class=v246>246</i><i class=v240>240</i><i class=v204>204</i><i class=v210>210</i><i class=v197>197</i><i class=v181>181</i><i class=v181>181</i><i class=v159>159</i><i class=v180>180</i><i class=v184>184</i><i class=v157>157</i><i class=v170>170</i><i class=v166>166</i><i class=v164>164</i><i class=v161>161</i><i class=v140>140</i><i class=v108>108</i><i class=v133>133</i><i class=v151>151</i><i class=v118>118</i><i class=v126>126</i><i class=v0>0</i><i class=v154>154</i><i class=v139>139</i><i class=v136>136</i><i class=v150>150</i><i class=v127>127</i><i class=v114>114</i><i class=v171>171</i><i class=v141>141</i><i class=v144>144</i><i class=v138>138</i><i class=v156>156</i><i class=v141>141</i><i class=v159>159</i><i class=v162>162</i><i class=v147>147</i><i class=v171>171</i><i class=v163>163</i><i class=v144>144</i><i class=v147>147</i><i class=v138>138</i><i class=v147>147</i><i class=v141>141</i><i class=v138>138</i><i class=v144>144</i><i class=v135>135</i><i class=v126>126</i><i class=v114>114</i><i class=v114>114</i><i class=v117>117</i><i class=v117>117</i><i class=v117>117</i><i class=v102>102</i><i class=v108>108</i></div><div><i class=v335>335</i><i class=v316>316</i><i class=v310>310</i><i class=v331>331</i><i class=v319>319</i><i class=v316>316</i><i class=v304>304</i><i class=v310>310</i><i class=v310>310</i><i class=v319>319</i><i class=v271>271</i><i class=v256>256</i><i class=v283>283</i><i class=v295>295</i><i class=v295>295</i><i class=v280>280</i><i class=v282>282</i><i class=v280>280</i><i class=v279>279</i><i class=v267>267</i><i class=v217>217</i><i class=v269>269</i><i class=v269>269</i><i class=v285>285</i><i class=v248>248</i><i class=v271>271</i><i class=v232>232</i><i class=v268>268</i><i class=v268>268</i><i class=v238>238</i><i class=v301>301</i><i class=v292>292</i><i class=v274>274</i><i class=v268>268</i><i class=v265>265</i><i class=v244>244</i><i class=v210>210</i><i class=v200>200</i><i class=v170>170</i><i class=v182>182</i><i class=v149>149</i><i class=v164>164</i><i class=v98>98</i><i class=v186>186</i><i class=v155>155</i><i class=v156>156</i><i class=v156>156</i><i class=v147>147</i><i class=v155>155</i><i class=v149>149</i><i class=v123>123</i><i class=v108>108</i><i class=v160>160</i><i class=v154>154</i><i class=v0>0</i><i class=v103>103</i><i class=v115>115</i><i class=v148>148</i><i class=v137>137</i><i class=v118>118</i><i class=v202>202</i><i class=v166>166</i><i class=v181>181</i><i class=v160>160</i><i class=v178>178</i><i class=v163>163</i><i class=v145>145</i><i class=v157>157</i><i class=v166>166</i><i class=v157>157</i><i class=v123>123</i><i class=v184>184</i><i class=v190>190</i><i class=v166>166</i><i class=v175>175</i><i class=v160>160</i><i class=v181>181</i><i class=v196>196</i><i class=v187>187</i><i class=v178>178</i><i class=v190>190</i><i class=v160>160</i><i class=v160>160</i><i class=v151>151</i><i class=v139>139</i><i class=v163>163</i><i class=v178>178</i></div><div><i class=v317>317</i><i class=v298>298</i><i class=v274>274</i><i class=v286>286</i><i class=v274>274</i><i class=v286>286</i><i class=v274>274</i><i class=v274>274</i><i class=v286>286</i><i class=v286>286</i><i class=v250>250</i><i class=v238>238</i><i class=v298>298</i><i class=v274>274</i><i class=v274>274</i><i class=v262>262</i><i class=v274>274</i><i class=v292>292</i><i class=v297>297</i><i class=v260>260</i><i class=v210>210</i><i class=v269>269</i><i class=v269>269</i><i class=v252>252</i><i class=v256>256</i><i class=v223>223</i><i class=v241>241</i><i class=v256>256</i><i class=v256>256</i><i class=v244>244</i><i class=v304>304</i><i class=v292>292</i><i class=v268>268</i><i class=v256>256</i><i class=v256>256</i><i class=v265>265</i><i class=v189>189</i><i class=v191>191</i><i class=v185>185</i><i class=v186>186</i><i class=v165>165</i><i class=v155>155</i><i class=v134>134</i><i class=v146>146</i><i class=v131>131</i><i class=v131>131</i><i class=v118>118</i><i class=v136>136</i><i class=v156>156</i><i class=v144>144</i><i class=v121>121</i><i class=v121>121</i><i class=v148>148</i><i class=v139>139</i><i class=v103>103</i><i class=v0>0</i><i class=v84>84</i><i class=v139>139</i><i class=v136>136</i><i class=v109>109</i><i class=v169>169</i><i class=v172>172</i><i class=v181>181</i><i class=v157>157</i><i class=v175>175</i><i class=v127>127</i><i class=v181>181</i><i class=v181>181</i><i class=v184>184</i><i class=v169>169</i><i class=v121>121</i><i class=v178>178</i><i class=v193>193</i><i class=v169>169</i><i class=v169>169</i><i class=v163>163</i><i class=v181>181</i><i class=v169>169</i><i class=v154>154</i><i class=v145>145</i><i class=v157>157</i><i class=v166>166</i><i class=v169>169</i><i class=v169>169</i><i class=v163>163</i><i class=v157>157</i><i class=v169>169</i></div><div><i class=v317>317</i><i class=v298>298</i><i class=v310>310</i><i class=v322>322</i><i class=v310>310</i><i class=v298>298</i><i class=v283>283</i><i class=v307>307</i><i class=v298>298</i><i class=v310>310</i><i class=v274>274</i><i class=v271>271</i><i class=v289>289</i><i class=v295>295</i><i class=v295>295</i><i class=v286>286</i><i class=v262>262</i><i class=v301>301</i><i class=v282>282</i><i class=v260>260</i><i class=v219>219</i><i class=v257>257</i><i class=v254>254</i><i class=v249>249</i><i class=v229>229</i><i class=v256>256</i><i class=v250>250</i><i class=v253>253</i><i class=v253>253</i><i class=v232>232</i><i class=v289>289</i><i class=v256>256</i><i class=v280>280</i><i class=v268>268</i><i class=v253>253</i><i class=v250>250</i><i class=v180>180</i><i class=v167>167</i><i class=v170>170</i><i class=v120>120</i><i class=v159>159</i><i class=v131>131</i><i class=v137>137</i><i class=v152>152</i><i class=v134>134</i><i class=v122>122</i><i class=v130>130</i><i class=v148>148</i><i class=v135>135</i><i class=v108>108</i><i class=v85>85</i><i class=v94>94</i><i class=v142>142</i><i class=v136>136</i><i class=v115>115</i><i class=v84>84</i><i class=v0>0</i><i class=v139>139</i><i class=v115>115</i><i class=v109>109</i><i class=v160>160</i><i class=v145>145</i><i class=v136>136</i><i class=v148>148</i><i class=v151>151</i><i class=v157>157</i><i class=v157>157</i><i class=v181>181</i><i class=v166>166</i><i class=v205>205</i><i class=v112>112</i><i class=v157>157</i><i class=v175>175</i><i class=v154>154</i><i class=v148>148</i><i class=v166>166</i><i class=v157>157</i><i class=v169>169</i><i class=v178>178</i><i class=v169>169</i><i class=v166>166</i><i class=v148>148</i><i class=v160>160</i><i class=v160>160</i><i class=v154>154</i><i class=v142>142</i><i class=v151>151</i></div><div><i class=v281>281</i><i class=v304>304</i><i class=v298>298</i><i class=v313>313</i><i class=v307>307</i><i class=v301>301</i><i class=v283>283</i><i class=v295>295</i><i class=v295>295</i><i class=v307>307</i><i class=v265>265</i><i class=v241>241</i><i class=v274>274</i><i class=v286>286</i><i class=v286>286</i><i class=v274>274</i><i class=v277>277</i><i class=v279>279</i><i class=v293>293</i><i class=v290>290</i><i class=v259>259</i><i class=v241>241</i><i class=v238>238</i><i class=v224>224</i><i class=v238>238</i><i class=v219>219</i><i class=v228>228</i><i class=v228>228</i><i class=v228>228</i><i class=v213>213</i><i class=v279>279</i><i class=v255>255</i><i class=v222>222</i><i class=v228>228</i><i class=v246>246</i><i class=v213>213</i><i class=v179>179</i><i class=v172>172</i><i class=v139>139</i><i class=v192>192</i><i class=v135>135</i><i class=v157>157</i><i class=v160>160</i><i class=v182>182</i><i class=v178>178</i><i class=v164>164</i><i class=v161>161</i><i class=v158>158</i><i class=v168>168</i><i class=v157>157</i><i class=v151>151</i><i class=v154>154</i><i class=v129>129</i><i class=v150>150</i><i class=v148>148</i><i class=v139>139</i><i class=v139>139</i><i class=v0>0</i><i class=v121>121</i><i class=v102>102</i><i class=v171>171</i><i class=v138>138</i><i class=v165>165</i><i class=v141>141</i><i class=v120>120</i><i class=v132>132</i><i class=v171>171</i><i class=v135>135</i><i class=v144>144</i><i class=v156>156</i><i class=v136>136</i><i class=v129>129</i><i class=v159>159</i><i class=v123>123</i><i class=v132>132</i><i class=v126>126</i><i class=v102>102</i><i class=v147>147</i><i class=v147>147</i><i class=v135>135</i><i class=v135>135</i><i class=v126>126</i><i class=v126>126</i><i class=v126>126</i><i class=v126>126</i><i class=v138>138</i><i class=v120>120</i></div><div><i class=v322>322</i><i class=v294>294</i><i class=v306>306</i><i class=v318>318</i><i class=v306>306</i><i class=v303>303</i><i class=v282>282</i><i class=v285>285</i><i class=v288>288</i><i class=v294>294</i><i class=v252>252</i><i class=v267>267</i><i class=v288>288</i><i class=v294>294</i><i class=v294>294</i><i class=v279>279</i><i class=v268>268</i><i class=v283>283</i><i class=v281>281</i><i class=v278>278</i><i class=v241>241</i><i class=v260>260</i><i class=v245>245</i><i class=v231>231</i><i class=v192>192</i><i class=v241>241</i><i class=v244>244</i><i class=v235>235</i><i class=v235>235</i><i class=v223>223</i><i class=v283>283</i><i class=v283>283</i><i class=v268>268</i><i class=v259>259</i><i class=v244>244</i><i class=v226>226</i><i class=v168>168</i><i class=v176>176</i><i class=v149>149</i><i class=v144>144</i><i class=v129>129</i><i class=v132>132</i><i class=v126>126</i><i class=v134>134</i><i class=v137>137</i><i class=v119>119</i><i class=v137>137</i><i class=v131>131</i><i class=v135>135</i><i class=v122>122</i><i class=v131>131</i><i class=v110>110</i><i class=v139>139</i><i class=v127>127</i><i class=v137>137</i><i class=v136>136</i><i class=v115>115</i><i class=v121>121</i><i class=v0>0</i><i class=v85>85</i><i class=v154>154</i><i class=v133>133</i><i class=v154>154</i><i class=v133>133</i><i class=v145>145</i><i class=v154>154</i><i class=v169>169</i><i class=v157>157</i><i class=v148>148</i><i class=v193>193</i><i class=v146>146</i><i class=v139>139</i><i class=v157>157</i><i class=v133>133</i><i class=v142>142</i><i class=v148>148</i><i class=v154>154</i><i class=v163>163</i><i class=v142>142</i><i class=v133>133</i><i class=v145>145</i><i class=v142>142</i><i class=v142>142</i><i class=v142>142</i><i class=v142>142</i><i class=v121>121</i><i class=v118>118</i></div><div><i class=v320>320</i><i class=v301>301</i><i class=v289>289</i><i class=v313>313</i><i class=v295>295</i><i class=v295>295</i><i class=v268>268</i><i class=v286>286</i><i class=v298>298</i><i class=v295>295</i><i class=v262>262</i><i class=v250>250</i><i class=v280>280</i><i class=v289>289</i><i class=v289>289</i><i class=v274>274</i><i class=v262>262</i><i class=v264>264</i><i class=v290>290</i><i class=v287>287</i><i class=v253>253</i><i class=v238>238</i><i class=v235>235</i><i class=v221>221</i><i class=v229>229</i><i class=v210>210</i><i class=v231>231</i><i class=v225>225</i><i class=v225>225</i><i class=v186>186</i><i class=v276>276</i><i class=v255>255</i><i class=v252>252</i><i class=v225>225</i><i class=v240>240</i><i class=v210>210</i><i class=v119>119</i><i class=v118>118</i><i class=v106>106</i><i class=v120>120</i><i class=v120>120</i><i class=v103>103</i><i class=v106>106</i><i class=v116>116</i><i class=v109>109</i><i class=v110>110</i><i class=v104>104</i><i class=v116>116</i><i class=v114>114</i><i class=v100>100</i><i class=v109>109</i><i class=v100>100</i><i class=v120>120</i><i class=v114>114</i><i class=v118>118</i><i class=v109>109</i><i class=v109>109</i><i class=v102>102</i><i class=v85>85</i><i class=v0>0</i><i class=v108>108</i><i class=v117>117</i><i class=v120>120</i><i class=v108>108</i><i class=v102>102</i><i class=v117>117</i><i class=v120>120</i><i class=v117>117</i><i class=v114>114</i><i class=v147>147</i><i class=v109>109</i><i class=v111>111</i><i class=v120>120</i><i class=v120>120</i><i class=v102>102</i><i class=v111>111</i><i class=v117>117</i><i class=v117>117</i><i class=v117>117</i><i class=v108>108</i><i class=v120>120</i><i class=v111>111</i><i class=v114>114</i><i class=v114>114</i><i class=v114>114</i><i class=v96>96</i><i class=v96>96</i></div><div><i class=v332>332</i><i class=v289>289</i><i class=v289>289</i><i class=v316>316</i><i class=v313>313</i><i class=v313>313</i><i class=v301>301</i><i class=v298>298</i><i class=v304>304</i><i class=v304>304</i><i class=v301>301</i><i class=v301>301</i><i class=v283>283</i><i class=v301>301</i><i class=v277>277</i><i class=v289>289</i><i class=v286>286</i><i class=v249>249</i><i class=v302>302</i><i class=v299>299</i><i class=v253>253</i><i class=v250>250</i><i class=v247>247</i><i class=v233>233</i><i class=v268>268</i><i class=v243>243</i><i class=v270>270</i><i class=v237>237</i><i class=v237>237</i><i class=v213>213</i><i class=v273>273</i><i class=v249>249</i><i class=v249>249</i><i class=v225>225</i><i class=v249>249</i><i class=v237>237</i><i class=v197>197</i><i class=v184>184</i><i class=v181>181</i><i class=v165>165</i><i class=v201>201</i><i class=v169>169</i><i class=v199>199</i><i class=v164>164</i><i class=v184>184</i><i class=v170>170</i><i class=v155>155</i><i class=v164>164</i><i class=v186>186</i><i class=v178>178</i><i class=v169>169</i><i class=v172>172</i><i class=v165>165</i><i class=v171>171</i><i class=v202>202</i><i class=v169>169</i><i class=v160>160</i><i class=v171>171</i><i class=v154>154</i><i class=v108>108</i><i class=v0>0</i><i class=v144>144</i><i class=v132>132</i><i class=v144>144</i><i class=v141>141</i><i class=v156>156</i><i class=v144>144</i><i class=v177>177</i><i class=v159>159</i><i class=v198>198</i><i class=v190>190</i><i class=v156>156</i><i class=v156>156</i><i class=v180>180</i><i class=v165>165</i><i class=v171>171</i><i class=v168>168</i><i class=v180>180</i><i class=v192>192</i><i class=v189>189</i><i class=v189>189</i><i class=v174>174</i><i class=v177>177</i><i class=v177>177</i><i class=v177>177</i><i class=v165>165</i><i class=v165>165</i></div><div><i class=v317>317</i><i class=v304>304</i><i class=v316>316</i><i class=v322>322</i><i class=v313>313</i><i class=v307>307</i><i class=v277>277</i><i class=v298>298</i><i class=v316>316</i><i class=v310>310</i><i class=v280>280</i><i class=v268>268</i><i class=v277>277</i><i class=v301>301</i><i class=v301>301</i><i class=v289>289</i><i class=v280>280</i><i class=v270>270</i><i class=v290>290</i><i class=v284>284</i><i class=v250>250</i><i class=v235>235</i><i class=v229>229</i><i class=v242>242</i><i class=v232>232</i><i class=v228>228</i><i class=v231>231</i><i class=v228>228</i><i class=v231>231</i><i class=v222>222</i><i class=v273>273</i><i class=v237>237</i><i class=v249>249</i><i class=v246>246</i><i class=v237>237</i><i class=v222>222</i><i class=v185>185</i><i class=v184>184</i><i class=v133>133</i><i class=v159>159</i><i class=v189>189</i><i class=v160>160</i><i class=v175>175</i><i class=v176>176</i><i class=v160>160</i><i class=v158>158</i><i class=v167>167</i><i class=v167>167</i><i class=v156>156</i><i class=v151>151</i><i class=v136>136</i><i class=v130>130</i><i class=v144>144</i><i class=v141>141</i><i class=v166>166</i><i class=v172>172</i><i class=v145>145</i><i class=v138>138</i><i class=v133>133</i><i class=v117>117</i><i class=v144>144</i><i class=v0>0</i><i class=v129>129</i><i class=v108>108</i><i class=v135>135</i><i class=v141>141</i><i class=v138>138</i><i class=v156>156</i><i class=v153>153</i><i class=v159>159</i><i class=v181>181</i><i class=v147>147</i><i class=v150>150</i><i class=v150>150</i><i class=v153>153</i><i class=v162>162</i><i class=v156>156</i><i class=v156>156</i><i class=v177>177</i><i class=v168>168</i><i class=v165>165</i><i class=v156>156</i><i class=v156>156</i><i class=v153>153</i><i class=v156>156</i><i class=v138>138</i><i class=v153>153</i></div><div><i class=v299>299</i><i class=v289>289</i><i class=v277>277</i><i class=v289>289</i><i class=v301>301</i><i class=v301>301</i><i class=v280>280</i><i class=v310>310</i><i class=v313>313</i><i class=v301>301</i><i class=v268>268</i><i class=v286>286</i><i class=v274>274</i><i class=v286>286</i><i class=v274>274</i><i class=v253>253</i><i class=v289>289</i><i class=v273>273</i><i class=v296>296</i><i class=v290>290</i><i class=v253>253</i><i class=v217>217</i><i class=v220>220</i><i class=v209>209</i><i class=v220>220</i><i class=v240>240</i><i class=v222>222</i><i class=v231>231</i><i class=v225>225</i><i class=v201>201</i><i class=v228>228</i><i class=v228>228</i><i class=v210>210</i><i class=v240>240</i><i class=v213>213</i><i class=v234>234</i><i class=v203>203</i><i class=v199>199</i><i class=v190>190</i><i class=v147>147</i><i class=v195>195</i><i class=v190>190</i><i class=v166>166</i><i class=v176>176</i><i class=v172>172</i><i class=v170>170</i><i class=v179>179</i><i class=v176>176</i><i class=v150>150</i><i class=v139>139</i><i class=v127>127</i><i class=v142>142</i><i class=v126>126</i><i class=v144>144</i><i class=v181>181</i><i class=v181>181</i><i class=v136>136</i><i class=v165>165</i><i class=v154>154</i><i class=v120>120</i><i class=v132>132</i><i class=v129>129</i><i class=v0>0</i><i class=v90>90</i><i class=v144>144</i><i class=v150>150</i><i class=v153>153</i><i class=v180>180</i><i class=v174>174</i><i class=v171>171</i><i class=v184>184</i><i class=v165>165</i><i class=v153>153</i><i class=v144>144</i><i class=v156>156</i><i class=v162>162</i><i class=v141>141</i><i class=v165>165</i><i class=v165>165</i><i class=v156>156</i><i class=v159>159</i><i class=v144>144</i><i class=v156>156</i><i class=v156>156</i><i class=v156>156</i><i class=v135>135</i><i class=v153>153</i></div><div><i class=v311>311</i><i class=v301>301</i><i class=v277>277</i><i class=v301>301</i><i class=v277>277</i><i class=v289>289</i><i class=v265>265</i><i class=v301>301</i><i class=v277>277</i><i class=v289>289</i><i class=v241>241</i><i class=v265>265</i><i class=v274>274</i><i class=v277>277</i><i class=v277>277</i><i class=v274>274</i><i class=v256>256</i><i class=v288>288</i><i class=v311>311</i><i class=v290>290</i><i class=v256>256</i><i class=v247>247</i><i class=v253>253</i><i class=v242>242</i><i class=v241>241</i><i class=v225>225</i><i class=v231>231</i><i class=v252>252</i><i class=v246>246</i><i class=v222>222</i><i class=v282>282</i><i class=v261>261</i><i class=v246>246</i><i class=v258>258</i><i class=v246>246</i><i class=v237>237</i><i class=v167>167</i><i class=v187>187</i><i class=v169>169</i><i class=v156>156</i><i class=v171>171</i><i class=v163>163</i><i class=v157>157</i><i class=v161>161</i><i class=v145>145</i><i class=v143>143</i><i class=v167>167</i><i class=v164>164</i><i class=v147>147</i><i class=v139>139</i><i class=v136>136</i><i class=v136>136</i><i class=v138>138</i><i class=v138>138</i><i class=v160>160</i><i class=v157>157</i><i class=v148>148</i><i class=v141>141</i><i class=v133>133</i><i class=v108>108</i><i class=v144>144</i><i class=v108>108</i><i class=v90>90</i><i class=v0>0</i><i class=v126>126</i><i class=v126>126</i><i class=v141>141</i><i class=v168>168</i><i class=v165>165</i><i class=v177>177</i><i class=v172>172</i><i class=v141>141</i><i class=v132>132</i><i class=v144>144</i><i class=v156>156</i><i class=v162>162</i><i class=v156>156</i><i class=v144>144</i><i class=v153>153</i><i class=v144>144</i><i class=v141>141</i><i class=v144>144</i><i class=v144>144</i><i class=v144>144</i><i class=v144>144</i><i class=v132>132</i><i class=v144>144</i></div><div><i class=v317>317</i><i class=v289>289</i><i class=v298>298</i><i class=v307>307</i><i class=v301>301</i><i class=v313>313</i><i class=v274>274</i><i class=v307>307</i><i class=v280>280</i><i class=v277>277</i><i class=v268>268</i><i class=v271>271</i><i class=v286>286</i><i class=v292>292</i><i class=v295>295</i><i class=v271>271</i><i class=v280>280</i><i class=v291>291</i><i class=v308>308</i><i class=v305>305</i><i class=v274>274</i><i class=v250>250</i><i class=v247>247</i><i class=v239>239</i><i class=v247>247</i><i class=v225>225</i><i class=v231>231</i><i class=v237>237</i><i class=v237>237</i><i class=v210>210</i><i class=v291>291</i><i class=v261>261</i><i class=v270>270</i><i class=v243>243</i><i class=v258>258</i><i class=v231>231</i><i class=v176>176</i><i class=v172>172</i><i class=v175>175</i><i class=v147>147</i><i class=v186>186</i><i class=v142>142</i><i class=v184>184</i><i class=v152>152</i><i class=v166>166</i><i class=v158>158</i><i class=v173>173</i><i class=v146>146</i><i class=v156>156</i><i class=v151>151</i><i class=v139>139</i><i class=v154>154</i><i class=v153>153</i><i class=v156>156</i><i class=v178>178</i><i class=v175>175</i><i class=v151>151</i><i class=v120>120</i><i class=v145>145</i><i class=v102>102</i><i class=v141>141</i><i class=v135>135</i><i class=v144>144</i><i class=v126>126</i><i class=v0>0</i><i class=v111>111</i><i class=v111>111</i><i class=v120>120</i><i class=v144>144</i><i class=v174>174</i><i class=v187>187</i><i class=v159>159</i><i class=v135>135</i><i class=v162>162</i><i class=v159>159</i><i class=v171>171</i><i class=v162>162</i><i class=v174>174</i><i class=v162>162</i><i class=v162>162</i><i class=v150>150</i><i class=v156>156</i><i class=v144>144</i><i class=v156>156</i><i class=v156>156</i><i class=v138>138</i><i class=v135>135</i></div><div><i class=v284>284</i><i class=v292>292</i><i class=v265>265</i><i class=v307>307</i><i class=v271>271</i><i class=v268>268</i><i class=v262>262</i><i class=v271>271</i><i class=v268>268</i><i class=v271>271</i><i class=v232>232</i><i class=v220>220</i><i class=v292>292</i><i class=v271>271</i><i class=v283>283</i><i class=v247>247</i><i class=v265>265</i><i class=v258>258</i><i class=v293>293</i><i class=v269>269</i><i class=v226>226</i><i class=v223>223</i><i class=v235>235</i><i class=v242>242</i><i class=v253>253</i><i class=v219>219</i><i class=v219>219</i><i class=v234>234</i><i class=v234>234</i><i class=v216>216</i><i class=v270>270</i><i class=v264>264</i><i class=v246>246</i><i class=v246>246</i><i class=v246>246</i><i class=v243>243</i><i class=v185>185</i><i class=v184>184</i><i class=v181>181</i><i class=v171>171</i><i class=v183>183</i><i class=v187>187</i><i class=v169>169</i><i class=v176>176</i><i class=v172>172</i><i class=v170>170</i><i class=v191>191</i><i class=v158>158</i><i class=v174>174</i><i class=v154>154</i><i class=v172>172</i><i class=v157>157</i><i class=v141>141</i><i class=v141>141</i><i class=v163>163</i><i class=v127>127</i><i class=v157>157</i><i class=v132>132</i><i class=v154>154</i><i class=v117>117</i><i class=v156>156</i><i class=v141>141</i><i class=v150>150</i><i class=v126>126</i><i class=v111>111</i><i class=v0>0</i><i class=v138>138</i><i class=v174>174</i><i class=v165>165</i><i class=v147>147</i><i class=v178>178</i><i class=v171>171</i><i class=v150>150</i><i class=v174>174</i><i class=v174>174</i><i class=v180>180</i><i class=v174>174</i><i class=v156>156</i><i class=v147>147</i><i class=v138>138</i><i class=v150>150</i><i class=v162>162</i><i class=v159>159</i><i class=v159>159</i><i class=v162>162</i><i class=v150>150</i><i class=v150>150</i></div><div><i class=v320>320</i><i class=v301>301</i><i class=v292>292</i><i class=v325>325</i><i class=v313>313</i><i class=v310>310</i><i class=v307>307</i><i class=v310>310</i><i class=v301>301</i><i class=v298>298</i><i class=v277>277</i><i class=v274>274</i><i class=v298>298</i><i class=v301>301</i><i class=v289>289</i><i class=v289>289</i><i class=v292>292</i><i class=v273>273</i><i class=v296>296</i><i class=v284>284</i><i class=v265>265</i><i class=v238>238</i><i class=v238>238</i><i class=v254>254</i><i class=v247>247</i><i class=v258>258</i><i class=v180>180</i><i class=v237>237</i><i class=v237>237</i><i class=v198>198</i><i class=v285>285</i><i class=v264>264</i><i class=v264>264</i><i class=v252>252</i><i class=v252>252</i><i class=v216>216</i><i class=v194>194</i><i class=v169>169</i><i class=v166>166</i><i class=v150>150</i><i class=v210>210</i><i class=v172>172</i><i class=v193>193</i><i class=v194>194</i><i class=v190>190</i><i class=v176>176</i><i class=v188>188</i><i class=v161>161</i><i class=v171>171</i><i class=v160>160</i><i class=v157>157</i><i class=v160>160</i><i class=v153>153</i><i class=v159>159</i><i class=v145>145</i><i class=v181>181</i><i class=v157>157</i><i class=v171>171</i><i class=v169>169</i><i class=v120>120</i><i class=v144>144</i><i class=v138>138</i><i class=v153>153</i><i class=v141>141</i><i class=v111>111</i><i class=v138>138</i><i class=v0>0</i><i class=v111>111</i><i class=v102>102</i><i class=v132>132</i><i class=v178>178</i><i class=v138>138</i><i class=v153>153</i><i class=v165>165</i><i class=v141>141</i><i class=v144>144</i><i class=v135>135</i><i class=v159>159</i><i class=v180>180</i><i class=v180>180</i><i class=v180>180</i><i class=v171>171</i><i class=v159>159</i><i class=v171>171</i><i class=v171>171</i><i class=v156>156</i><i class=v165>165</i></div><div><i class=v326>326</i><i class=v274>274</i><i class=v280>280</i><i class=v301>301</i><i class=v295>295</i><i class=v310>310</i><i class=v274>274</i><i class=v265>265</i><i class=v289>289</i><i class=v283>283</i><i class=v265>265</i><i class=v265>265</i><i class=v292>292</i><i class=v289>289</i><i class=v289>289</i><i class=v277>277</i><i class=v292>292</i><i class=v264>264</i><i class=v278>278</i><i class=v284>284</i><i class=v244>244</i><i class=v238>238</i><i class=v223>223</i><i class=v230>230</i><i class=v217>217</i><i class=v228>228</i><i class=v177>177</i><i class=v213>213</i><i class=v213>213</i><i class=v207>207</i><i class=v261>261</i><i class=v252>252</i><i class=v261>261</i><i class=v237>237</i><i class=v225>225</i><i class=v189>189</i><i class=v215>215</i><i class=v205>205</i><i class=v175>175</i><i class=v201>201</i><i class=v174>174</i><i class=v163>163</i><i class=v202>202</i><i class=v188>188</i><i class=v184>184</i><i class=v206>206</i><i class=v194>194</i><i class=v149>149</i><i class=v192>192</i><i class=v187>187</i><i class=v169>169</i><i class=v169>169</i><i class=v180>180</i><i class=v162>162</i><i class=v157>157</i><i class=v181>181</i><i class=v181>181</i><i class=v135>135</i><i class=v157>157</i><i class=v117>117</i><i class=v177>177</i><i class=v156>156</i><i class=v180>180</i><i class=v168>168</i><i class=v120>120</i><i class=v174>174</i><i class=v111>111</i><i class=v0>0</i><i class=v75>75</i><i class=v108>108</i><i class=v175>175</i><i class=v147>147</i><i class=v138>138</i><i class=v132>132</i><i class=v129>129</i><i class=v150>150</i><i class=v147>147</i><i class=v153>153</i><i class=v162>162</i><i class=v138>138</i><i class=v126>126</i><i class=v138>138</i><i class=v141>141</i><i class=v141>141</i><i class=v141>141</i><i class=v135>135</i><i class=v114>114</i></div><div><i class=v341>341</i><i class=v280>280</i><i class=v280>280</i><i class=v292>292</i><i class=v304>304</i><i class=v304>304</i><i class=v280>280</i><i class=v292>292</i><i class=v289>289</i><i class=v292>292</i><i class=v268>268</i><i class=v268>268</i><i class=v259>259</i><i class=v292>292</i><i class=v292>292</i><i class=v280>280</i><i class=v283>283</i><i class=v243>243</i><i class=v272>272</i><i class=v275>275</i><i class=v235>235</i><i class=v232>232</i><i class=v217>217</i><i class=v221>221</i><i class=v214>214</i><i class=v237>237</i><i class=v201>201</i><i class=v207>207</i><i class=v207>207</i><i class=v201>201</i><i class=v243>243</i><i class=v231>231</i><i class=v252>252</i><i class=v231>231</i><i class=v219>219</i><i class=v168>168</i><i class=v200>200</i><i class=v175>175</i><i class=v160>160</i><i class=v174>174</i><i class=v171>171</i><i class=v175>175</i><i class=v196>196</i><i class=v185>185</i><i class=v193>193</i><i class=v179>179</i><i class=v191>191</i><i class=v161>161</i><i class=v174>174</i><i class=v175>175</i><i class=v169>169</i><i class=v154>154</i><i class=v180>180</i><i class=v147>147</i><i class=v166>166</i><i class=v184>184</i><i class=v166>166</i><i class=v144>144</i><i class=v148>148</i><i class=v114>114</i><i class=v159>159</i><i class=v153>153</i><i class=v174>174</i><i class=v165>165</i><i class=v144>144</i><i class=v165>165</i><i class=v102>102</i><i class=v75>75</i><i class=v0>0</i><i class=v153>153</i><i class=v157>157</i><i class=v117>117</i><i class=v117>117</i><i class=v123>123</i><i class=v123>123</i><i class=v117>117</i><i class=v114>114</i><i class=v114>114</i><i class=v162>162</i><i class=v138>138</i><i class=v138>138</i><i class=v135>135</i><i class=v132>132</i><i class=v135>135</i><i class=v135>135</i><i class=v135>135</i><i class=v102>102</i></div><div><i class=v317>317</i><i class=v301>301</i><i class=v280>280</i><i class=v301>301</i><i class=v301>301</i><i class=v274>274</i><i class=v286>286</i><i class=v274>274</i><i class=v301>301</i><i class=v286>286</i><i class=v265>265</i><i class=v250>250</i><i class=v310>310</i><i class=v286>286</i><i class=v286>286</i><i class=v277>277</i><i class=v256>256</i><i class=v249>249</i><i class=v248>248</i><i class=v251>251</i><i class=v229>229</i><i class=v196>196</i><i class=v187>187</i><i class=v215>215</i><i class=v217>217</i><i class=v204>204</i><i class=v138>138</i><i class=v189>189</i><i class=v195>195</i><i class=v174>174</i><i class=v255>255</i><i class=v240>240</i><i class=v243>243</i><i class=v198>198</i><i class=v234>234</i><i class=v225>225</i><i class=v242>242</i><i class=v232>232</i><i class=v190>190</i><i class=v219>219</i><i class=v162>162</i><i class=v220>220</i><i class=v205>205</i><i class=v218>218</i><i class=v202>202</i><i class=v224>224</i><i class=v188>188</i><i class=v176>176</i><i class=v210>210</i><i class=v205>205</i><i class=v199>199</i><i class=v196>196</i><i class=v168>168</i><i class=v171>171</i><i class=v157>157</i><i class=v169>169</i><i class=v205>205</i><i class=v156>156</i><i class=v193>193</i><i class=v147>147</i><i class=v198>198</i><i class=v159>159</i><i class=v171>171</i><i class=v177>177</i><i class=v174>174</i><i class=v147>147</i><i class=v132>132</i><i class=v108>108</i><i class=v153>153</i><i class=v0>0</i><i class=v142>142</i><i class=v147>147</i><i class=v147>147</i><i class=v147>147</i><i class=v126>126</i><i class=v171>171</i><i class=v180>180</i><i class=v171>171</i><i class=v159>159</i><i class=v150>150</i><i class=v150>150</i><i class=v171>171</i><i class=v174>174</i><i class=v174>174</i><i class=v174>174</i><i class=v159>159</i><i class=v174>174</i></div><div><i class=v314>314</i><i class=v283>283</i><i class=v283>283</i><i class=v307>307</i><i class=v307>307</i><i class=v259>259</i><i class=v271>271</i><i class=v307>307</i><i class=v307>307</i><i class=v295>295</i><i class=v271>271</i><i class=v256>256</i><i class=v292>292</i><i class=v292>292</i><i class=v292>292</i><i class=v283>283</i><i class=v237>237</i><i class=v265>265</i><i class=v249>249</i><i class=v222>222</i><i class=v196>196</i><i class=v221>221</i><i class=v221>221</i><i class=v216>216</i><i class=v224>224</i><i class=v208>208</i><i class=v214>214</i><i class=v220>220</i><i class=v220>220</i><i class=v157>157</i><i class=v292>292</i><i class=v277>277</i><i class=v277>277</i><i class=v217>217</i><i class=v268>268</i><i class=v223>223</i><i class=v192>192</i><i class=v179>179</i><i class=v182>182</i><i class=v167>167</i><i class=v98>98</i><i class=v167>167</i><i class=v143>143</i><i class=v180>180</i><i class=v161>161</i><i class=v138>138</i><i class=v162>162</i><i class=v171>171</i><i class=v158>158</i><i class=v131>131</i><i class=v117>117</i><i class=v105>105</i><i class=v166>166</i><i class=v163>163</i><i class=v123>123</i><i class=v121>121</i><i class=v112>112</i><i class=v136>136</i><i class=v146>146</i><i class=v109>109</i><i class=v190>190</i><i class=v181>181</i><i class=v184>184</i><i class=v172>172</i><i class=v187>187</i><i class=v178>178</i><i class=v178>178</i><i class=v175>175</i><i class=v157>157</i><i class=v142>142</i><i class=v0>0</i><i class=v97>97</i><i class=v121>121</i><i class=v121>121</i><i class=v76>76</i><i class=v130>130</i><i class=v142>142</i><i class=v139>139</i><i class=v142>142</i><i class=v133>133</i><i class=v133>133</i><i class=v148>148</i><i class=v148>148</i><i class=v145>145</i><i class=v145>145</i><i class=v142>142</i><i class=v145>145</i></div><div><i class=v314>314</i><i class=v289>289</i><i class=v286>286</i><i class=v277>277</i><i class=v298>298</i><i class=v250>250</i><i class=v262>262</i><i class=v310>310</i><i class=v301>301</i><i class=v277>277</i><i class=v274>274</i><i class=v271>271</i><i class=v283>283</i><i class=v298>298</i><i class=v298>298</i><i class=v286>286</i><i class=v235>235</i><i class=v237>237</i><i class=v248>248</i><i class=v236>236</i><i class=v217>217</i><i class=v181>181</i><i class=v190>190</i><i class=v194>194</i><i class=v208>208</i><i class=v177>177</i><i class=v195>195</i><i class=v189>189</i><i class=v189>189</i><i class=v159>159</i><i class=v261>261</i><i class=v246>246</i><i class=v246>246</i><i class=v201>201</i><i class=v237>237</i><i class=v192>192</i><i class=v179>179</i><i class=v172>172</i><i class=v175>175</i><i class=v159>159</i><i class=v132>132</i><i class=v175>175</i><i class=v172>172</i><i class=v173>173</i><i class=v181>181</i><i class=v143>143</i><i class=v185>185</i><i class=v170>170</i><i class=v168>168</i><i class=v151>151</i><i class=v157>157</i><i class=v139>139</i><i class=v162>162</i><i class=v144>144</i><i class=v184>184</i><i class=v178>178</i><i class=v157>157</i><i class=v129>129</i><i class=v139>139</i><i class=v111>111</i><i class=v156>156</i><i class=v147>147</i><i class=v165>165</i><i class=v141>141</i><i class=v159>159</i><i class=v171>171</i><i class=v138>138</i><i class=v147>147</i><i class=v117>117</i><i class=v147>147</i><i class=v97>97</i><i class=v0>0</i><i class=v93>93</i><i class=v105>105</i><i class=v72>72</i><i class=v105>105</i><i class=v90>90</i><i class=v102>102</i><i class=v114>114</i><i class=v111>111</i><i class=v99>99</i><i class=v114>114</i><i class=v114>114</i><i class=v114>114</i><i class=v114>114</i><i class=v108>108</i><i class=v111>111</i></div><div><i class=v314>314</i><i class=v286>286</i><i class=v289>289</i><i class=v277>277</i><i class=v295>295</i><i class=v262>262</i><i class=v244>244</i><i class=v289>289</i><i class=v286>286</i><i class=v247>247</i><i class=v274>274</i><i class=v274>274</i><i class=v268>268</i><i class=v289>289</i><i class=v289>289</i><i class=v289>289</i><i class=v223>223</i><i class=v216>216</i><i class=v248>248</i><i class=v248>248</i><i class=v208>208</i><i class=v202>202</i><i class=v190>190</i><i class=v197>197</i><i class=v205>205</i><i class=v186>186</i><i class=v192>192</i><i class=v189>189</i><i class=v189>189</i><i class=v174>174</i><i class=v264>264</i><i class=v261>261</i><i class=v261>261</i><i class=v225>225</i><i class=v240>240</i><i class=v192>192</i><i class=v194>194</i><i class=v193>193</i><i class=v205>205</i><i class=v168>168</i><i class=v150>150</i><i class=v199>199</i><i class=v178>178</i><i class=v200>200</i><i class=v196>196</i><i class=v182>182</i><i class=v203>203</i><i class=v185>185</i><i class=v183>183</i><i class=v175>175</i><i class=v160>160</i><i class=v157>157</i><i class=v180>180</i><i class=v147>147</i><i class=v190>190</i><i class=v193>193</i><i class=v175>175</i><i class=v159>159</i><i class=v157>157</i><i class=v120>120</i><i class=v156>156</i><i class=v150>150</i><i class=v153>153</i><i class=v132>132</i><i class=v135>135</i><i class=v150>150</i><i class=v153>153</i><i class=v138>138</i><i class=v117>117</i><i class=v147>147</i><i class=v121>121</i><i class=v93>93</i><i class=v0>0</i><i class=v84>84</i><i class=v93>93</i><i class=v117>117</i><i class=v129>129</i><i class=v141>141</i><i class=v132>132</i><i class=v132>132</i><i class=v108>108</i><i class=v123>123</i><i class=v120>120</i><i class=v123>123</i><i class=v123>123</i><i class=v114>114</i><i class=v108>108</i></div><div><i class=v314>314</i><i class=v277>277</i><i class=v289>289</i><i class=v274>274</i><i class=v289>289</i><i class=v274>274</i><i class=v256>256</i><i class=v301>301</i><i class=v301>301</i><i class=v277>277</i><i class=v277>277</i><i class=v265>265</i><i class=v274>274</i><i class=v274>274</i><i class=v274>274</i><i class=v274>274</i><i class=v250>250</i><i class=v240>240</i><i class=v272>272</i><i class=v272>272</i><i class=v232>232</i><i class=v208>208</i><i class=v190>190</i><i class=v191>191</i><i class=v199>199</i><i class=v201>201</i><i class=v189>189</i><i class=v201>201</i><i class=v207>207</i><i class=v198>198</i><i class=v270>270</i><i class=v246>246</i><i class=v243>243</i><i class=v231>231</i><i class=v234>234</i><i class=v204>204</i><i class=v194>194</i><i class=v184>184</i><i class=v181>181</i><i class=v183>183</i><i class=v138>138</i><i class=v175>175</i><i class=v142>142</i><i class=v188>188</i><i class=v172>172</i><i class=v170>170</i><i class=v179>179</i><i class=v173>173</i><i class=v147>147</i><i class=v139>139</i><i class=v124>124</i><i class=v133>133</i><i class=v126>126</i><i class=v138>138</i><i class=v166>166</i><i class=v169>169</i><i class=v154>154</i><i class=v123>123</i><i class=v133>133</i><i class=v120>120</i><i class=v180>180</i><i class=v150>150</i><i class=v144>144</i><i class=v144>144</i><i class=v162>162</i><i class=v174>174</i><i class=v165>165</i><i class=v132>132</i><i class=v123>123</i><i class=v147>147</i><i class=v121>121</i><i class=v105>105</i><i class=v84>84</i><i class=v0>0</i><i class=v69>69</i><i class=v90>90</i><i class=v99>99</i><i class=v129>129</i><i class=v120>120</i><i class=v120>120</i><i class=v96>96</i><i class=v117>117</i><i class=v117>117</i><i class=v117>117</i><i class=v117>117</i><i class=v102>102</i><i class=v120>120</i></div><div><i class=v308>308</i><i class=v277>277</i><i class=v277>277</i><i class=v289>289</i><i class=v301>301</i><i class=v253>253</i><i class=v265>265</i><i class=v301>301</i><i class=v301>301</i><i class=v277>277</i><i class=v277>277</i><i class=v274>274</i><i class=v256>256</i><i class=v286>286</i><i class=v283>283</i><i class=v277>277</i><i class=v238>238</i><i class=v252>252</i><i class=v263>263</i><i class=v254>254</i><i class=v232>232</i><i class=v193>193</i><i class=v193>193</i><i class=v188>188</i><i class=v211>211</i><i class=v192>192</i><i class=v186>186</i><i class=v204>204</i><i class=v204>204</i><i class=v150>150</i><i class=v276>276</i><i class=v261>261</i><i class=v249>249</i><i class=v216>216</i><i class=v252>252</i><i class=v204>204</i><i class=v179>179</i><i class=v163>163</i><i class=v166>166</i><i class=v159>159</i><i class=v123>123</i><i class=v163>163</i><i class=v151>151</i><i class=v188>188</i><i class=v160>160</i><i class=v158>158</i><i class=v179>179</i><i class=v176>176</i><i class=v150>150</i><i class=v127>127</i><i class=v112>112</i><i class=v154>154</i><i class=v147>147</i><i class=v147>147</i><i class=v175>175</i><i class=v169>169</i><i class=v148>148</i><i class=v132>132</i><i class=v142>142</i><i class=v102>102</i><i class=v165>165</i><i class=v153>153</i><i class=v156>156</i><i class=v156>156</i><i class=v159>159</i><i class=v174>174</i><i class=v141>141</i><i class=v129>129</i><i class=v123>123</i><i class=v126>126</i><i class=v76>76</i><i class=v72>72</i><i class=v93>93</i><i class=v69>69</i><i class=v0>0</i><i class=v84>84</i><i class=v96>96</i><i class=v129>129</i><i class=v117>117</i><i class=v117>117</i><i class=v105>105</i><i class=v132>132</i><i class=v132>132</i><i class=v132>132</i><i class=v132>132</i><i class=v126>126</i><i class=v129>129</i></div><div><i class=v314>314</i><i class=v286>286</i><i class=v283>283</i><i class=v286>286</i><i class=v295>295</i><i class=v295>295</i><i class=v274>274</i><i class=v319>319</i><i class=v310>310</i><i class=v298>298</i><i class=v283>283</i><i class=v280>280</i><i class=v280>280</i><i class=v283>283</i><i class=v277>277</i><i class=v271>271</i><i class=v268>268</i><i class=v249>249</i><i class=v296>296</i><i class=v284>284</i><i class=v253>253</i><i class=v226>226</i><i class=v226>226</i><i class=v227>227</i><i class=v220>220</i><i class=v219>219</i><i class=v219>219</i><i class=v237>237</i><i class=v237>237</i><i class=v204>204</i><i class=v273>273</i><i class=v258>258</i><i class=v234>234</i><i class=v249>249</i><i class=v249>249</i><i class=v192>192</i><i class=v191>191</i><i class=v181>181</i><i class=v175>175</i><i class=v180>180</i><i class=v153>153</i><i class=v184>184</i><i class=v145>145</i><i class=v194>194</i><i class=v178>178</i><i class=v164>164</i><i class=v185>185</i><i class=v179>179</i><i class=v138>138</i><i class=v148>148</i><i class=v130>130</i><i class=v157>157</i><i class=v153>153</i><i class=v141>141</i><i class=v160>160</i><i class=v163>163</i><i class=v166>166</i><i class=v126>126</i><i class=v148>148</i><i class=v111>111</i><i class=v171>171</i><i class=v162>162</i><i class=v162>162</i><i class=v162>162</i><i class=v171>171</i><i class=v180>180</i><i class=v144>144</i><i class=v150>150</i><i class=v117>117</i><i class=v171>171</i><i class=v130>130</i><i class=v105>105</i><i class=v117>117</i><i class=v90>90</i><i class=v84>84</i><i class=v0>0</i><i class=v87>87</i><i class=v123>123</i><i class=v138>138</i><i class=v123>123</i><i class=v123>123</i><i class=v123>123</i><i class=v123>123</i><i class=v123>123</i><i class=v123>123</i><i class=v132>132</i><i class=v135>135</i></div><div><i class=v284>284</i><i class=v274>274</i><i class=v286>286</i><i class=v283>283</i><i class=v301>301</i><i class=v283>283</i><i class=v265>265</i><i class=v301>301</i><i class=v289>289</i><i class=v289>289</i><i class=v271>271</i><i class=v259>259</i><i class=v280>280</i><i class=v277>277</i><i class=v277>277</i><i class=v268>268</i><i class=v280>280</i><i class=v261>261</i><i class=v293>293</i><i class=v281>281</i><i class=v253>253</i><i class=v211>211</i><i class=v223>223</i><i class=v227>227</i><i class=v208>208</i><i class=v201>201</i><i class=v228>228</i><i class=v234>234</i><i class=v234>234</i><i class=v204>204</i><i class=v261>261</i><i class=v237>237</i><i class=v204>204</i><i class=v246>246</i><i class=v228>228</i><i class=v189>189</i><i class=v194>194</i><i class=v181>181</i><i class=v181>181</i><i class=v156>156</i><i class=v168>168</i><i class=v184>184</i><i class=v163>163</i><i class=v176>176</i><i class=v184>184</i><i class=v170>170</i><i class=v191>191</i><i class=v173>173</i><i class=v159>159</i><i class=v148>148</i><i class=v124>124</i><i class=v133>133</i><i class=v153>153</i><i class=v138>138</i><i class=v181>181</i><i class=v181>181</i><i class=v157>157</i><i class=v102>102</i><i class=v154>154</i><i class=v117>117</i><i class=v168>168</i><i class=v156>156</i><i class=v141>141</i><i class=v156>156</i><i class=v162>162</i><i class=v174>174</i><i class=v135>135</i><i class=v147>147</i><i class=v114>114</i><i class=v180>180</i><i class=v142>142</i><i class=v90>90</i><i class=v129>129</i><i class=v99>99</i><i class=v96>96</i><i class=v87>87</i><i class=v0>0</i><i class=v105>105</i><i class=v117>117</i><i class=v114>114</i><i class=v114>114</i><i class=v105>105</i><i class=v105>105</i><i class=v105>105</i><i class=v105>105</i><i class=v117>117</i><i class=v111>111</i></div><div><i class=v305>305</i><i class=v301>301</i><i class=v253>253</i><i class=v262>262</i><i class=v289>289</i><i class=v262>262</i><i class=v232>232</i><i class=v286>286</i><i class=v277>277</i><i class=v277>277</i><i class=v241>241</i><i class=v229>229</i><i class=v298>298</i><i class=v286>286</i><i class=v286>286</i><i class=v262>262</i><i class=v271>271</i><i class=v234>234</i><i class=v278>278</i><i class=v242>242</i><i class=v241>241</i><i class=v226>226</i><i class=v208>208</i><i class=v227>227</i><i class=v232>232</i><i class=v192>192</i><i class=v228>228</i><i class=v222>222</i><i class=v222>222</i><i class=v201>201</i><i class=v237>237</i><i class=v204>204</i><i class=v237>237</i><i class=v237>237</i><i class=v225>225</i><i class=v186>186</i><i class=v191>191</i><i class=v193>193</i><i class=v181>181</i><i class=v177>177</i><i class=v165>165</i><i class=v196>196</i><i class=v187>187</i><i class=v176>176</i><i class=v172>172</i><i class=v170>170</i><i class=v179>179</i><i class=v173>173</i><i class=v171>171</i><i class=v163>163</i><i class=v160>160</i><i class=v124>124</i><i class=v156>156</i><i class=v144>144</i><i class=v196>196</i><i class=v169>169</i><i class=v169>169</i><i class=v147>147</i><i class=v163>163</i><i class=v117>117</i><i class=v180>180</i><i class=v156>156</i><i class=v165>165</i><i class=v144>144</i><i class=v174>174</i><i class=v156>156</i><i class=v159>159</i><i class=v153>153</i><i class=v114>114</i><i class=v171>171</i><i class=v139>139</i><i class=v102>102</i><i class=v141>141</i><i class=v129>129</i><i class=v129>129</i><i class=v123>123</i><i class=v105>105</i><i class=v0>0</i><i class=v126>126</i><i class=v93>93</i><i class=v102>102</i><i class=v117>117</i><i class=v105>105</i><i class=v99>99</i><i class=v99>99</i><i class=v123>123</i><i class=v114>114</i></div><div><i class=v305>305</i><i class=v289>289</i><i class=v280>280</i><i class=v277>277</i><i class=v268>268</i><i class=v259>259</i><i class=v241>241</i><i class=v298>298</i><i class=v277>277</i><i class=v259>259</i><i class=v247>247</i><i class=v250>250</i><i class=v289>289</i><i class=v286>286</i><i class=v286>286</i><i class=v250>250</i><i class=v271>271</i><i class=v261>261</i><i class=v275>275</i><i class=v248>248</i><i class=v241>241</i><i class=v211>211</i><i class=v211>211</i><i class=v206>206</i><i class=v202>202</i><i class=v201>201</i><i class=v210>210</i><i class=v222>222</i><i class=v222>222</i><i class=v219>219</i><i class=v273>273</i><i class=v261>261</i><i class=v222>222</i><i class=v222>222</i><i class=v222>222</i><i class=v222>222</i><i class=v170>170</i><i class=v184>184</i><i class=v202>202</i><i class=v183>183</i><i class=v159>159</i><i class=v199>199</i><i class=v163>163</i><i class=v173>173</i><i class=v181>181</i><i class=v191>191</i><i class=v173>173</i><i class=v173>173</i><i class=v159>159</i><i class=v160>160</i><i class=v160>160</i><i class=v157>157</i><i class=v162>162</i><i class=v135>135</i><i class=v187>187</i><i class=v154>154</i><i class=v178>178</i><i class=v147>147</i><i class=v142>142</i><i class=v117>117</i><i class=v192>192</i><i class=v177>177</i><i class=v165>165</i><i class=v153>153</i><i class=v162>162</i><i class=v147>147</i><i class=v180>180</i><i class=v162>162</i><i class=v162>162</i><i class=v159>159</i><i class=v142>142</i><i class=v114>114</i><i class=v132>132</i><i class=v120>120</i><i class=v117>117</i><i class=v138>138</i><i class=v117>117</i><i class=v126>126</i><i class=v0>0</i><i class=v45>45</i><i class=v57>57</i><i class=v111>111</i><i class=v111>111</i><i class=v111>111</i><i class=v111>111</i><i class=v105>105</i><i class=v102>102</i></div><div><i class=v293>293</i><i class=v265>265</i><i class=v247>247</i><i class=v253>253</i><i class=v259>259</i><i class=v250>250</i><i class=v208>208</i><i class=v277>277</i><i class=v265>265</i><i class=v247>247</i><i class=v226>226</i><i class=v229>229</i><i class=v268>268</i><i class=v265>265</i><i class=v265>265</i><i class=v241>241</i><i class=v262>262</i><i class=v240>240</i><i class=v266>266</i><i class=v239>239</i><i class=v232>232</i><i class=v202>202</i><i class=v202>202</i><i class=v197>197</i><i class=v199>199</i><i class=v192>192</i><i class=v201>201</i><i class=v213>213</i><i class=v213>213</i><i class=v210>210</i><i class=v240>240</i><i class=v228>228</i><i class=v213>213</i><i class=v213>213</i><i class=v210>210</i><i class=v195>195</i><i class=v179>179</i><i class=v184>184</i><i class=v193>193</i><i class=v192>192</i><i class=v150>150</i><i class=v199>199</i><i class=v154>154</i><i class=v164>164</i><i class=v172>172</i><i class=v182>182</i><i class=v167>167</i><i class=v164>164</i><i class=v150>150</i><i class=v151>151</i><i class=v160>160</i><i class=v148>148</i><i class=v156>156</i><i class=v126>126</i><i class=v178>178</i><i class=v145>145</i><i class=v169>169</i><i class=v135>135</i><i class=v133>133</i><i class=v108>108</i><i class=v189>189</i><i class=v168>168</i><i class=v156>156</i><i class=v144>144</i><i class=v162>162</i><i class=v138>138</i><i class=v180>180</i><i class=v138>138</i><i class=v138>138</i><i class=v150>150</i><i class=v133>133</i><i class=v111>111</i><i class=v132>132</i><i class=v120>120</i><i class=v117>117</i><i class=v123>123</i><i class=v114>114</i><i class=v93>93</i><i class=v45>45</i><i class=v0>0</i><i class=v60>60</i><i class=v90>90</i><i class=v90>90</i><i class=v90>90</i><i class=v90>90</i><i class=v93>93</i><i class=v81>81</i></div><div><i class=v290>290</i><i class=v289>289</i><i class=v253>253</i><i class=v265>265</i><i class=v259>259</i><i class=v238>238</i><i class=v220>220</i><i class=v277>277</i><i class=v289>289</i><i class=v271>271</i><i class=v253>253</i><i class=v259>259</i><i class=v280>280</i><i class=v277>277</i><i class=v277>277</i><i class=v241>241</i><i class=v250>250</i><i class=v228>228</i><i class=v242>242</i><i class=v224>224</i><i class=v208>208</i><i class=v190>190</i><i class=v178>178</i><i class=v173>173</i><i class=v181>181</i><i class=v168>168</i><i class=v177>177</i><i class=v189>189</i><i class=v189>189</i><i class=v198>198</i><i class=v252>252</i><i class=v240>240</i><i class=v210>210</i><i class=v213>213</i><i class=v210>210</i><i class=v195>195</i><i class=v191>191</i><i class=v196>196</i><i class=v205>205</i><i class=v192>192</i><i class=v144>144</i><i class=v187>187</i><i class=v166>166</i><i class=v176>176</i><i class=v172>172</i><i class=v182>182</i><i class=v176>176</i><i class=v155>155</i><i class=v150>150</i><i class=v151>151</i><i class=v157>157</i><i class=v136>136</i><i class=v153>153</i><i class=v114>114</i><i class=v190>190</i><i class=v157>157</i><i class=v166>166</i><i class=v135>135</i><i class=v145>145</i><i class=v120>120</i><i class=v189>189</i><i class=v165>165</i><i class=v159>159</i><i class=v141>141</i><i class=v150>150</i><i class=v150>150</i><i class=v180>180</i><i class=v126>126</i><i class=v138>138</i><i class=v150>150</i><i class=v133>133</i><i class=v99>99</i><i class=v108>108</i><i class=v96>96</i><i class=v105>105</i><i class=v123>123</i><i class=v114>114</i><i class=v102>102</i><i class=v57>57</i><i class=v60>60</i><i class=v0>0</i><i class=v99>99</i><i class=v99>99</i><i class=v99>99</i><i class=v99>99</i><i class=v84>84</i><i class=v84>84</i></div><div><i class=v311>311</i><i class=v289>289</i><i class=v283>283</i><i class=v289>289</i><i class=v265>265</i><i class=v289>289</i><i class=v241>241</i><i class=v253>253</i><i class=v259>259</i><i class=v265>265</i><i class=v247>247</i><i class=v232>232</i><i class=v244>244</i><i class=v259>259</i><i class=v247>247</i><i class=v244>244</i><i class=v262>262</i><i class=v249>249</i><i class=v278>278</i><i class=v266>266</i><i class=v241>241</i><i class=v229>229</i><i class=v226>226</i><i class=v221>221</i><i class=v208>208</i><i class=v198>198</i><i class=v225>225</i><i class=v225>225</i><i class=v225>225</i><i class=v213>213</i><i class=v252>252</i><i class=v240>240</i><i class=v222>222</i><i class=v240>240</i><i class=v201>201</i><i class=v174>174</i><i class=v197>197</i><i class=v187>187</i><i class=v193>193</i><i class=v183>183</i><i class=v162>162</i><i class=v187>187</i><i class=v154>154</i><i class=v161>161</i><i class=v166>166</i><i class=v170>170</i><i class=v176>176</i><i class=v149>149</i><i class=v144>144</i><i class=v142>142</i><i class=v160>160</i><i class=v127>127</i><i class=v156>156</i><i class=v114>114</i><i class=v160>160</i><i class=v166>166</i><i class=v148>148</i><i class=v126>126</i><i class=v142>142</i><i class=v111>111</i><i class=v174>174</i><i class=v156>156</i><i class=v144>144</i><i class=v144>144</i><i class=v156>156</i><i class=v162>162</i><i class=v171>171</i><i class=v138>138</i><i class=v135>135</i><i class=v171>171</i><i class=v148>148</i><i class=v114>114</i><i class=v123>123</i><i class=v117>117</i><i class=v132>132</i><i class=v123>123</i><i class=v105>105</i><i class=v117>117</i><i class=v111>111</i><i class=v90>90</i><i class=v99>99</i><i class=v0>0</i><i class=v36>36</i><i class=v36>36</i><i class=v36>36</i><i class=v81>81</i><i class=v57>57</i></div><div><i class=v299>299</i><i class=v289>289</i><i class=v283>283</i><i class=v277>277</i><i class=v265>265</i><i class=v286>286</i><i class=v250>250</i><i class=v259>259</i><i class=v259>259</i><i class=v265>265</i><i class=v247>247</i><i class=v235>235</i><i class=v244>244</i><i class=v259>259</i><i class=v259>259</i><i class=v247>247</i><i class=v265>265</i><i class=v249>249</i><i class=v278>278</i><i class=v254>254</i><i class=v241>241</i><i class=v229>229</i><i class=v226>226</i><i class=v221>221</i><i class=v208>208</i><i class=v201>201</i><i class=v225>225</i><i class=v225>225</i><i class=v225>225</i><i class=v213>213</i><i class=v249>249</i><i class=v240>240</i><i class=v222>222</i><i class=v240>240</i><i class=v201>201</i><i class=v174>174</i><i class=v197>197</i><i class=v187>187</i><i class=v193>193</i><i class=v183>183</i><i class=v162>162</i><i class=v190>190</i><i class=v154>154</i><i class=v164>164</i><i class=v169>169</i><i class=v170>170</i><i class=v167>167</i><i class=v140>140</i><i class=v147>147</i><i class=v154>154</i><i class=v160>160</i><i class=v130>130</i><i class=v156>156</i><i class=v117>117</i><i class=v160>160</i><i class=v169>169</i><i class=v160>160</i><i class=v126>126</i><i class=v142>142</i><i class=v114>114</i><i class=v177>177</i><i class=v156>156</i><i class=v156>156</i><i class=v144>144</i><i class=v144>144</i><i class=v159>159</i><i class=v159>159</i><i class=v141>141</i><i class=v132>132</i><i class=v174>174</i><i class=v148>148</i><i class=v114>114</i><i class=v120>120</i><i class=v117>117</i><i class=v132>132</i><i class=v123>123</i><i class=v105>105</i><i class=v105>105</i><i class=v111>111</i><i class=v90>90</i><i class=v99>99</i><i class=v36>36</i><i class=v0>0</i><i class=v21>21</i><i class=v24>24</i><i class=v81>81</i><i class=v66>66</i></div><div><i class=v308>308</i><i class=v289>289</i><i class=v283>283</i><i class=v286>286</i><i class=v262>262</i><i class=v277>277</i><i class=v250>250</i><i class=v259>259</i><i class=v259>259</i><i class=v265>265</i><i class=v247>247</i><i class=v235>235</i><i class=v244>244</i><i class=v256>256</i><i class=v259>259</i><i class=v247>247</i><i class=v265>265</i><i class=v240>240</i><i class=v269>269</i><i class=v251>251</i><i class=v241>241</i><i class=v229>229</i><i class=v226>226</i><i class=v221>221</i><i class=v208>208</i><i class=v201>201</i><i class=v225>225</i><i class=v225>225</i><i class=v225>225</i><i class=v210>210</i><i class=v252>252</i><i class=v240>240</i><i class=v222>222</i><i class=v240>240</i><i class=v201>201</i><i class=v168>168</i><i class=v197>197</i><i class=v187>187</i><i class=v193>193</i><i class=v183>183</i><i class=v159>159</i><i class=v190>190</i><i class=v154>154</i><i class=v164>164</i><i class=v169>169</i><i class=v170>170</i><i class=v176>176</i><i class=v140>140</i><i class=v147>147</i><i class=v154>154</i><i class=v160>160</i><i class=v127>127</i><i class=v156>156</i><i class=v117>117</i><i class=v151>151</i><i class=v169>169</i><i class=v160>160</i><i class=v126>126</i><i class=v142>142</i><i class=v114>114</i><i class=v177>177</i><i class=v153>153</i><i class=v156>156</i><i class=v144>144</i><i class=v156>156</i><i class=v159>159</i><i class=v171>171</i><i class=v141>141</i><i class=v135>135</i><i class=v174>174</i><i class=v145>145</i><i class=v114>114</i><i class=v123>123</i><i class=v117>117</i><i class=v132>132</i><i class=v123>123</i><i class=v105>105</i><i class=v99>99</i><i class=v111>111</i><i class=v90>90</i><i class=v99>99</i><i class=v36>36</i><i class=v21>21</i><i class=v0>0</i><i class=v12>12</i><i class=v81>81</i><i class=v69>69</i></div><div><i class=v311>311</i><i class=v289>289</i><i class=v283>283</i><i class=v289>289</i><i class=v265>265</i><i class=v289>289</i><i class=v250>250</i><i class=v259>259</i><i class=v259>259</i><i class=v265>265</i><i class=v247>247</i><i class=v235>235</i><i class=v235>235</i><i class=v259>259</i><i class=v259>259</i><i class=v247>247</i><i class=v265>265</i><i class=v240>240</i><i class=v260>260</i><i class=v239>239</i><i class=v229>229</i><i class=v229>229</i><i class=v226>226</i><i class=v221>221</i><i class=v208>208</i><i class=v201>201</i><i class=v225>225</i><i class=v225>225</i><i class=v225>225</i><i class=v210>210</i><i class=v252>252</i><i class=v240>240</i><i class=v222>222</i><i class=v240>240</i><i class=v201>201</i><i class=v168>168</i><i class=v197>197</i><i class=v187>187</i><i class=v193>193</i><i class=v183>183</i><i class=v159>159</i><i class=v190>190</i><i class=v142>142</i><i class=v164>164</i><i class=v160>160</i><i class=v170>170</i><i class=v179>179</i><i class=v128>128</i><i class=v147>147</i><i class=v154>154</i><i class=v160>160</i><i class=v127>127</i><i class=v156>156</i><i class=v117>117</i><i class=v139>139</i><i class=v163>163</i><i class=v154>154</i><i class=v126>126</i><i class=v142>142</i><i class=v114>114</i><i class=v177>177</i><i class=v156>156</i><i class=v156>156</i><i class=v144>144</i><i class=v156>156</i><i class=v162>162</i><i class=v171>171</i><i class=v141>141</i><i class=v135>135</i><i class=v174>174</i><i class=v145>145</i><i class=v114>114</i><i class=v123>123</i><i class=v117>117</i><i class=v132>132</i><i class=v123>123</i><i class=v105>105</i><i class=v99>99</i><i class=v111>111</i><i class=v90>90</i><i class=v99>99</i><i class=v36>36</i><i class=v24>24</i><i class=v12>12</i><i class=v0>0</i><i class=v81>81</i><i class=v69>69</i></div><div><i class=v317>317</i><i class=v295>295</i><i class=v292>292</i><i class=v298>298</i><i class=v292>292</i><i class=v283>283</i><i class=v250>250</i><i class=v286>286</i><i class=v298>298</i><i class=v289>289</i><i class=v262>262</i><i class=v262>262</i><i class=v277>277</i><i class=v286>286</i><i class=v286>286</i><i class=v274>274</i><i class=v268>268</i><i class=v249>249</i><i class=v257>257</i><i class=v257>257</i><i class=v229>229</i><i class=v217>217</i><i class=v199>199</i><i class=v200>200</i><i class=v199>199</i><i class=v189>189</i><i class=v204>204</i><i class=v198>198</i><i class=v204>204</i><i class=v207>207</i><i class=v252>252</i><i class=v243>243</i><i class=v234>234</i><i class=v228>228</i><i class=v198>198</i><i class=v192>192</i><i class=v179>179</i><i class=v166>166</i><i class=v181>181</i><i class=v168>168</i><i class=v153>153</i><i class=v175>175</i><i class=v148>148</i><i class=v152>152</i><i class=v160>160</i><i class=v158>158</i><i class=v167>167</i><i class=v137>137</i><i class=v126>126</i><i class=v139>139</i><i class=v148>148</i><i class=v100>100</i><i class=v135>135</i><i class=v102>102</i><i class=v163>163</i><i class=v157>157</i><i class=v142>142</i><i class=v138>138</i><i class=v121>121</i><i class=v96>96</i><i class=v165>165</i><i class=v138>138</i><i class=v135>135</i><i class=v132>132</i><i class=v138>138</i><i class=v150>150</i><i class=v156>156</i><i class=v135>135</i><i class=v135>135</i><i class=v159>159</i><i class=v142>142</i><i class=v108>108</i><i class=v114>114</i><i class=v102>102</i><i class=v126>126</i><i class=v132>132</i><i class=v117>117</i><i class=v123>123</i><i class=v105>105</i><i class=v93>93</i><i class=v84>84</i><i class=v81>81</i><i class=v81>81</i><i class=v81>81</i><i class=v81>81</i><i class=v0>0</i><i class=v69>69</i></div><div><i class=v311>311</i><i class=v289>289</i><i class=v283>283</i><i class=v289>289</i><i class=v283>283</i><i class=v286>286</i><i class=v235>235</i><i class=v268>268</i><i class=v280>280</i><i class=v283>283</i><i class=v229>229</i><i class=v250>250</i><i class=v268>268</i><i class=v277>277</i><i class=v265>265</i><i class=v262>262</i><i class=v268>268</i><i class=v252>252</i><i class=v260>260</i><i class=v260>260</i><i class=v232>232</i><i class=v226>226</i><i class=v211>211</i><i class=v197>197</i><i class=v202>202</i><i class=v204>204</i><i class=v213>213</i><i class=v201>201</i><i class=v201>201</i><i class=v210>210</i><i class=v240>240</i><i class=v237>237</i><i class=v234>234</i><i class=v225>225</i><i class=v198>198</i><i class=v174>174</i><i class=v191>191</i><i class=v175>175</i><i class=v181>181</i><i class=v177>177</i><i class=v156>156</i><i class=v175>175</i><i class=v166>166</i><i class=v152>152</i><i class=v172>172</i><i class=v170>170</i><i class=v179>179</i><i class=v137>137</i><i class=v147>147</i><i class=v139>139</i><i class=v160>160</i><i class=v121>121</i><i class=v156>156</i><i class=v108>108</i><i class=v178>178</i><i class=v169>169</i><i class=v151>151</i><i class=v120>120</i><i class=v118>118</i><i class=v96>96</i><i class=v165>165</i><i class=v153>153</i><i class=v153>153</i><i class=v144>144</i><i class=v135>135</i><i class=v150>150</i><i class=v165>165</i><i class=v114>114</i><i class=v102>102</i><i class=v174>174</i><i class=v145>145</i><i class=v111>111</i><i class=v108>108</i><i class=v120>120</i><i class=v129>129</i><i class=v135>135</i><i class=v111>111</i><i class=v114>114</i><i class=v102>102</i><i class=v81>81</i><i class=v84>84</i><i class=v57>57</i><i class=v66>66</i><i class=v69>69</i><i class=v69>69</i><i class=v69>69</i><i class=v0>0</i></div></div>
<div id="cl"><div style="left:471.00px">P12 NA P12_TCR6 TRAV13 2*01_TRBV5 1*01_CAENRSPSQ AGTALIF_CASSAGTGNEKLFF</div><div style="left:489.67px">P12 tp3 NA TRAV20_TRBV5 1_C AVQVNTAAGNKLTF_CASLPTGGNEQFF</div><div style="left:508.34px">P3 tp1 NA TRAV20_TRBV5 1_C AVQEGNAGNMLTF_CASSGGTGGIEQYF</div><div style="left:527.01px">P1 tp1 NA TRAV20_TRBV5 1_C AVHPGGGATNKLIF_CASGAGTGAGEQYF</div><div style="left:545.68px">P16 tp2 NA TRAV20_TRBV5 1_C AVHPPGAAGNKLTF_CASSTGQGEGTQYF</div><div style="left:564.35px">P5 tp1 NA TRAV20_TRBV5 1_C AVQASGSATNKLIF_CASSSGTGNTEAFF</div><div style="left:583.02px">P3 tp3 NA TRAV20_TRBV5 1_C AVRPSNTGKLIF_CASSIGTGDNEQFF</div><div style="left:601.69px">P7 tp1 NA TRAV20_TRBV5 1_C AVSTSKAAGNKLTF_CASSLGDRKETQYF</div><div style="left:620.36px">P7 tp2 NA TRAV20_TRBV5 1_C AVQAPAAGNKLTF_CASGPGTAQETQYF</div><div style="left:639.03px">P12 NA P12_TCR3 TRAV20*01_TRBV5 1*01_C AVHPSTAGNKLTF_CASGPGTGETTQYF</div><div style="left:657.70px">P1 tp1 NA TRAV20_TRBV5 1_C AVQAAGNKLTF_CASSPGTDYQPQHF</div><div style="left:676.37px">P3 tp1 NA TRAV20_TRBV5 1_C AVGAAGNKLTF_CASSLGTDSDTQYF</div><div style="left:695.04px">P1 tp2 NA TRAV20_TRBV5 1_C AVHPYSSASKIIF_CASSFPGEDTQYF</div><div style="left:713.71px">P9 tp1 NA TRAV20_TRBV5 1_C AVQPKAAGNKLTF_CATSTSGGTDTQYF</div><div style="left:732.38px">P9 tp1 NA TRAV20_TRBV5 1_C AVLPPGGGNKLTF_CASSVSGGTDTQYF</div><div style="left:751.05px">P3 tp4 NA TRAV20_TRBV5 1_C AVRAGGGNKLTF_CASSLGQGTDTQYF</div><div style="left:769.72px">P12 NA P12_TCR13 TRAV29/DV5*01_TRBV19*01_CAARSSGGSNYKLTF_CASSMRGANTEAFF</div><div style="left:788.39px">P12 tp2 NA TRAV10_TRBV10 3_CVVSFSTSGTYKYIF_CAISGRP RVGPEAFF</div><div style="left:807.06px">P12 tp2 NA TRAV10_TRBV7 6_CVVSESGTYKYIF_CASSFE AVNTEAFF</div><div style="left:825.73px">P1 tp3 NA TRAV10_TRBV6 1_CVVTDSGTYKYIF_CASSYGVMNTEAFF </div><div style="left:844.40px">P5 tp1 NA TRAV10_TRBV6 6_CVVSASGTYKYIF_CASSYGHGTEAFF </div><div style="left:863.07px">P3 tp1 NA TRAV27_TRBV10 3_C AGPYSGTYKYIF_CAISEILGNTEAFF</div><div style="left:881.74px">P7 tp2 NA TRAV29/DV5_TRBV10 3_CAASYSGTYKYIF_CAISDNSLGNTEAFF </div><div style="left:900.41px">P8 tp2 NA TRAV9 2_TRBV10 3_CALSDRG DYKLSF_CAISEDGGNTEAFF</div><div style="left:919.08px">P1 tp3 NA TRAV10_TRBV10 1_CVVSG RTYKYIF_CASSETGEREAFF</div><div style="left:937.75px">P1 tp3 NA TRAV10_TRBV10 3_C VGPYNTDKLIF_CAISRQGVKGTEAFF</div><div style="left:956.42px">P3 tp2 NA TRAV10_TRBV10 3_CVVSETGNQFYF_CAISEYGGNTEAFF </div><div style="left:975.09px">P12 tp3 NA TRAV10_TRBV10 3_CVVSYSGTYKYIF_CAISDDGFNTEAFF </div><div style="left:993.76px">P8 NA P8_TCR2 TRAV10*01_TRBV10 3*01_CVVSYSGTYKYIF_CAISEDGFNTEAFF </div><div style="left:1012.43px">P3 tp2 NA TRAV10_TRBV10 3_CVVKSGGGNK LTF_CAISGAMNTEAFF</div><div style="left:1031.10px">P14 tp2 NA TRAV39_TRBV10 3_C AVDRGTSGTYKYIF_CAISETSGSRNEQFF</div><div style="left:1049.77px">P1 tp3 NA TRAV39_TRBV10 3_C AVDGDSGTYKYIF_CAISETSGASFEQFF</div><div style="left:1068.44px">P16 tp1 NA TRAV39_TRBV10 3_C AVDKGSGTYKYIF_CAISEGRGQEKLFF</div><div style="left:1087.11px">P8 tp2 NA TRAV39_TRBV10 3_C AVGLDSGTYKYIF_CAISEDGFNTEAFF</div><div style="left:1105.78px">P12 NA P12_TCR2 TRAV39*01_TRBV10 3*01_C AVSEQGTYKYIF_CAISETGWQNIQYF</div><div style="left:1124.45px">P9 tp2 NA TRAV39_TRBV10 3_C AVSEGTYKYIF_CAITGNLQEEQYF</div><div style="left:1143.12px">P6 tp1 NA TRAV26 1_TRBV10 3_CI VGYEKLTF_CATAGGDYGYTF</div><div style="left:1161.79px">P13 tp2 NA TRAV12 1_TRBV10 3_CGSG DYKLSF_CASMGENNYGYTF</div><div style="left:1180.46px">P1 tp1 NA TRAV29/DV5_TRBV10 3_CA AGTYKYIF_CAISGDSYGYTF</div><div style="left:1199.13px">P16 tp2 NA TRAV41_TRBV19_C AVRSGNEKLTF_CASAGTANYGYTF</div><div style="left:1217.80px">P3 tp2 NA TRAV41_TRBV19_AQGGSEKLVF_CASSKEMYTEAFF</div><div style="left:1236.47px">P5 tp2 NA TRAV41_TRBV2_CA AQSGKLIF_CASPRDRNYGYTF</div><div style="left:1255.14px">P7 tp1 NA TRAV41_TRBV2_C AVGSDKLIF_CASSYRGFNGYTF</div><div style="left:1273.81px">P9 tp2 NA TRAV41_TRBV7 9_C AVRYTDKLIF_CASSPDRGYGYTF</div><div style="left:1292.48px">P8 tp1 NA TRAV41_TRBV11 1_C AVRTDKLIF_CASSFGRKYGYTF</div><div style="left:1311.15px">P16 tp1 NA TRAV41_TRBV6 1_CAL RYDKLIF_CASSGVGYGYTF</div><div style="left:1329.82px">P16 tp2 NA TRAV41_TRBV28_C AVGAQKLVF_CASSALRRGYGYTF</div><div style="left:1348.49px">P1 tp3 NA TRAV41_TRBV28_C AVTDGNKLVF_CASSYD RVIGYTF</div><div style="left:1367.16px">P3 tp3 NA TRAV41_TRBV19_CAARDDKIIF_CASSLQG LYGYTF</div><div style="left:1385.83px">P7 tp1 NA TRAV41_TRBV25 1_C AVKADKLIF_CASSVSGNYGYTF</div><div style="left:1404.50px">P3 tp3 NA TRAV41_TRBV6 5_C AVITDKLIF_CASGQTGSYGYTF</div><div style="left:1423.17px">P7 tp3 NA TRAV41_TRBV6 5_C AVSSTDKLIF_CASSLQMSYGYTF</div><div style="left:1441.84px">P16 tp3 NA TRAV41_TRBV10 3_C AVLRTALNF_CAISESRDSAGYTF</div><div style="left:1460.51px">P3 tp1 NA TRAV41_TRBV10 3_C AVSDDDKIIF_CAISLSGALDGYTF</div><div style="left:1479.18px">P1 tp2 NA TRAV41_TRBV6 5_CA AGSNQFYF_CASSYRVFDGYTF</div><div style="left:1497.85px">P13 tp2 NA TRAV41_TRBV6 6_C AVGNKLVF_CASSWGGRGGGYTF</div><div style="left:1516.52px">P5 tp1 NA TRAV41_TRBV6 6_WRG AQKLVF_CASSWTANYGYTF</div><div style="left:1535.19px">P12 tp2 NA TRAV41_TRBV10 3_ETSGSR LTF_CAISRDSEKLFF</div><div style="left:1553.86px">P2 tp2 NA TRAV41_TRBV10 1_C AVSSEKLTF_CASSPDRRGYTF</div><div style="left:1572.53px">P12 NA P12_TCR14 TRAV41*01_TRBV10 3*01_C AVGSDKLIF_CAISGDRDYGYTF</div><div style="left:1591.20px">P3 tp1 NA TRAV41_TRBV10 3_CAALLIQG AQKLVF_CAINGDRGFGYTF</div><div style="left:1609.87px">P6 tp3 NA TRAV41_TRBV10 3_CALNTN AGKSTF_CAISNSYGYTF</div><div style="left:1628.54px">P8 tp2 NA TRAV41_TRBV10 3_C AVARGGADGLTF_CAISETGAYGYTF</div><div style="left:1647.21px">P2 tp1 NA TRAV41_TRBV10 3_CA AQPPADGLTF_CAISQGYYGYTF</div><div style="left:1665.88px">P13 tp4 NA TRAV41_TRBV10 3_C AVRWDGSRLTF_CAIGRDTDYGYTF</div><div style="left:1684.55px">P14 tp2 NA TRAV41_TRBV10 3_C AVGASGSRLTF_CAISTGLSGWGYTF</div><div style="left:1703.22px">P8 tp1 NA TRAV41_TRBV10 3_CAALNTGNQFYF_C ATRGPTNYGYTF</div><div style="left:1721.89px">P6 tp1 NA TRAV41_TRBV10 3_C AVSTGNQFYF_CAIRRDRDHEQYF</div><div style="left:1740.56px">P12 tp1 NA TRAV41_TRBV10 3_C AVSNFNKFYF_CAIRGDSPYEQYF</div><div style="left:1759.23px">P12 NA P12_TCR8 TRAV41*01_TRBV10 3*01_C AVGTTGNQFYF_CAISDAARATEAFF</div><div style="left:1777.90px">P7 tp2 NA TRAV41_TRBV6 5_C AVGVDKLIF_CASSGAMNTEAFF</div><div style="left:1796.57px">P7 tp1 NA TRAV41_TRBV10 3_CALHNTDKLIF_CAINGVNTEAFF </div><div style="left:1815.24px">P16 tp3 NA TRAV41_TRBV10 3_C AVSPSADKLIF_CATGGRSDTEAFF</div><div style="left:1833.91px">P16 tp2 NA TRAV41_TRBV10 3_C AVSPDKLIF_CAIKDRGSAEAFF</div><div style="left:1852.58px">P5 tp3 NA TRAV41_TRBV10 3_C AVVTDKLIF_CAIKGAGNTEAFF</div><div style="left:1871.25px">P8 tp1 NA TRAV41_TRBV10 3_C AVINDKVIF_CAITGRGTGELFF</div><div style="left:1889.92px">P9 tp2 NA TRAV41_TRBV10 3_C AVPNTDKLIF_CAIRGTGSEKLFF</div><div style="left:1908.59px">P7 tp1 NA TRAV41_TRBV10 3_C AVTNTDKLIF_CAISGGTSLSYEQYF</div><div style="left:1927.26px">P3 tp4 NA TRAV41_TRBV10 3_C AVGDTDKLIF_CATAPGQGDRVAFF</div><div style="left:1945.93px">P3 tp2 NA TRAV41_TRBV10 3_C AVGDTDKLIF_CAISPGPGDREQYF</div><div style="left:1964.60px">P8 tp2 NA TRAV41_TRBV10 3_C AVSDTDKLIF_CAISRGQGDLEAFF</div><div style="left:1983.27px">P3 tp2 NA TRAV41_TRBV10 3_C AVADTDKLIF_CAISVRQEETQYF</div><div style="left:2001.94px">P3 tp2 NA TRAV41_TRBV10 3_C AVTDTDKLIF_CAISARTEETQYF</div><div style="left:2020.61px">P3 tp2 NA TRAV41_TRBV10 3_C AVTDTDKLIF_CAISSRIEETQYF</div><div style="left:2039.28px">P3 tp1 NA TRAV41_TRBV10 3_C AVTDTDKLIF_CAISYRIEETQYF</div><div style="left:2057.95px">P3 tp4 NA TRAV41_TRBV10 3_C AVSDTDKLIF_CAISDQPDSGRKI</div><div style="left:2076.62px">P3 tp1 NA TRAV41_TRBV10 3_C AVSDTDKLIF_CAISVDSDQPQHF</div></div>
<div id="an"><div style="left:424.2px">patient_id</div><div style="left:435.6px">timepoint_char</div><div style="left:447.1px">source</div><div style="left:458.5px">cluster</div></div>
<div id="lg"><b style="left:2100.7px;top:316.7px">patient_id</b><u style="left:2100.7px;top:328.35px;background:#1e90ff"></u><span style="left:2111.6px;top:327.6px">P16</span><u style="left:2100.7px;top:336.88px;background:#e41a1c"></u><span style="left:2111.6px;top:336.1px">P6</span><u style="left:2100.7px;top:345.41px;background:#008b00"></u><span style="left:2111.6px;top:344.7px">P14</span><u style="left:2100.7px;top:353.94px;background:#ff1493"></u><span style="left:2111.6px;top:353.2px">P13</span><u style="left:2100.7px;top:362.47px;background:#6a3d9a"></u><span style="left:2111.6px;top:361.7px">P12</span><u style="left:2100.7px;top:371.00px;background:#ff7f00"></u><span style="left:2111.6px;top:370.2px">P5</span><u style="left:2100.7px;top:379.53px;background:#000000"></u><span style="left:2111.6px;top:378.8px">P8</span><u style="left:2100.7px;top:388.06px;background:#ffd700"></u><span style="left:2111.6px;top:387.3px">P1</span><u style="left:2100.7px;top:396.59px;background:#90ee90"></u><span style="left:2111.6px;top:395.8px">P3</span><u style="left:2100.7px;top:405.12px;background:#8b4500"></u><span style="left:2111.6px;top:404.4px">P7</span><u style="left:2100.7px;top:413.65px;background:#ff83fa"></u><span style="left:2111.6px;top:412.9px">P9</span><u style="left:2100.7px;top:422.18px;background:#00ced1"></u><span style="left:2111.6px;top:421.4px">P2</span><b style="left:2100.7px;top:437.3px">timepoint_char</b><u style="left:2100.7px;top:448.95px;background:#e5e5e5"></u><span style="left:2111.6px;top:448.2px">tp1</span><u style="left:2100.7px;top:457.48px;background:#999999"></u><span style="left:2111.6px;top:456.7px">tp2</span><u style="left:2100.7px;top:466.01px;background:#4d4d4d"></u><span style="left:2111.6px;top:465.3px">tp3</span><u style="left:2100.7px;top:474.54px;background:#1a1a1a"></u><span style="left:2111.6px;top:473.8px">tp4</span><b style="left:2100.7px;top:489.8px">source</b><u style="left:2100.7px;top:501.45px;background:#bebebe"></u><span style="left:2111.6px;top:500.7px">FLC</span><u style="left:2100.7px;top:509.98px;background:#00ff00"></u><span style="left:2111.6px;top:509.2px">known</span><b style="left:2100.7px;top:525.0px">cluster</b><u style="left:2100.7px;top:536px;height:46px;background:linear-gradient(#e7549a,#ffffff)"></u><span style="left:2111.6px;top:533.3px">P12-TCR2/</span><span style="left:2111.6px;top:541.9px">P8-TCR2</span><span style="left:2111.6px;top:554.0px">P12-TCR8/</span><span style="left:2111.6px;top:563.0px">P12-TCR14</span><span style="left:2111.6px;top:575.3px">P12-TCR3</span><b style="left:2100.7px;top:588.1px">matrix_40</b><u style="left:2100.7px;top:599.8px;height:43.7px;background:linear-gradient(#ff0000 0.0%,#ff0000 2.5%,#ff0000 5.0%,#ff0000 7.5%,#ff0000 10.0%,#ff0000 12.5%,#ff0000 15.0%,#ff0000 17.5%,#ff0802 20.0%,#ff3018 22.5%,#ff4528 25.0%,#ff5636 27.5%,#ff6544 30.0%,#ff7251 32.5%,#ff7f5f 35.0%,#ff8b6d 37.5%,#ff977b 40.0%,#ffa289 42.5%,#ffae97 45.0%,#ffb9a5 47.5%,#ffc4b4 50.0%,#fdcec2 52.5%,#f9d9d1 55.0%,#f4e4e0 57.5%,#eeedee 60.0%,#e7e0f0 62.5%,#dfd2f2 65.0%,#d7c5f3 67.5%,#cfb8f5 70.0%,#c7abf6 72.5%,#be9df7 75.0%,#b490f9 77.5%,#aa83fa 80.0%,#9f76fb 82.5%,#9469fb 85.0%,#875bfc 87.5%,#794efd 90.0%,#693ffe 92.5%,#5630fe 95.0%,#3d1eff 97.5%,#0000ff 100.0%)"></u><span style="left:2111.6px;top:596.7px">400</span><span style="left:2111.6px;top:606.9px">300</span><span style="left:2111.6px;top:617.5px">200</span><span style="left:2111.6px;top:628.0px">100</span><span style="left:2111.6px;top:638.5px">0</span></div>
</body></html>
